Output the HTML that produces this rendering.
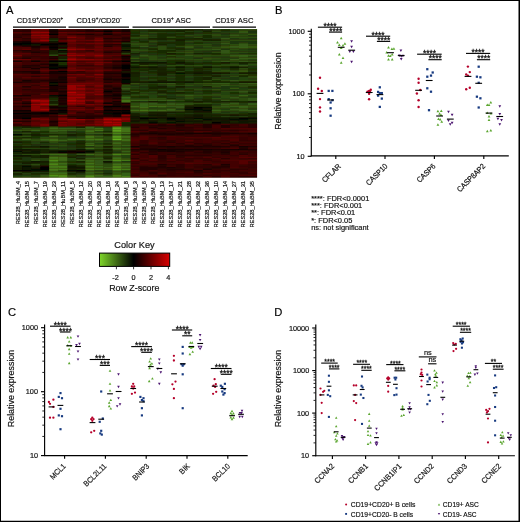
<!DOCTYPE html>
<html lang="en">
<head>
<meta charset="utf-8">
<title>Figure</title>
<style>
html,body{margin:0;padding:0;background:#fff;}
body{width:520px;height:522px;overflow:hidden;}
svg{display:block;font-family:"Liberation Sans",sans-serif;will-change:transform;}
text{stroke:#111;stroke-width:.18px;}
</style>
</head>
<body>
<svg width="520" height="522" viewBox="0 0 520 522">
<rect width="520" height="522" fill="#fff"/>
<defs><filter id="hb" x="0" y="0" width="1" height="1"><feGaussianBlur stdDeviation="0.45"/></filter></defs>
<rect x="13" y="29" width="244" height="148.5" fill="#2a1200"/>
<g filter="url(#hb)">
<path fill="#300000" d="M13 29h9.14v1.6h-9.14zM103.37 29h9.14v1.6h-9.14zM13 33.5h9.14v1.6h-9.14zM67.22 33.5h9.14v1.6h-9.14zM112.41 33.5h9.14v1.6h-9.14zM13 35h9.14v1.6h-9.14zM49.15 35h9.14v1.6h-9.14zM112.41 35h9.14v1.6h-9.14zM40.11 45.5h9.14v1.6h-9.14zM31.07 50h9.14v1.6h-9.14zM40.11 50h9.14v1.6h-9.14zM58.19 54.5h9.14v1.6h-9.14zM31.07 56h9.14v1.6h-9.14zM13 57.5h9.14v1.6h-9.14zM112.41 63.5h9.14v1.6h-9.14zM13 66.5h9.14v1.6h-9.14zM31.07 66.5h9.14v1.6h-9.14zM103.37 68h9.14v1.6h-9.14zM103.37 71h9.14v1.6h-9.14zM112.41 71h9.14v1.6h-9.14zM22.04 72.5h9.14v1.6h-9.14zM103.37 74h9.14v1.6h-9.14zM31.07 78.5h9.14v1.6h-9.14zM31.07 84.5h9.14v1.6h-9.14zM40.11 89h9.14v1.6h-9.14zM58.19 89h9.14v1.6h-9.14zM112.41 92h9.14v1.6h-9.14zM103.37 93.5h9.14v1.6h-9.14zM103.37 98h9.14v1.6h-9.14zM22.04 101h9.14v1.6h-9.14zM13 102.5h9.14v1.6h-9.14zM76.26 105.5h9.14v1.6h-9.14zM94.33 111.5h9.14v1.6h-9.14zM85.3 113h9.14v1.6h-9.14zM13 123.5h9.14v1.6h-9.14zM130.48 123.5h9.14v1.6h-9.14zM184.7 123.5h9.14v1.6h-9.14zM211.81 123.5h9.14v1.6h-9.14zM13 125h9.14v1.6h-9.14zM130.48 125h9.14v1.6h-9.14zM139.52 125h9.14v1.6h-9.14zM193.74 125h9.14v1.6h-9.14zM229.89 125h9.14v1.6h-9.14zM166.63 126.5h9.14v1.6h-9.14zM166.63 128h9.14v1.6h-9.14zM175.67 128h9.14v1.6h-9.14zM184.7 128h9.14v1.6h-9.14zM130.48 129.5h9.14v1.6h-9.14zM220.85 129.5h9.14v1.6h-9.14zM157.59 131h9.14v1.6h-9.14zM211.81 131h9.14v1.6h-9.14zM202.78 134h9.14v1.6h-9.14zM238.93 134h9.14v1.6h-9.14zM130.48 135.5h9.14v1.6h-9.14zM202.78 135.5h9.14v1.6h-9.14zM211.81 135.5h9.14v1.6h-9.14zM157.59 138.5h9.14v1.6h-9.14zM139.52 140h9.14v1.6h-9.14zM166.63 140h9.14v1.6h-9.14zM238.93 140h9.14v1.6h-9.14zM139.52 141.5h9.14v1.6h-9.14zM157.59 141.5h9.14v1.6h-9.14zM229.89 141.5h9.14v1.6h-9.14zM202.78 143h9.14v1.6h-9.14zM229.89 146h9.14v1.6h-9.14zM130.48 150.5h9.14v1.6h-9.14zM211.81 152h9.14v1.6h-9.14zM238.93 152h9.14v1.6h-9.14zM175.67 153.5h9.14v1.6h-9.14zM229.89 155h9.14v1.6h-9.14zM175.67 156.5h9.14v1.6h-9.14zM184.7 158h9.14v1.6h-9.14zM193.74 158h9.14v1.6h-9.14zM139.52 159.5h9.14v1.6h-9.14zM157.59 159.5h9.14v1.6h-9.14zM175.67 159.5h9.14v1.6h-9.14zM202.78 159.5h9.14v1.6h-9.14zM166.63 161h9.14v1.6h-9.14zM130.48 162.5h9.14v1.6h-9.14zM193.74 165.5h9.14v1.6h-9.14zM202.78 165.5h9.14v1.6h-9.14zM193.74 167h9.14v1.6h-9.14zM202.78 167h9.14v1.6h-9.14zM247.96 167h9.14v1.6h-9.14zM157.59 168.5h9.14v1.6h-9.14zM238.93 168.5h9.14v1.6h-9.14zM157.59 170h9.14v1.6h-9.14zM184.7 170h9.14v1.6h-9.14zM211.81 170h9.14v1.6h-9.14zM220.85 170h9.14v1.6h-9.14zM202.78 171.5h9.14v1.6h-9.14zM211.81 171.5h9.14v1.6h-9.14zM229.89 171.5h9.14v1.6h-9.14zM238.93 171.5h9.14v1.6h-9.14zM238.93 173h9.14v1.6h-9.14zM157.59 176h9.14v1.6h-9.14zM184.7 176h9.14v1.6h-9.14zM229.89 176h9.14v1.6h-9.14z"/>
<path fill="#2a0000" d="M22.04 29h9.14v1.6h-9.14zM13 30.5h9.14v1.6h-9.14zM22.04 30.5h9.14v1.6h-9.14zM76.26 30.5h9.14v1.6h-9.14zM121.44 33.5h9.14v1.6h-9.14zM13 36.5h9.14v1.6h-9.14zM49.15 36.5h9.14v1.6h-9.14zM121.44 36.5h9.14v1.6h-9.14zM22.04 38h9.14v1.6h-9.14zM112.41 38h9.14v1.6h-9.14zM103.37 41h9.14v1.6h-9.14zM112.41 41h9.14v1.6h-9.14zM103.37 44h9.14v1.6h-9.14zM112.41 44h9.14v1.6h-9.14zM13 50h9.14v1.6h-9.14zM40.11 51.5h9.14v1.6h-9.14zM112.41 51.5h9.14v1.6h-9.14zM121.44 59h9.14v1.6h-9.14zM40.11 60.5h9.14v1.6h-9.14zM103.37 66.5h9.14v1.6h-9.14zM40.11 72.5h9.14v1.6h-9.14zM49.15 74h9.14v1.6h-9.14zM58.19 74h9.14v1.6h-9.14zM31.07 75.5h9.14v1.6h-9.14zM49.15 75.5h9.14v1.6h-9.14zM103.37 75.5h9.14v1.6h-9.14zM112.41 75.5h9.14v1.6h-9.14zM49.15 77h9.14v1.6h-9.14zM103.37 77h9.14v1.6h-9.14zM31.07 80h9.14v1.6h-9.14zM103.37 80h9.14v1.6h-9.14zM22.04 81.5h9.14v1.6h-9.14zM31.07 81.5h9.14v1.6h-9.14zM58.19 84.5h9.14v1.6h-9.14zM103.37 84.5h9.14v1.6h-9.14zM22.04 89h9.14v1.6h-9.14zM103.37 96.5h9.14v1.6h-9.14zM112.41 96.5h9.14v1.6h-9.14zM13 98h9.14v1.6h-9.14zM13 105.5h9.14v1.6h-9.14zM121.44 108.5h9.14v1.6h-9.14zM76.26 111.5h9.14v1.6h-9.14zM31.07 114.5h9.14v1.6h-9.14zM85.3 114.5h9.14v1.6h-9.14zM94.33 114.5h9.14v1.6h-9.14zM49.15 116h9.14v1.6h-9.14zM76.26 116h9.14v1.6h-9.14zM49.15 123.5h9.14v1.6h-9.14zM157.59 123.5h9.14v1.6h-9.14zM247.96 123.5h9.14v1.6h-9.14zM148.56 125h9.14v1.6h-9.14zM166.63 125h9.14v1.6h-9.14zM247.96 125h9.14v1.6h-9.14zM175.67 126.5h9.14v1.6h-9.14zM184.7 126.5h9.14v1.6h-9.14zM247.96 126.5h9.14v1.6h-9.14zM139.52 129.5h9.14v1.6h-9.14zM184.7 129.5h9.14v1.6h-9.14zM193.74 129.5h9.14v1.6h-9.14zM202.78 129.5h9.14v1.6h-9.14zM229.89 129.5h9.14v1.6h-9.14zM148.56 131h9.14v1.6h-9.14zM166.63 131h9.14v1.6h-9.14zM130.48 132.5h9.14v1.6h-9.14zM139.52 134h9.14v1.6h-9.14zM148.56 134h9.14v1.6h-9.14zM184.7 134h9.14v1.6h-9.14zM220.85 134h9.14v1.6h-9.14zM247.96 134h9.14v1.6h-9.14zM157.59 137h9.14v1.6h-9.14zM166.63 141.5h9.14v1.6h-9.14zM175.67 143h9.14v1.6h-9.14zM193.74 143h9.14v1.6h-9.14zM220.85 143h9.14v1.6h-9.14zM148.56 144.5h9.14v1.6h-9.14zM139.52 146h9.14v1.6h-9.14zM148.56 146h9.14v1.6h-9.14zM166.63 147.5h9.14v1.6h-9.14zM175.67 147.5h9.14v1.6h-9.14zM193.74 147.5h9.14v1.6h-9.14zM184.7 150.5h9.14v1.6h-9.14zM211.81 150.5h9.14v1.6h-9.14zM139.52 152h9.14v1.6h-9.14zM148.56 152h9.14v1.6h-9.14zM175.67 152h9.14v1.6h-9.14zM193.74 152h9.14v1.6h-9.14zM130.48 153.5h9.14v1.6h-9.14zM166.63 153.5h9.14v1.6h-9.14zM220.85 153.5h9.14v1.6h-9.14zM238.93 153.5h9.14v1.6h-9.14zM157.59 155h9.14v1.6h-9.14zM175.67 155h9.14v1.6h-9.14zM184.7 155h9.14v1.6h-9.14zM193.74 155h9.14v1.6h-9.14zM202.78 155h9.14v1.6h-9.14zM157.59 156.5h9.14v1.6h-9.14zM130.48 158h9.14v1.6h-9.14zM157.59 158h9.14v1.6h-9.14zM220.85 158h9.14v1.6h-9.14zM175.67 164h9.14v1.6h-9.14zM202.78 164h9.14v1.6h-9.14zM139.52 165.5h9.14v1.6h-9.14zM175.67 165.5h9.14v1.6h-9.14zM211.81 165.5h9.14v1.6h-9.14zM175.67 167h9.14v1.6h-9.14zM220.85 167h9.14v1.6h-9.14zM184.7 168.5h9.14v1.6h-9.14zM229.89 168.5h9.14v1.6h-9.14zM139.52 170h9.14v1.6h-9.14zM166.63 170h9.14v1.6h-9.14zM148.56 171.5h9.14v1.6h-9.14zM193.74 171.5h9.14v1.6h-9.14zM148.56 173h9.14v1.6h-9.14zM157.59 174.5h9.14v1.6h-9.14zM193.74 176h9.14v1.6h-9.14zM211.81 176h9.14v1.6h-9.14zM238.93 176h9.14v1.6h-9.14zM247.96 176h9.14v1.6h-9.14z"/>
<path fill="#660000" d="M31.07 29h9.14v1.6h-9.14zM40.11 30.5h9.14v1.6h-9.14zM58.19 32h9.14v1.6h-9.14zM31.07 38h9.14v1.6h-9.14zM94.33 38h9.14v1.6h-9.14zM85.3 39.5h9.14v1.6h-9.14zM40.11 41h9.14v1.6h-9.14zM67.22 42.5h9.14v1.6h-9.14zM94.33 47h9.14v1.6h-9.14zM76.26 53h9.14v1.6h-9.14zM94.33 53h9.14v1.6h-9.14zM22.04 59h9.14v1.6h-9.14zM103.37 59h9.14v1.6h-9.14zM103.37 62h9.14v1.6h-9.14zM85.3 69.5h9.14v1.6h-9.14zM85.3 75.5h9.14v1.6h-9.14zM94.33 83h9.14v1.6h-9.14zM85.3 84.5h9.14v1.6h-9.14zM94.33 87.5h9.14v1.6h-9.14zM85.3 89h9.14v1.6h-9.14zM40.11 105.5h9.14v1.6h-9.14zM94.33 107h9.14v1.6h-9.14zM31.07 119h9.14v1.6h-9.14zM76.26 120.5h9.14v1.6h-9.14zM76.26 122h9.14v1.6h-9.14zM67.22 125h9.14v1.6h-9.14z"/>
<path fill="#6c0000" d="M40.11 29h9.14v1.6h-9.14zM31.07 30.5h9.14v1.6h-9.14zM31.07 33.5h9.14v1.6h-9.14zM40.11 38h9.14v1.6h-9.14zM31.07 39.5h9.14v1.6h-9.14zM67.22 41h9.14v1.6h-9.14zM85.3 42.5h9.14v1.6h-9.14zM67.22 47h9.14v1.6h-9.14zM85.3 48.5h9.14v1.6h-9.14zM94.33 48.5h9.14v1.6h-9.14zM85.3 53h9.14v1.6h-9.14zM13 54.5h9.14v1.6h-9.14zM85.3 54.5h9.14v1.6h-9.14zM67.22 56h9.14v1.6h-9.14zM13 59h9.14v1.6h-9.14zM85.3 62h9.14v1.6h-9.14zM67.22 68h9.14v1.6h-9.14zM67.22 74h9.14v1.6h-9.14zM94.33 77h9.14v1.6h-9.14zM85.3 87.5h9.14v1.6h-9.14zM94.33 92h9.14v1.6h-9.14zM31.07 102.5h9.14v1.6h-9.14zM76.26 104h9.14v1.6h-9.14zM94.33 104h9.14v1.6h-9.14zM67.22 108.5h9.14v1.6h-9.14zM76.26 108.5h9.14v1.6h-9.14zM31.07 117.5h9.14v1.6h-9.14zM85.3 119h9.14v1.6h-9.14zM67.22 120.5h9.14v1.6h-9.14zM67.22 122h9.14v1.6h-9.14zM67.22 123.5h9.14v1.6h-9.14zM85.3 123.5h9.14v1.6h-9.14zM76.26 125h9.14v1.6h-9.14zM94.33 125h9.14v1.6h-9.14z"/>
<path fill="#120000" d="M49.15 29h9.14v1.6h-9.14zM121.44 30.5h9.14v1.6h-9.14zM22.04 41h9.14v1.6h-9.14zM121.44 41h9.14v1.6h-9.14zM31.07 42.5h9.14v1.6h-9.14zM58.19 44h9.14v1.6h-9.14zM31.07 45.5h9.14v1.6h-9.14zM112.41 66.5h9.14v1.6h-9.14zM31.07 68h9.14v1.6h-9.14zM49.15 71h9.14v1.6h-9.14zM49.15 72.5h9.14v1.6h-9.14zM58.19 72.5h9.14v1.6h-9.14zM121.44 77h9.14v1.6h-9.14zM58.19 78.5h9.14v1.6h-9.14zM49.15 80h9.14v1.6h-9.14zM49.15 90.5h9.14v1.6h-9.14zM112.41 90.5h9.14v1.6h-9.14zM112.41 93.5h9.14v1.6h-9.14zM22.04 95h9.14v1.6h-9.14zM103.37 95h9.14v1.6h-9.14zM121.44 102.5h9.14v1.6h-9.14zM22.04 105.5h9.14v1.6h-9.14zM103.37 111.5h9.14v1.6h-9.14zM112.41 114.5h9.14v1.6h-9.14zM49.15 120.5h9.14v1.6h-9.14zM184.7 149h9.14v1.6h-9.14zM193.74 149h9.14v1.6h-9.14zM202.78 149h9.14v1.6h-9.14zM229.89 149h9.14v1.6h-9.14z"/>
<path fill="#5a0000" d="M58.19 29h9.14v1.6h-9.14zM67.22 32h9.14v1.6h-9.14zM76.26 38h9.14v1.6h-9.14zM58.19 39.5h9.14v1.6h-9.14zM112.41 42.5h9.14v1.6h-9.14zM94.33 44h9.14v1.6h-9.14zM67.22 51.5h9.14v1.6h-9.14zM85.3 51.5h9.14v1.6h-9.14zM103.37 54.5h9.14v1.6h-9.14zM112.41 54.5h9.14v1.6h-9.14zM76.26 56h9.14v1.6h-9.14zM85.3 56h9.14v1.6h-9.14zM112.41 59h9.14v1.6h-9.14zM76.26 62h9.14v1.6h-9.14zM103.37 69.5h9.14v1.6h-9.14zM94.33 75.5h9.14v1.6h-9.14zM67.22 78.5h9.14v1.6h-9.14zM94.33 78.5h9.14v1.6h-9.14zM85.3 90.5h9.14v1.6h-9.14zM40.11 93.5h9.14v1.6h-9.14zM85.3 93.5h9.14v1.6h-9.14zM94.33 95h9.14v1.6h-9.14zM40.11 98h9.14v1.6h-9.14zM85.3 108.5h9.14v1.6h-9.14zM40.11 120.5h9.14v1.6h-9.14zM13 122h9.14v1.6h-9.14zM40.11 122h9.14v1.6h-9.14zM76.26 123.5h9.14v1.6h-9.14zM85.3 125h9.14v1.6h-9.14z"/>
<path fill="#420000" d="M67.22 29h9.14v1.6h-9.14zM121.44 35h9.14v1.6h-9.14zM22.04 36.5h9.14v1.6h-9.14zM85.3 36.5h9.14v1.6h-9.14zM112.41 36.5h9.14v1.6h-9.14zM13 39.5h9.14v1.6h-9.14zM85.3 41h9.14v1.6h-9.14zM76.26 44h9.14v1.6h-9.14zM85.3 45.5h9.14v1.6h-9.14zM112.41 45.5h9.14v1.6h-9.14zM103.37 50h9.14v1.6h-9.14zM13 51.5h9.14v1.6h-9.14zM103.37 53h9.14v1.6h-9.14zM22.04 54.5h9.14v1.6h-9.14zM31.07 54.5h9.14v1.6h-9.14zM103.37 57.5h9.14v1.6h-9.14zM40.11 59h9.14v1.6h-9.14zM76.26 60.5h9.14v1.6h-9.14zM40.11 62h9.14v1.6h-9.14zM13 68h9.14v1.6h-9.14zM40.11 68h9.14v1.6h-9.14zM13 69.5h9.14v1.6h-9.14zM22.04 69.5h9.14v1.6h-9.14zM31.07 69.5h9.14v1.6h-9.14zM85.3 72.5h9.14v1.6h-9.14zM13 75.5h9.14v1.6h-9.14zM22.04 75.5h9.14v1.6h-9.14zM13 77h9.14v1.6h-9.14zM76.26 78.5h9.14v1.6h-9.14zM85.3 78.5h9.14v1.6h-9.14zM40.11 81.5h9.14v1.6h-9.14zM13 83h9.14v1.6h-9.14zM22.04 83h9.14v1.6h-9.14zM31.07 86h9.14v1.6h-9.14zM13 87.5h9.14v1.6h-9.14zM22.04 87.5h9.14v1.6h-9.14zM31.07 87.5h9.14v1.6h-9.14zM13 89h9.14v1.6h-9.14zM13 90.5h9.14v1.6h-9.14zM22.04 92h9.14v1.6h-9.14zM40.11 92h9.14v1.6h-9.14zM31.07 95h9.14v1.6h-9.14zM40.11 95h9.14v1.6h-9.14zM13 96.5h9.14v1.6h-9.14zM22.04 96.5h9.14v1.6h-9.14zM31.07 96.5h9.14v1.6h-9.14zM40.11 96.5h9.14v1.6h-9.14zM103.37 99.5h9.14v1.6h-9.14zM103.37 101h9.14v1.6h-9.14zM58.19 116h9.14v1.6h-9.14zM94.33 117.5h9.14v1.6h-9.14zM22.04 122h9.14v1.6h-9.14zM148.56 123.5h9.14v1.6h-9.14zM166.63 123.5h9.14v1.6h-9.14zM220.85 123.5h9.14v1.6h-9.14zM238.93 123.5h9.14v1.6h-9.14zM211.81 125h9.14v1.6h-9.14zM238.93 125h9.14v1.6h-9.14zM211.81 126.5h9.14v1.6h-9.14zM139.52 128h9.14v1.6h-9.14zM193.74 128h9.14v1.6h-9.14zM247.96 129.5h9.14v1.6h-9.14zM139.52 131h9.14v1.6h-9.14zM175.67 131h9.14v1.6h-9.14zM220.85 131h9.14v1.6h-9.14zM148.56 135.5h9.14v1.6h-9.14zM175.67 135.5h9.14v1.6h-9.14zM130.48 137h9.14v1.6h-9.14zM166.63 137h9.14v1.6h-9.14zM175.67 137h9.14v1.6h-9.14zM220.85 137h9.14v1.6h-9.14zM229.89 137h9.14v1.6h-9.14zM166.63 138.5h9.14v1.6h-9.14zM148.56 140h9.14v1.6h-9.14zM202.78 140h9.14v1.6h-9.14zM130.48 141.5h9.14v1.6h-9.14zM202.78 141.5h9.14v1.6h-9.14zM220.85 141.5h9.14v1.6h-9.14zM238.93 141.5h9.14v1.6h-9.14zM247.96 141.5h9.14v1.6h-9.14zM166.63 143h9.14v1.6h-9.14zM229.89 143h9.14v1.6h-9.14zM130.48 144.5h9.14v1.6h-9.14zM238.93 144.5h9.14v1.6h-9.14zM220.85 147.5h9.14v1.6h-9.14zM139.52 153.5h9.14v1.6h-9.14zM166.63 155h9.14v1.6h-9.14zM130.48 156.5h9.14v1.6h-9.14zM220.85 156.5h9.14v1.6h-9.14zM229.89 156.5h9.14v1.6h-9.14zM148.56 158h9.14v1.6h-9.14zM229.89 158h9.14v1.6h-9.14zM139.52 161h9.14v1.6h-9.14zM175.67 161h9.14v1.6h-9.14zM202.78 161h9.14v1.6h-9.14zM229.89 161h9.14v1.6h-9.14zM166.63 162.5h9.14v1.6h-9.14zM175.67 162.5h9.14v1.6h-9.14zM211.81 162.5h9.14v1.6h-9.14zM229.89 162.5h9.14v1.6h-9.14zM247.96 162.5h9.14v1.6h-9.14zM130.48 164h9.14v1.6h-9.14zM139.52 164h9.14v1.6h-9.14zM148.56 164h9.14v1.6h-9.14zM229.89 164h9.14v1.6h-9.14zM238.93 164h9.14v1.6h-9.14zM229.89 165.5h9.14v1.6h-9.14zM130.48 167h9.14v1.6h-9.14zM184.7 167h9.14v1.6h-9.14zM130.48 170h9.14v1.6h-9.14zM148.56 170h9.14v1.6h-9.14zM238.93 170h9.14v1.6h-9.14zM175.67 171.5h9.14v1.6h-9.14zM220.85 171.5h9.14v1.6h-9.14zM139.52 173h9.14v1.6h-9.14zM211.81 173h9.14v1.6h-9.14zM220.85 173h9.14v1.6h-9.14zM229.89 173h9.14v1.6h-9.14zM148.56 174.5h9.14v1.6h-9.14zM193.74 174.5h9.14v1.6h-9.14zM148.56 176h9.14v1.6h-9.14zM202.78 176h9.14v1.6h-9.14z"/>
<path fill="#360000" d="M76.26 29h9.14v1.6h-9.14zM112.41 29h9.14v1.6h-9.14zM58.19 30.5h9.14v1.6h-9.14zM67.22 30.5h9.14v1.6h-9.14zM103.37 32h9.14v1.6h-9.14zM94.33 33.5h9.14v1.6h-9.14zM22.04 35h9.14v1.6h-9.14zM94.33 35h9.14v1.6h-9.14zM58.19 38h9.14v1.6h-9.14zM22.04 39.5h9.14v1.6h-9.14zM121.44 39.5h9.14v1.6h-9.14zM13 45.5h9.14v1.6h-9.14zM40.11 47h9.14v1.6h-9.14zM31.07 48.5h9.14v1.6h-9.14zM85.3 50h9.14v1.6h-9.14zM22.04 51.5h9.14v1.6h-9.14zM40.11 53h9.14v1.6h-9.14zM121.44 54.5h9.14v1.6h-9.14zM22.04 56h9.14v1.6h-9.14zM40.11 56h9.14v1.6h-9.14zM40.11 57.5h9.14v1.6h-9.14zM22.04 60.5h9.14v1.6h-9.14zM103.37 60.5h9.14v1.6h-9.14zM121.44 62h9.14v1.6h-9.14zM31.07 63.5h9.14v1.6h-9.14zM76.26 65h9.14v1.6h-9.14zM85.3 65h9.14v1.6h-9.14zM103.37 65h9.14v1.6h-9.14zM76.26 71h9.14v1.6h-9.14zM13 72.5h9.14v1.6h-9.14zM67.22 72.5h9.14v1.6h-9.14zM112.41 74h9.14v1.6h-9.14zM112.41 77h9.14v1.6h-9.14zM13 78.5h9.14v1.6h-9.14zM22.04 78.5h9.14v1.6h-9.14zM40.11 78.5h9.14v1.6h-9.14zM76.26 80h9.14v1.6h-9.14zM112.41 81.5h9.14v1.6h-9.14zM58.19 83h9.14v1.6h-9.14zM112.41 86h9.14v1.6h-9.14zM103.37 87.5h9.14v1.6h-9.14zM31.07 89h9.14v1.6h-9.14zM31.07 90.5h9.14v1.6h-9.14zM40.11 90.5h9.14v1.6h-9.14zM22.04 93.5h9.14v1.6h-9.14zM31.07 93.5h9.14v1.6h-9.14zM22.04 98h9.14v1.6h-9.14zM13 99.5h9.14v1.6h-9.14zM121.44 104h9.14v1.6h-9.14zM13 107h9.14v1.6h-9.14zM22.04 107h9.14v1.6h-9.14zM13 108.5h9.14v1.6h-9.14zM49.15 108.5h9.14v1.6h-9.14zM112.41 108.5h9.14v1.6h-9.14zM76.26 114.5h9.14v1.6h-9.14zM139.52 123.5h9.14v1.6h-9.14zM229.89 123.5h9.14v1.6h-9.14zM22.04 125h9.14v1.6h-9.14zM157.59 126.5h9.14v1.6h-9.14zM193.74 126.5h9.14v1.6h-9.14zM229.89 126.5h9.14v1.6h-9.14zM238.93 126.5h9.14v1.6h-9.14zM148.56 128h9.14v1.6h-9.14zM202.78 128h9.14v1.6h-9.14zM211.81 129.5h9.14v1.6h-9.14zM238.93 129.5h9.14v1.6h-9.14zM184.7 131h9.14v1.6h-9.14zM193.74 134h9.14v1.6h-9.14zM229.89 134h9.14v1.6h-9.14zM184.7 135.5h9.14v1.6h-9.14zM193.74 135.5h9.14v1.6h-9.14zM247.96 135.5h9.14v1.6h-9.14zM148.56 137h9.14v1.6h-9.14zM238.93 137h9.14v1.6h-9.14zM193.74 138.5h9.14v1.6h-9.14zM238.93 138.5h9.14v1.6h-9.14zM220.85 140h9.14v1.6h-9.14zM247.96 140h9.14v1.6h-9.14zM184.7 141.5h9.14v1.6h-9.14zM211.81 141.5h9.14v1.6h-9.14zM139.52 143h9.14v1.6h-9.14zM157.59 143h9.14v1.6h-9.14zM238.93 143h9.14v1.6h-9.14zM247.96 143h9.14v1.6h-9.14zM157.59 144.5h9.14v1.6h-9.14zM175.67 144.5h9.14v1.6h-9.14zM193.74 144.5h9.14v1.6h-9.14zM211.81 144.5h9.14v1.6h-9.14zM157.59 147.5h9.14v1.6h-9.14zM184.7 147.5h9.14v1.6h-9.14zM202.78 147.5h9.14v1.6h-9.14zM211.81 147.5h9.14v1.6h-9.14zM193.74 150.5h9.14v1.6h-9.14zM229.89 150.5h9.14v1.6h-9.14zM247.96 150.5h9.14v1.6h-9.14zM157.59 152h9.14v1.6h-9.14zM166.63 152h9.14v1.6h-9.14zM247.96 152h9.14v1.6h-9.14zM157.59 153.5h9.14v1.6h-9.14zM184.7 153.5h9.14v1.6h-9.14zM193.74 153.5h9.14v1.6h-9.14zM202.78 153.5h9.14v1.6h-9.14zM211.81 153.5h9.14v1.6h-9.14zM211.81 156.5h9.14v1.6h-9.14zM202.78 158h9.14v1.6h-9.14zM247.96 158h9.14v1.6h-9.14zM184.7 159.5h9.14v1.6h-9.14zM130.48 161h9.14v1.6h-9.14zM148.56 161h9.14v1.6h-9.14zM157.59 161h9.14v1.6h-9.14zM184.7 161h9.14v1.6h-9.14zM211.81 161h9.14v1.6h-9.14zM166.63 164h9.14v1.6h-9.14zM193.74 164h9.14v1.6h-9.14zM247.96 164h9.14v1.6h-9.14zM130.48 165.5h9.14v1.6h-9.14zM148.56 165.5h9.14v1.6h-9.14zM238.93 165.5h9.14v1.6h-9.14zM247.96 165.5h9.14v1.6h-9.14zM130.48 168.5h9.14v1.6h-9.14zM211.81 168.5h9.14v1.6h-9.14zM175.67 170h9.14v1.6h-9.14zM229.89 170h9.14v1.6h-9.14zM166.63 171.5h9.14v1.6h-9.14zM166.63 173h9.14v1.6h-9.14zM175.67 173h9.14v1.6h-9.14zM193.74 173h9.14v1.6h-9.14zM130.48 174.5h9.14v1.6h-9.14zM166.63 174.5h9.14v1.6h-9.14zM202.78 174.5h9.14v1.6h-9.14z"/>
<path fill="#240000" d="M85.3 29h9.14v1.6h-9.14zM85.3 30.5h9.14v1.6h-9.14zM112.41 30.5h9.14v1.6h-9.14zM49.15 32h9.14v1.6h-9.14zM22.04 33.5h9.14v1.6h-9.14zM76.26 33.5h9.14v1.6h-9.14zM103.37 38h9.14v1.6h-9.14zM121.44 38h9.14v1.6h-9.14zM40.11 42.5h9.14v1.6h-9.14zM22.04 45.5h9.14v1.6h-9.14zM103.37 45.5h9.14v1.6h-9.14zM22.04 50h9.14v1.6h-9.14zM103.37 51.5h9.14v1.6h-9.14zM49.15 56h9.14v1.6h-9.14zM22.04 57.5h9.14v1.6h-9.14zM40.11 63.5h9.14v1.6h-9.14zM22.04 65h9.14v1.6h-9.14zM31.07 65h9.14v1.6h-9.14zM112.41 65h9.14v1.6h-9.14zM13 71h9.14v1.6h-9.14zM40.11 80h9.14v1.6h-9.14zM112.41 80h9.14v1.6h-9.14zM103.37 81.5h9.14v1.6h-9.14zM22.04 86h9.14v1.6h-9.14zM103.37 86h9.14v1.6h-9.14zM58.19 87.5h9.14v1.6h-9.14zM103.37 89h9.14v1.6h-9.14zM58.19 92h9.14v1.6h-9.14zM58.19 96.5h9.14v1.6h-9.14zM58.19 101h9.14v1.6h-9.14zM112.41 107h9.14v1.6h-9.14zM13 111.5h9.14v1.6h-9.14zM40.11 114.5h9.14v1.6h-9.14zM31.07 116h9.14v1.6h-9.14zM40.11 116h9.14v1.6h-9.14zM67.22 116h9.14v1.6h-9.14zM85.3 116h9.14v1.6h-9.14zM94.33 116h9.14v1.6h-9.14zM103.37 116h9.14v1.6h-9.14zM76.26 117.5h9.14v1.6h-9.14zM85.3 117.5h9.14v1.6h-9.14zM13 120.5h9.14v1.6h-9.14zM22.04 120.5h9.14v1.6h-9.14zM49.15 122h9.14v1.6h-9.14zM175.67 123.5h9.14v1.6h-9.14zM202.78 123.5h9.14v1.6h-9.14zM49.15 125h9.14v1.6h-9.14zM157.59 125h9.14v1.6h-9.14zM202.78 125h9.14v1.6h-9.14zM220.85 125h9.14v1.6h-9.14zM130.48 126.5h9.14v1.6h-9.14zM148.56 126.5h9.14v1.6h-9.14zM202.78 126.5h9.14v1.6h-9.14zM220.85 126.5h9.14v1.6h-9.14zM157.59 128h9.14v1.6h-9.14zM175.67 129.5h9.14v1.6h-9.14zM166.63 132.5h9.14v1.6h-9.14zM238.93 132.5h9.14v1.6h-9.14zM130.48 134h9.14v1.6h-9.14zM175.67 134h9.14v1.6h-9.14zM211.81 134h9.14v1.6h-9.14zM139.52 144.5h9.14v1.6h-9.14zM184.7 144.5h9.14v1.6h-9.14zM202.78 144.5h9.14v1.6h-9.14zM229.89 144.5h9.14v1.6h-9.14zM175.67 146h9.14v1.6h-9.14zM202.78 146h9.14v1.6h-9.14zM220.85 146h9.14v1.6h-9.14zM247.96 146h9.14v1.6h-9.14zM139.52 147.5h9.14v1.6h-9.14zM148.56 147.5h9.14v1.6h-9.14zM238.93 147.5h9.14v1.6h-9.14zM130.48 149h9.14v1.6h-9.14zM247.96 149h9.14v1.6h-9.14zM148.56 150.5h9.14v1.6h-9.14zM202.78 150.5h9.14v1.6h-9.14zM220.85 150.5h9.14v1.6h-9.14zM202.78 152h9.14v1.6h-9.14zM148.56 153.5h9.14v1.6h-9.14zM157.59 165.5h9.14v1.6h-9.14zM220.85 165.5h9.14v1.6h-9.14zM139.52 167h9.14v1.6h-9.14zM148.56 167h9.14v1.6h-9.14zM157.59 167h9.14v1.6h-9.14zM211.81 167h9.14v1.6h-9.14zM139.52 168.5h9.14v1.6h-9.14zM148.56 168.5h9.14v1.6h-9.14zM166.63 168.5h9.14v1.6h-9.14zM175.67 168.5h9.14v1.6h-9.14z"/>
<path fill="#480000" d="M94.33 29h9.14v1.6h-9.14zM22.04 32h9.14v1.6h-9.14zM76.26 35h9.14v1.6h-9.14zM76.26 41h9.14v1.6h-9.14zM85.3 44h9.14v1.6h-9.14zM76.26 45.5h9.14v1.6h-9.14zM13 47h9.14v1.6h-9.14zM85.3 47h9.14v1.6h-9.14zM76.26 50h9.14v1.6h-9.14zM112.41 53h9.14v1.6h-9.14zM40.11 54.5h9.14v1.6h-9.14zM85.3 57.5h9.14v1.6h-9.14zM112.41 57.5h9.14v1.6h-9.14zM31.07 59h9.14v1.6h-9.14zM85.3 60.5h9.14v1.6h-9.14zM31.07 62h9.14v1.6h-9.14zM13 63.5h9.14v1.6h-9.14zM85.3 68h9.14v1.6h-9.14zM49.15 69.5h9.14v1.6h-9.14zM40.11 71h9.14v1.6h-9.14zM67.22 71h9.14v1.6h-9.14zM85.3 80h9.14v1.6h-9.14zM31.07 83h9.14v1.6h-9.14zM22.04 84.5h9.14v1.6h-9.14zM13 86h9.14v1.6h-9.14zM13 92h9.14v1.6h-9.14zM85.3 98h9.14v1.6h-9.14zM13 104h9.14v1.6h-9.14zM67.22 105.5h9.14v1.6h-9.14zM67.22 110h9.14v1.6h-9.14zM85.3 110h9.14v1.6h-9.14zM85.3 111.5h9.14v1.6h-9.14zM67.22 117.5h9.14v1.6h-9.14zM85.3 120.5h9.14v1.6h-9.14zM229.89 128h9.14v1.6h-9.14zM148.56 129.5h9.14v1.6h-9.14zM202.78 131h9.14v1.6h-9.14zM238.93 131h9.14v1.6h-9.14zM166.63 135.5h9.14v1.6h-9.14zM220.85 135.5h9.14v1.6h-9.14zM193.74 137h9.14v1.6h-9.14zM211.81 138.5h9.14v1.6h-9.14zM220.85 138.5h9.14v1.6h-9.14zM148.56 141.5h9.14v1.6h-9.14zM184.7 143h9.14v1.6h-9.14zM130.48 147.5h9.14v1.6h-9.14zM229.89 147.5h9.14v1.6h-9.14zM130.48 152h9.14v1.6h-9.14zM130.48 155h9.14v1.6h-9.14zM166.63 156.5h9.14v1.6h-9.14zM184.7 156.5h9.14v1.6h-9.14zM139.52 158h9.14v1.6h-9.14zM211.81 158h9.14v1.6h-9.14zM166.63 159.5h9.14v1.6h-9.14zM193.74 159.5h9.14v1.6h-9.14zM193.74 161h9.14v1.6h-9.14zM139.52 162.5h9.14v1.6h-9.14zM148.56 162.5h9.14v1.6h-9.14zM202.78 162.5h9.14v1.6h-9.14zM211.81 164h9.14v1.6h-9.14zM229.89 167h9.14v1.6h-9.14zM130.48 171.5h9.14v1.6h-9.14zM184.7 171.5h9.14v1.6h-9.14zM247.96 171.5h9.14v1.6h-9.14zM220.85 174.5h9.14v1.6h-9.14zM238.93 174.5h9.14v1.6h-9.14zM130.48 176h9.14v1.6h-9.14zM220.85 176h9.14v1.6h-9.14z"/>
<path fill="#180000" d="M121.44 29h9.14v1.6h-9.14zM49.15 30.5h9.14v1.6h-9.14zM49.15 48.5h9.14v1.6h-9.14zM13 60.5h9.14v1.6h-9.14zM121.44 63.5h9.14v1.6h-9.14zM58.19 68h9.14v1.6h-9.14zM58.19 77h9.14v1.6h-9.14zM103.37 78.5h9.14v1.6h-9.14zM22.04 80h9.14v1.6h-9.14zM121.44 83h9.14v1.6h-9.14zM112.41 87.5h9.14v1.6h-9.14zM49.15 89h9.14v1.6h-9.14zM58.19 90.5h9.14v1.6h-9.14zM58.19 98h9.14v1.6h-9.14zM112.41 98h9.14v1.6h-9.14zM112.41 101h9.14v1.6h-9.14zM22.04 102.5h9.14v1.6h-9.14zM58.19 102.5h9.14v1.6h-9.14zM49.15 105.5h9.14v1.6h-9.14zM103.37 107h9.14v1.6h-9.14zM121.44 107h9.14v1.6h-9.14zM31.07 111.5h9.14v1.6h-9.14zM49.15 111.5h9.14v1.6h-9.14zM22.04 114.5h9.14v1.6h-9.14zM13 116h9.14v1.6h-9.14zM22.04 116h9.14v1.6h-9.14zM112.41 116h9.14v1.6h-9.14zM13 117.5h9.14v1.6h-9.14zM148.56 132.5h9.14v1.6h-9.14zM184.7 132.5h9.14v1.6h-9.14zM193.74 132.5h9.14v1.6h-9.14zM202.78 132.5h9.14v1.6h-9.14zM247.96 132.5h9.14v1.6h-9.14zM130.48 146h9.14v1.6h-9.14zM166.63 146h9.14v1.6h-9.14zM238.93 146h9.14v1.6h-9.14zM148.56 149h9.14v1.6h-9.14zM166.63 149h9.14v1.6h-9.14zM175.67 149h9.14v1.6h-9.14zM220.85 149h9.14v1.6h-9.14zM238.93 149h9.14v1.6h-9.14zM76.26 150.5h9.14v1.6h-9.14zM166.63 150.5h9.14v1.6h-9.14zM67.22 152h9.14v1.6h-9.14zM40.11 165.5h9.14v1.6h-9.14z"/>
<path fill="#243c0c" d="M130.48 29h9.14v1.6h-9.14zM157.59 29h9.14v1.6h-9.14zM184.7 30.5h9.14v1.6h-9.14zM157.59 32h9.14v1.6h-9.14zM220.85 32h9.14v1.6h-9.14zM139.52 33.5h9.14v1.6h-9.14zM148.56 35h9.14v1.6h-9.14zM211.81 36.5h9.14v1.6h-9.14zM220.85 36.5h9.14v1.6h-9.14zM139.52 38h9.14v1.6h-9.14zM148.56 39.5h9.14v1.6h-9.14zM166.63 39.5h9.14v1.6h-9.14zM193.74 39.5h9.14v1.6h-9.14zM220.85 39.5h9.14v1.6h-9.14zM211.81 42.5h9.14v1.6h-9.14zM148.56 44h9.14v1.6h-9.14zM193.74 45.5h9.14v1.6h-9.14zM211.81 45.5h9.14v1.6h-9.14zM166.63 48.5h9.14v1.6h-9.14zM238.93 48.5h9.14v1.6h-9.14zM148.56 50h9.14v1.6h-9.14zM175.67 50h9.14v1.6h-9.14zM202.78 50h9.14v1.6h-9.14zM229.89 50h9.14v1.6h-9.14zM247.96 50h9.14v1.6h-9.14zM193.74 51.5h9.14v1.6h-9.14zM184.7 53h9.14v1.6h-9.14zM229.89 53h9.14v1.6h-9.14zM211.81 56h9.14v1.6h-9.14zM220.85 56h9.14v1.6h-9.14zM157.59 57.5h9.14v1.6h-9.14zM229.89 57.5h9.14v1.6h-9.14zM58.19 59h9.14v1.6h-9.14zM175.67 59h9.14v1.6h-9.14zM220.85 59h9.14v1.6h-9.14zM157.59 60.5h9.14v1.6h-9.14zM184.7 60.5h9.14v1.6h-9.14zM229.89 69.5h9.14v1.6h-9.14zM139.52 71h9.14v1.6h-9.14zM166.63 74h9.14v1.6h-9.14zM148.56 75.5h9.14v1.6h-9.14zM202.78 75.5h9.14v1.6h-9.14zM211.81 77h9.14v1.6h-9.14zM220.85 77h9.14v1.6h-9.14zM148.56 78.5h9.14v1.6h-9.14zM247.96 78.5h9.14v1.6h-9.14zM139.52 80h9.14v1.6h-9.14zM148.56 80h9.14v1.6h-9.14zM184.7 80h9.14v1.6h-9.14zM139.52 83h9.14v1.6h-9.14zM148.56 83h9.14v1.6h-9.14zM193.74 84.5h9.14v1.6h-9.14zM130.48 87.5h9.14v1.6h-9.14zM193.74 87.5h9.14v1.6h-9.14zM157.59 89h9.14v1.6h-9.14zM238.93 89h9.14v1.6h-9.14zM184.7 90.5h9.14v1.6h-9.14zM247.96 90.5h9.14v1.6h-9.14zM148.56 93.5h9.14v1.6h-9.14zM193.74 93.5h9.14v1.6h-9.14zM229.89 93.5h9.14v1.6h-9.14zM238.93 96.5h9.14v1.6h-9.14zM247.96 96.5h9.14v1.6h-9.14zM130.48 98h9.14v1.6h-9.14zM139.52 98h9.14v1.6h-9.14zM175.67 98h9.14v1.6h-9.14zM193.74 99.5h9.14v1.6h-9.14zM238.93 102.5h9.14v1.6h-9.14zM238.93 104h9.14v1.6h-9.14zM247.96 108.5h9.14v1.6h-9.14zM130.48 111.5h9.14v1.6h-9.14zM139.52 111.5h9.14v1.6h-9.14zM220.85 113h9.14v1.6h-9.14zM229.89 113h9.14v1.6h-9.14zM220.85 116h9.14v1.6h-9.14zM238.93 116h9.14v1.6h-9.14zM58.19 126.5h9.14v1.6h-9.14zM67.22 126.5h9.14v1.6h-9.14zM13 132.5h9.14v1.6h-9.14zM67.22 132.5h9.14v1.6h-9.14zM85.3 134h9.14v1.6h-9.14zM121.44 134h9.14v1.6h-9.14zM76.26 135.5h9.14v1.6h-9.14zM31.07 141.5h9.14v1.6h-9.14zM103.37 141.5h9.14v1.6h-9.14zM49.15 143h9.14v1.6h-9.14zM22.04 144.5h9.14v1.6h-9.14zM40.11 144.5h9.14v1.6h-9.14zM58.19 146h9.14v1.6h-9.14zM40.11 147.5h9.14v1.6h-9.14zM67.22 147.5h9.14v1.6h-9.14zM103.37 147.5h9.14v1.6h-9.14zM58.19 149h9.14v1.6h-9.14zM112.41 150.5h9.14v1.6h-9.14zM103.37 155h9.14v1.6h-9.14zM31.07 158h9.14v1.6h-9.14zM40.11 158h9.14v1.6h-9.14zM13 159.5h9.14v1.6h-9.14zM40.11 159.5h9.14v1.6h-9.14zM103.37 162.5h9.14v1.6h-9.14zM94.33 170h9.14v1.6h-9.14zM13 171.5h9.14v1.6h-9.14zM22.04 173h9.14v1.6h-9.14zM94.33 173h9.14v1.6h-9.14zM31.07 174.5h9.14v1.6h-9.14zM31.07 176h9.14v1.6h-9.14z"/>
<path fill="#24420c" d="M139.52 29h9.14v1.6h-9.14zM211.81 29h9.14v1.6h-9.14zM139.52 32h9.14v1.6h-9.14zM175.67 32h9.14v1.6h-9.14zM229.89 32h9.14v1.6h-9.14zM193.74 33.5h9.14v1.6h-9.14zM202.78 33.5h9.14v1.6h-9.14zM238.93 33.5h9.14v1.6h-9.14zM193.74 35h9.14v1.6h-9.14zM220.85 35h9.14v1.6h-9.14zM148.56 36.5h9.14v1.6h-9.14zM130.48 38h9.14v1.6h-9.14zM238.93 38h9.14v1.6h-9.14zM130.48 41h9.14v1.6h-9.14zM193.74 41h9.14v1.6h-9.14zM202.78 41h9.14v1.6h-9.14zM211.81 41h9.14v1.6h-9.14zM184.7 44h9.14v1.6h-9.14zM220.85 44h9.14v1.6h-9.14zM130.48 45.5h9.14v1.6h-9.14zM148.56 47h9.14v1.6h-9.14zM202.78 47h9.14v1.6h-9.14zM58.19 48.5h9.14v1.6h-9.14zM139.52 48.5h9.14v1.6h-9.14zM193.74 50h9.14v1.6h-9.14zM238.93 50h9.14v1.6h-9.14zM130.48 51.5h9.14v1.6h-9.14zM247.96 51.5h9.14v1.6h-9.14zM121.44 53h9.14v1.6h-9.14zM148.56 54.5h9.14v1.6h-9.14zM175.67 54.5h9.14v1.6h-9.14zM157.59 56h9.14v1.6h-9.14zM175.67 56h9.14v1.6h-9.14zM184.7 56h9.14v1.6h-9.14zM202.78 56h9.14v1.6h-9.14zM247.96 56h9.14v1.6h-9.14zM139.52 57.5h9.14v1.6h-9.14zM184.7 57.5h9.14v1.6h-9.14zM220.85 57.5h9.14v1.6h-9.14zM166.63 59h9.14v1.6h-9.14zM211.81 59h9.14v1.6h-9.14zM247.96 59h9.14v1.6h-9.14zM193.74 60.5h9.14v1.6h-9.14zM130.48 63.5h9.14v1.6h-9.14zM220.85 63.5h9.14v1.6h-9.14zM202.78 65h9.14v1.6h-9.14zM247.96 65h9.14v1.6h-9.14zM211.81 68h9.14v1.6h-9.14zM211.81 69.5h9.14v1.6h-9.14zM175.67 71h9.14v1.6h-9.14zM220.85 74h9.14v1.6h-9.14zM229.89 74h9.14v1.6h-9.14zM139.52 75.5h9.14v1.6h-9.14zM184.7 75.5h9.14v1.6h-9.14zM166.63 77h9.14v1.6h-9.14zM238.93 77h9.14v1.6h-9.14zM238.93 78.5h9.14v1.6h-9.14zM166.63 80h9.14v1.6h-9.14zM184.7 83h9.14v1.6h-9.14zM229.89 83h9.14v1.6h-9.14zM139.52 84.5h9.14v1.6h-9.14zM175.67 84.5h9.14v1.6h-9.14zM121.44 86h9.14v1.6h-9.14zM130.48 86h9.14v1.6h-9.14zM184.7 87.5h9.14v1.6h-9.14zM202.78 89h9.14v1.6h-9.14zM139.52 92h9.14v1.6h-9.14zM148.56 92h9.14v1.6h-9.14zM193.74 92h9.14v1.6h-9.14zM220.85 92h9.14v1.6h-9.14zM130.48 93.5h9.14v1.6h-9.14zM175.67 93.5h9.14v1.6h-9.14zM184.7 93.5h9.14v1.6h-9.14zM202.78 93.5h9.14v1.6h-9.14zM220.85 93.5h9.14v1.6h-9.14zM238.93 93.5h9.14v1.6h-9.14zM139.52 95h9.14v1.6h-9.14zM148.56 95h9.14v1.6h-9.14zM229.89 95h9.14v1.6h-9.14zM247.96 95h9.14v1.6h-9.14zM148.56 96.5h9.14v1.6h-9.14zM193.74 96.5h9.14v1.6h-9.14zM220.85 98h9.14v1.6h-9.14zM229.89 99.5h9.14v1.6h-9.14zM157.59 102.5h9.14v1.6h-9.14zM211.81 102.5h9.14v1.6h-9.14zM148.56 107h9.14v1.6h-9.14zM166.63 107h9.14v1.6h-9.14zM229.89 107h9.14v1.6h-9.14zM229.89 111.5h9.14v1.6h-9.14zM247.96 111.5h9.14v1.6h-9.14zM40.11 126.5h9.14v1.6h-9.14zM94.33 126.5h9.14v1.6h-9.14zM31.07 128h9.14v1.6h-9.14zM103.37 128h9.14v1.6h-9.14zM103.37 129.5h9.14v1.6h-9.14zM94.33 131h9.14v1.6h-9.14zM40.11 132.5h9.14v1.6h-9.14zM103.37 135.5h9.14v1.6h-9.14zM58.19 137h9.14v1.6h-9.14zM76.26 137h9.14v1.6h-9.14zM13 138.5h9.14v1.6h-9.14zM13 140h9.14v1.6h-9.14zM22.04 140h9.14v1.6h-9.14zM31.07 143h9.14v1.6h-9.14zM58.19 143h9.14v1.6h-9.14zM121.44 146h9.14v1.6h-9.14zM22.04 147.5h9.14v1.6h-9.14zM31.07 147.5h9.14v1.6h-9.14zM58.19 147.5h9.14v1.6h-9.14zM85.3 155h9.14v1.6h-9.14zM121.44 155h9.14v1.6h-9.14zM121.44 156.5h9.14v1.6h-9.14zM67.22 158h9.14v1.6h-9.14zM67.22 159.5h9.14v1.6h-9.14zM67.22 162.5h9.14v1.6h-9.14zM76.26 162.5h9.14v1.6h-9.14zM76.26 164h9.14v1.6h-9.14zM13 176h9.14v1.6h-9.14z"/>
<path fill="#1e360c" d="M148.56 29h9.14v1.6h-9.14zM166.63 29h9.14v1.6h-9.14zM175.67 29h9.14v1.6h-9.14zM139.52 30.5h9.14v1.6h-9.14zM220.85 30.5h9.14v1.6h-9.14zM211.81 32h9.14v1.6h-9.14zM247.96 32h9.14v1.6h-9.14zM130.48 33.5h9.14v1.6h-9.14zM148.56 33.5h9.14v1.6h-9.14zM220.85 33.5h9.14v1.6h-9.14zM175.67 35h9.14v1.6h-9.14zM247.96 35h9.14v1.6h-9.14zM184.7 36.5h9.14v1.6h-9.14zM202.78 38h9.14v1.6h-9.14zM211.81 38h9.14v1.6h-9.14zM229.89 38h9.14v1.6h-9.14zM247.96 38h9.14v1.6h-9.14zM49.15 39.5h9.14v1.6h-9.14zM139.52 39.5h9.14v1.6h-9.14zM157.59 39.5h9.14v1.6h-9.14zM184.7 39.5h9.14v1.6h-9.14zM157.59 41h9.14v1.6h-9.14zM166.63 41h9.14v1.6h-9.14zM229.89 41h9.14v1.6h-9.14zM238.93 41h9.14v1.6h-9.14zM247.96 41h9.14v1.6h-9.14zM148.56 42.5h9.14v1.6h-9.14zM184.7 42.5h9.14v1.6h-9.14zM229.89 42.5h9.14v1.6h-9.14zM247.96 42.5h9.14v1.6h-9.14zM166.63 44h9.14v1.6h-9.14zM211.81 44h9.14v1.6h-9.14zM166.63 45.5h9.14v1.6h-9.14zM139.52 47h9.14v1.6h-9.14zM193.74 47h9.14v1.6h-9.14zM184.7 48.5h9.14v1.6h-9.14zM220.85 48.5h9.14v1.6h-9.14zM247.96 48.5h9.14v1.6h-9.14zM211.81 50h9.14v1.6h-9.14zM202.78 51.5h9.14v1.6h-9.14zM58.19 53h9.14v1.6h-9.14zM139.52 53h9.14v1.6h-9.14zM148.56 53h9.14v1.6h-9.14zM130.48 59h9.14v1.6h-9.14zM139.52 60.5h9.14v1.6h-9.14zM148.56 60.5h9.14v1.6h-9.14zM175.67 63.5h9.14v1.6h-9.14zM202.78 63.5h9.14v1.6h-9.14zM238.93 63.5h9.14v1.6h-9.14zM247.96 66.5h9.14v1.6h-9.14zM184.7 68h9.14v1.6h-9.14zM220.85 68h9.14v1.6h-9.14zM148.56 69.5h9.14v1.6h-9.14zM139.52 74h9.14v1.6h-9.14zM148.56 74h9.14v1.6h-9.14zM184.7 74h9.14v1.6h-9.14zM211.81 74h9.14v1.6h-9.14zM157.59 75.5h9.14v1.6h-9.14zM166.63 75.5h9.14v1.6h-9.14zM193.74 75.5h9.14v1.6h-9.14zM220.85 75.5h9.14v1.6h-9.14zM139.52 77h9.14v1.6h-9.14zM229.89 77h9.14v1.6h-9.14zM166.63 78.5h9.14v1.6h-9.14zM184.7 78.5h9.14v1.6h-9.14zM229.89 78.5h9.14v1.6h-9.14zM130.48 84.5h9.14v1.6h-9.14zM157.59 84.5h9.14v1.6h-9.14zM139.52 86h9.14v1.6h-9.14zM184.7 86h9.14v1.6h-9.14zM193.74 86h9.14v1.6h-9.14zM220.85 86h9.14v1.6h-9.14zM175.67 87.5h9.14v1.6h-9.14zM211.81 87.5h9.14v1.6h-9.14zM220.85 87.5h9.14v1.6h-9.14zM139.52 89h9.14v1.6h-9.14zM175.67 89h9.14v1.6h-9.14zM229.89 89h9.14v1.6h-9.14zM148.56 90.5h9.14v1.6h-9.14zM193.74 90.5h9.14v1.6h-9.14zM121.44 92h9.14v1.6h-9.14zM166.63 93.5h9.14v1.6h-9.14zM166.63 96.5h9.14v1.6h-9.14zM175.67 96.5h9.14v1.6h-9.14zM211.81 96.5h9.14v1.6h-9.14zM193.74 98h9.14v1.6h-9.14zM49.15 99.5h9.14v1.6h-9.14zM166.63 101h9.14v1.6h-9.14zM211.81 104h9.14v1.6h-9.14zM175.67 108.5h9.14v1.6h-9.14zM220.85 111.5h9.14v1.6h-9.14zM238.93 111.5h9.14v1.6h-9.14zM184.7 113h9.14v1.6h-9.14zM211.81 113h9.14v1.6h-9.14zM229.89 116h9.14v1.6h-9.14zM103.37 126.5h9.14v1.6h-9.14zM13 128h9.14v1.6h-9.14zM13 131h9.14v1.6h-9.14zM31.07 131h9.14v1.6h-9.14zM94.33 134h9.14v1.6h-9.14zM40.11 135.5h9.14v1.6h-9.14zM76.26 140h9.14v1.6h-9.14zM103.37 140h9.14v1.6h-9.14zM58.19 141.5h9.14v1.6h-9.14zM67.22 141.5h9.14v1.6h-9.14zM13 143h9.14v1.6h-9.14zM40.11 143h9.14v1.6h-9.14zM67.22 144.5h9.14v1.6h-9.14zM49.15 146h9.14v1.6h-9.14zM67.22 146h9.14v1.6h-9.14zM85.3 146h9.14v1.6h-9.14zM76.26 147.5h9.14v1.6h-9.14zM49.15 149h9.14v1.6h-9.14zM94.33 150.5h9.14v1.6h-9.14zM112.41 152h9.14v1.6h-9.14zM13 153.5h9.14v1.6h-9.14zM67.22 153.5h9.14v1.6h-9.14zM22.04 158h9.14v1.6h-9.14zM22.04 159.5h9.14v1.6h-9.14zM121.44 161h9.14v1.6h-9.14zM13 162.5h9.14v1.6h-9.14zM13 164h9.14v1.6h-9.14zM22.04 164h9.14v1.6h-9.14zM103.37 170h9.14v1.6h-9.14zM31.07 171.5h9.14v1.6h-9.14zM40.11 171.5h9.14v1.6h-9.14zM67.22 171.5h9.14v1.6h-9.14zM103.37 171.5h9.14v1.6h-9.14zM13 174.5h9.14v1.6h-9.14z"/>
<path fill="#182406" d="M184.7 29h9.14v1.6h-9.14zM193.74 38h9.14v1.6h-9.14zM211.81 39.5h9.14v1.6h-9.14zM157.59 44h9.14v1.6h-9.14zM193.74 53h9.14v1.6h-9.14zM139.52 63.5h9.14v1.6h-9.14zM157.59 66.5h9.14v1.6h-9.14zM238.93 66.5h9.14v1.6h-9.14zM157.59 68h9.14v1.6h-9.14zM193.74 68h9.14v1.6h-9.14zM166.63 71h9.14v1.6h-9.14zM211.81 75.5h9.14v1.6h-9.14zM184.7 101h9.14v1.6h-9.14zM202.78 101h9.14v1.6h-9.14zM220.85 101h9.14v1.6h-9.14zM49.15 102.5h9.14v1.6h-9.14zM148.56 113h9.14v1.6h-9.14zM139.52 114.5h9.14v1.6h-9.14zM211.81 114.5h9.14v1.6h-9.14zM220.85 114.5h9.14v1.6h-9.14zM238.93 114.5h9.14v1.6h-9.14zM148.56 116h9.14v1.6h-9.14zM166.63 116h9.14v1.6h-9.14zM175.67 116h9.14v1.6h-9.14zM202.78 120.5h9.14v1.6h-9.14zM130.48 122h9.14v1.6h-9.14zM202.78 122h9.14v1.6h-9.14zM76.26 143h9.14v1.6h-9.14zM22.04 146h9.14v1.6h-9.14zM22.04 150.5h9.14v1.6h-9.14zM76.26 158h9.14v1.6h-9.14zM13 168.5h9.14v1.6h-9.14z"/>
<path fill="#122406" d="M193.74 29h9.14v1.6h-9.14zM175.67 30.5h9.14v1.6h-9.14zM202.78 30.5h9.14v1.6h-9.14zM148.56 38h9.14v1.6h-9.14zM157.59 38h9.14v1.6h-9.14zM202.78 39.5h9.14v1.6h-9.14zM49.15 51.5h9.14v1.6h-9.14zM49.15 53h9.14v1.6h-9.14zM130.48 53h9.14v1.6h-9.14zM58.19 56h9.14v1.6h-9.14zM238.93 62h9.14v1.6h-9.14zM184.7 63.5h9.14v1.6h-9.14zM148.56 68h9.14v1.6h-9.14zM157.59 69.5h9.14v1.6h-9.14zM175.67 69.5h9.14v1.6h-9.14zM157.59 71h9.14v1.6h-9.14zM193.74 71h9.14v1.6h-9.14zM202.78 71h9.14v1.6h-9.14zM184.7 72.5h9.14v1.6h-9.14zM130.48 74h9.14v1.6h-9.14zM130.48 75.5h9.14v1.6h-9.14zM202.78 77h9.14v1.6h-9.14zM202.78 78.5h9.14v1.6h-9.14zM157.59 80h9.14v1.6h-9.14zM193.74 81.5h9.14v1.6h-9.14zM202.78 86h9.14v1.6h-9.14zM148.56 87.5h9.14v1.6h-9.14zM121.44 90.5h9.14v1.6h-9.14zM157.59 90.5h9.14v1.6h-9.14zM157.59 92h9.14v1.6h-9.14zM175.67 92h9.14v1.6h-9.14zM229.89 101h9.14v1.6h-9.14zM193.74 105.5h9.14v1.6h-9.14zM202.78 105.5h9.14v1.6h-9.14zM184.7 110h9.14v1.6h-9.14zM175.67 111.5h9.14v1.6h-9.14zM184.7 111.5h9.14v1.6h-9.14zM130.48 113h9.14v1.6h-9.14zM247.96 113h9.14v1.6h-9.14zM175.67 114.5h9.14v1.6h-9.14zM202.78 114.5h9.14v1.6h-9.14zM202.78 116h9.14v1.6h-9.14zM157.59 119h9.14v1.6h-9.14zM139.52 120.5h9.14v1.6h-9.14zM166.63 120.5h9.14v1.6h-9.14zM229.89 120.5h9.14v1.6h-9.14zM184.7 122h9.14v1.6h-9.14zM121.44 123.5h9.14v1.6h-9.14zM121.44 125h9.14v1.6h-9.14zM22.04 126.5h9.14v1.6h-9.14zM76.26 126.5h9.14v1.6h-9.14zM22.04 131h9.14v1.6h-9.14zM103.37 134h9.14v1.6h-9.14zM31.07 146h9.14v1.6h-9.14zM40.11 149h9.14v1.6h-9.14zM40.11 150.5h9.14v1.6h-9.14zM13 152h9.14v1.6h-9.14zM76.26 155h9.14v1.6h-9.14zM31.07 156.5h9.14v1.6h-9.14zM67.22 156.5h9.14v1.6h-9.14zM13 158h9.14v1.6h-9.14zM103.37 158h9.14v1.6h-9.14zM76.26 161h9.14v1.6h-9.14zM13 165.5h9.14v1.6h-9.14zM31.07 165.5h9.14v1.6h-9.14zM76.26 165.5h9.14v1.6h-9.14zM13 167h9.14v1.6h-9.14zM76.26 171.5h9.14v1.6h-9.14zM13 173h9.14v1.6h-9.14z"/>
<path fill="#1e300c" d="M202.78 29h9.14v1.6h-9.14zM247.96 30.5h9.14v1.6h-9.14zM193.74 32h9.14v1.6h-9.14zM184.7 33.5h9.14v1.6h-9.14zM121.44 42.5h9.14v1.6h-9.14zM148.56 45.5h9.14v1.6h-9.14zM175.67 47h9.14v1.6h-9.14zM139.52 51.5h9.14v1.6h-9.14zM238.93 53h9.14v1.6h-9.14zM130.48 54.5h9.14v1.6h-9.14zM193.74 57.5h9.14v1.6h-9.14zM193.74 62h9.14v1.6h-9.14zM157.59 63.5h9.14v1.6h-9.14zM157.59 65h9.14v1.6h-9.14zM202.78 69.5h9.14v1.6h-9.14zM247.96 71h9.14v1.6h-9.14zM139.52 72.5h9.14v1.6h-9.14zM229.89 72.5h9.14v1.6h-9.14zM139.52 78.5h9.14v1.6h-9.14zM202.78 87.5h9.14v1.6h-9.14zM247.96 87.5h9.14v1.6h-9.14zM211.81 92h9.14v1.6h-9.14zM157.59 95h9.14v1.6h-9.14zM211.81 99.5h9.14v1.6h-9.14zM139.52 101h9.14v1.6h-9.14zM139.52 113h9.14v1.6h-9.14zM166.63 113h9.14v1.6h-9.14zM67.22 131h9.14v1.6h-9.14zM67.22 135.5h9.14v1.6h-9.14zM31.07 144.5h9.14v1.6h-9.14zM67.22 149h9.14v1.6h-9.14zM22.04 156.5h9.14v1.6h-9.14zM76.26 156.5h9.14v1.6h-9.14zM76.26 173h9.14v1.6h-9.14z"/>
<path fill="#183006" d="M220.85 29h9.14v1.6h-9.14zM130.48 32h9.14v1.6h-9.14zM175.67 33.5h9.14v1.6h-9.14zM175.67 38h9.14v1.6h-9.14zM130.48 39.5h9.14v1.6h-9.14zM193.74 42.5h9.14v1.6h-9.14zM166.63 47h9.14v1.6h-9.14zM175.67 53h9.14v1.6h-9.14zM166.63 60.5h9.14v1.6h-9.14zM166.63 62h9.14v1.6h-9.14zM211.81 62h9.14v1.6h-9.14zM229.89 62h9.14v1.6h-9.14zM58.19 63.5h9.14v1.6h-9.14zM148.56 63.5h9.14v1.6h-9.14zM193.74 63.5h9.14v1.6h-9.14zM130.48 65h9.14v1.6h-9.14zM184.7 66.5h9.14v1.6h-9.14zM139.52 68h9.14v1.6h-9.14zM247.96 68h9.14v1.6h-9.14zM130.48 69.5h9.14v1.6h-9.14zM166.63 69.5h9.14v1.6h-9.14zM175.67 74h9.14v1.6h-9.14zM148.56 77h9.14v1.6h-9.14zM175.67 80h9.14v1.6h-9.14zM193.74 80h9.14v1.6h-9.14zM211.81 80h9.14v1.6h-9.14zM175.67 83h9.14v1.6h-9.14zM148.56 84.5h9.14v1.6h-9.14zM211.81 90.5h9.14v1.6h-9.14zM184.7 92h9.14v1.6h-9.14zM202.78 92h9.14v1.6h-9.14zM229.89 92h9.14v1.6h-9.14zM139.52 96.5h9.14v1.6h-9.14zM184.7 99.5h9.14v1.6h-9.14zM175.67 101h9.14v1.6h-9.14zM175.67 113h9.14v1.6h-9.14zM139.52 116h9.14v1.6h-9.14zM13 126.5h9.14v1.6h-9.14zM40.11 131h9.14v1.6h-9.14zM31.07 132.5h9.14v1.6h-9.14zM58.19 134h9.14v1.6h-9.14zM31.07 135.5h9.14v1.6h-9.14zM31.07 137h9.14v1.6h-9.14zM67.22 143h9.14v1.6h-9.14zM13 144.5h9.14v1.6h-9.14zM13 156.5h9.14v1.6h-9.14zM67.22 164h9.14v1.6h-9.14z"/>
<path fill="#2a480c" d="M229.89 29h9.14v1.6h-9.14zM238.93 29h9.14v1.6h-9.14zM211.81 30.5h9.14v1.6h-9.14zM148.56 32h9.14v1.6h-9.14zM211.81 33.5h9.14v1.6h-9.14zM229.89 33.5h9.14v1.6h-9.14zM184.7 35h9.14v1.6h-9.14zM238.93 35h9.14v1.6h-9.14zM130.48 36.5h9.14v1.6h-9.14zM139.52 36.5h9.14v1.6h-9.14zM193.74 36.5h9.14v1.6h-9.14zM229.89 39.5h9.14v1.6h-9.14zM238.93 39.5h9.14v1.6h-9.14zM247.96 39.5h9.14v1.6h-9.14zM148.56 41h9.14v1.6h-9.14zM184.7 41h9.14v1.6h-9.14zM220.85 41h9.14v1.6h-9.14zM130.48 42.5h9.14v1.6h-9.14zM139.52 42.5h9.14v1.6h-9.14zM139.52 44h9.14v1.6h-9.14zM193.74 44h9.14v1.6h-9.14zM202.78 44h9.14v1.6h-9.14zM247.96 44h9.14v1.6h-9.14zM157.59 45.5h9.14v1.6h-9.14zM175.67 45.5h9.14v1.6h-9.14zM157.59 47h9.14v1.6h-9.14zM211.81 47h9.14v1.6h-9.14zM130.48 48.5h9.14v1.6h-9.14zM157.59 48.5h9.14v1.6h-9.14zM184.7 50h9.14v1.6h-9.14zM166.63 51.5h9.14v1.6h-9.14zM175.67 51.5h9.14v1.6h-9.14zM211.81 51.5h9.14v1.6h-9.14zM238.93 51.5h9.14v1.6h-9.14zM211.81 54.5h9.14v1.6h-9.14zM220.85 54.5h9.14v1.6h-9.14zM139.52 56h9.14v1.6h-9.14zM148.56 56h9.14v1.6h-9.14zM193.74 56h9.14v1.6h-9.14zM148.56 57.5h9.14v1.6h-9.14zM175.67 57.5h9.14v1.6h-9.14zM211.81 57.5h9.14v1.6h-9.14zM157.59 59h9.14v1.6h-9.14zM184.7 59h9.14v1.6h-9.14zM202.78 59h9.14v1.6h-9.14zM130.48 60.5h9.14v1.6h-9.14zM229.89 60.5h9.14v1.6h-9.14zM247.96 60.5h9.14v1.6h-9.14zM229.89 63.5h9.14v1.6h-9.14zM148.56 65h9.14v1.6h-9.14zM184.7 65h9.14v1.6h-9.14zM220.85 65h9.14v1.6h-9.14zM229.89 65h9.14v1.6h-9.14zM238.93 68h9.14v1.6h-9.14zM211.81 71h9.14v1.6h-9.14zM220.85 71h9.14v1.6h-9.14zM238.93 74h9.14v1.6h-9.14zM229.89 75.5h9.14v1.6h-9.14zM247.96 75.5h9.14v1.6h-9.14zM247.96 77h9.14v1.6h-9.14zM211.81 78.5h9.14v1.6h-9.14zM202.78 80h9.14v1.6h-9.14zM220.85 80h9.14v1.6h-9.14zM247.96 80h9.14v1.6h-9.14zM121.44 84.5h9.14v1.6h-9.14zM166.63 84.5h9.14v1.6h-9.14zM211.81 84.5h9.14v1.6h-9.14zM229.89 84.5h9.14v1.6h-9.14zM238.93 84.5h9.14v1.6h-9.14zM247.96 84.5h9.14v1.6h-9.14zM238.93 86h9.14v1.6h-9.14zM121.44 89h9.14v1.6h-9.14zM193.74 89h9.14v1.6h-9.14zM247.96 89h9.14v1.6h-9.14zM130.48 90.5h9.14v1.6h-9.14zM175.67 90.5h9.14v1.6h-9.14zM220.85 90.5h9.14v1.6h-9.14zM229.89 90.5h9.14v1.6h-9.14zM238.93 92h9.14v1.6h-9.14zM139.52 93.5h9.14v1.6h-9.14zM157.59 93.5h9.14v1.6h-9.14zM247.96 93.5h9.14v1.6h-9.14zM130.48 95h9.14v1.6h-9.14zM175.67 95h9.14v1.6h-9.14zM202.78 95h9.14v1.6h-9.14zM211.81 95h9.14v1.6h-9.14zM220.85 95h9.14v1.6h-9.14zM184.7 96.5h9.14v1.6h-9.14zM220.85 96.5h9.14v1.6h-9.14zM148.56 98h9.14v1.6h-9.14zM157.59 98h9.14v1.6h-9.14zM229.89 98h9.14v1.6h-9.14zM238.93 98h9.14v1.6h-9.14zM175.67 99.5h9.14v1.6h-9.14zM238.93 99.5h9.14v1.6h-9.14zM193.74 102.5h9.14v1.6h-9.14zM220.85 102.5h9.14v1.6h-9.14zM184.7 104h9.14v1.6h-9.14zM247.96 107h9.14v1.6h-9.14zM157.59 108.5h9.14v1.6h-9.14zM211.81 108.5h9.14v1.6h-9.14zM229.89 110h9.14v1.6h-9.14zM211.81 111.5h9.14v1.6h-9.14zM22.04 128h9.14v1.6h-9.14zM40.11 128h9.14v1.6h-9.14zM40.11 129.5h9.14v1.6h-9.14zM76.26 129.5h9.14v1.6h-9.14zM58.19 131h9.14v1.6h-9.14zM22.04 132.5h9.14v1.6h-9.14zM49.15 132.5h9.14v1.6h-9.14zM58.19 132.5h9.14v1.6h-9.14zM13 135.5h9.14v1.6h-9.14zM58.19 135.5h9.14v1.6h-9.14zM49.15 137h9.14v1.6h-9.14zM103.37 137h9.14v1.6h-9.14zM31.07 138.5h9.14v1.6h-9.14zM103.37 138.5h9.14v1.6h-9.14zM49.15 141.5h9.14v1.6h-9.14zM85.3 141.5h9.14v1.6h-9.14zM121.44 141.5h9.14v1.6h-9.14zM49.15 144.5h9.14v1.6h-9.14zM103.37 144.5h9.14v1.6h-9.14zM94.33 146h9.14v1.6h-9.14zM121.44 149h9.14v1.6h-9.14zM94.33 152h9.14v1.6h-9.14zM121.44 152h9.14v1.6h-9.14zM22.04 153.5h9.14v1.6h-9.14zM31.07 153.5h9.14v1.6h-9.14zM49.15 155h9.14v1.6h-9.14zM94.33 156.5h9.14v1.6h-9.14zM31.07 164h9.14v1.6h-9.14zM103.37 164h9.14v1.6h-9.14zM103.37 165.5h9.14v1.6h-9.14zM121.44 170h9.14v1.6h-9.14zM67.22 174.5h9.14v1.6h-9.14zM22.04 176h9.14v1.6h-9.14zM76.26 176h9.14v1.6h-9.14z"/>
<path fill="#304e0c" d="M247.96 29h9.14v1.6h-9.14zM139.52 35h9.14v1.6h-9.14zM220.85 45.5h9.14v1.6h-9.14zM184.7 51.5h9.14v1.6h-9.14zM229.89 56h9.14v1.6h-9.14zM202.78 57.5h9.14v1.6h-9.14zM139.52 65h9.14v1.6h-9.14zM238.93 69.5h9.14v1.6h-9.14zM130.48 83h9.14v1.6h-9.14zM202.78 83h9.14v1.6h-9.14zM211.81 89h9.14v1.6h-9.14zM229.89 104h9.14v1.6h-9.14zM247.96 105.5h9.14v1.6h-9.14zM130.48 107h9.14v1.6h-9.14zM211.81 107h9.14v1.6h-9.14zM175.67 110h9.14v1.6h-9.14zM22.04 129.5h9.14v1.6h-9.14zM58.19 155h9.14v1.6h-9.14zM94.33 155h9.14v1.6h-9.14zM121.44 158h9.14v1.6h-9.14z"/>
<path fill="#1e0000" d="M94.33 30.5h9.14v1.6h-9.14zM85.3 33.5h9.14v1.6h-9.14zM13 41h9.14v1.6h-9.14zM31.07 47h9.14v1.6h-9.14zM58.19 47h9.14v1.6h-9.14zM31.07 51.5h9.14v1.6h-9.14zM49.15 57.5h9.14v1.6h-9.14zM121.44 57.5h9.14v1.6h-9.14zM112.41 60.5h9.14v1.6h-9.14zM22.04 66.5h9.14v1.6h-9.14zM40.11 66.5h9.14v1.6h-9.14zM112.41 68h9.14v1.6h-9.14zM121.44 69.5h9.14v1.6h-9.14zM22.04 71h9.14v1.6h-9.14zM31.07 71h9.14v1.6h-9.14zM31.07 72.5h9.14v1.6h-9.14zM103.37 72.5h9.14v1.6h-9.14zM112.41 72.5h9.14v1.6h-9.14zM58.19 75.5h9.14v1.6h-9.14zM49.15 78.5h9.14v1.6h-9.14zM112.41 78.5h9.14v1.6h-9.14zM58.19 80h9.14v1.6h-9.14zM13 81.5h9.14v1.6h-9.14zM49.15 86h9.14v1.6h-9.14zM58.19 86h9.14v1.6h-9.14zM49.15 87.5h9.14v1.6h-9.14zM112.41 89h9.14v1.6h-9.14zM103.37 92h9.14v1.6h-9.14zM58.19 93.5h9.14v1.6h-9.14zM13 95h9.14v1.6h-9.14zM58.19 99.5h9.14v1.6h-9.14zM112.41 102.5h9.14v1.6h-9.14zM58.19 104h9.14v1.6h-9.14zM112.41 104h9.14v1.6h-9.14zM58.19 108.5h9.14v1.6h-9.14zM103.37 108.5h9.14v1.6h-9.14zM22.04 111.5h9.14v1.6h-9.14zM13 114.5h9.14v1.6h-9.14zM103.37 114.5h9.14v1.6h-9.14zM175.67 125h9.14v1.6h-9.14zM139.52 132.5h9.14v1.6h-9.14zM157.59 132.5h9.14v1.6h-9.14zM175.67 132.5h9.14v1.6h-9.14zM211.81 132.5h9.14v1.6h-9.14zM220.85 132.5h9.14v1.6h-9.14zM229.89 132.5h9.14v1.6h-9.14zM157.59 134h9.14v1.6h-9.14zM166.63 134h9.14v1.6h-9.14zM157.59 146h9.14v1.6h-9.14zM184.7 146h9.14v1.6h-9.14zM193.74 146h9.14v1.6h-9.14zM211.81 146h9.14v1.6h-9.14zM139.52 149h9.14v1.6h-9.14zM211.81 149h9.14v1.6h-9.14zM157.59 150.5h9.14v1.6h-9.14zM175.67 150.5h9.14v1.6h-9.14zM220.85 152h9.14v1.6h-9.14zM157.59 164h9.14v1.6h-9.14zM220.85 164h9.14v1.6h-9.14zM166.63 167h9.14v1.6h-9.14zM202.78 168.5h9.14v1.6h-9.14zM193.74 170h9.14v1.6h-9.14z"/>
<path fill="#060000" d="M103.37 30.5h9.14v1.6h-9.14zM13 44h9.14v1.6h-9.14zM121.44 65h9.14v1.6h-9.14zM121.44 66.5h9.14v1.6h-9.14zM121.44 68h9.14v1.6h-9.14zM58.19 71h9.14v1.6h-9.14zM121.44 74h9.14v1.6h-9.14zM121.44 75.5h9.14v1.6h-9.14zM103.37 90.5h9.14v1.6h-9.14zM103.37 105.5h9.14v1.6h-9.14zM112.41 105.5h9.14v1.6h-9.14zM193.74 107h9.14v1.6h-9.14zM103.37 110h9.14v1.6h-9.14zM112.41 110h9.14v1.6h-9.14zM121.44 111.5h9.14v1.6h-9.14zM22.04 113h9.14v1.6h-9.14zM49.15 113h9.14v1.6h-9.14zM121.44 113h9.14v1.6h-9.14zM76.26 152h9.14v1.6h-9.14z"/>
<path fill="#1e3006" d="M130.48 30.5h9.14v1.6h-9.14zM202.78 32h9.14v1.6h-9.14zM175.67 36.5h9.14v1.6h-9.14zM148.56 51.5h9.14v1.6h-9.14zM157.59 53h9.14v1.6h-9.14zM247.96 53h9.14v1.6h-9.14zM166.63 56h9.14v1.6h-9.14zM58.19 62h9.14v1.6h-9.14zM211.81 63.5h9.14v1.6h-9.14zM202.78 68h9.14v1.6h-9.14zM247.96 69.5h9.14v1.6h-9.14zM130.48 71h9.14v1.6h-9.14zM148.56 72.5h9.14v1.6h-9.14zM247.96 74h9.14v1.6h-9.14zM157.59 77h9.14v1.6h-9.14zM157.59 78.5h9.14v1.6h-9.14zM247.96 86h9.14v1.6h-9.14zM130.48 89h9.14v1.6h-9.14zM148.56 89h9.14v1.6h-9.14zM166.63 89h9.14v1.6h-9.14zM184.7 89h9.14v1.6h-9.14zM139.52 90.5h9.14v1.6h-9.14zM130.48 96.5h9.14v1.6h-9.14zM157.59 96.5h9.14v1.6h-9.14zM202.78 96.5h9.14v1.6h-9.14zM202.78 98h9.14v1.6h-9.14zM130.48 101h9.14v1.6h-9.14zM238.93 113h9.14v1.6h-9.14zM76.26 132.5h9.14v1.6h-9.14zM13 137h9.14v1.6h-9.14zM22.04 143h9.14v1.6h-9.14zM76.26 144.5h9.14v1.6h-9.14zM94.33 149h9.14v1.6h-9.14zM67.22 155h9.14v1.6h-9.14zM67.22 161h9.14v1.6h-9.14z"/>
<path fill="#182a06" d="M148.56 30.5h9.14v1.6h-9.14zM157.59 30.5h9.14v1.6h-9.14zM166.63 30.5h9.14v1.6h-9.14zM184.7 32h9.14v1.6h-9.14zM157.59 33.5h9.14v1.6h-9.14zM166.63 33.5h9.14v1.6h-9.14zM130.48 35h9.14v1.6h-9.14zM157.59 35h9.14v1.6h-9.14zM166.63 35h9.14v1.6h-9.14zM202.78 35h9.14v1.6h-9.14zM157.59 36.5h9.14v1.6h-9.14zM202.78 36.5h9.14v1.6h-9.14zM166.63 38h9.14v1.6h-9.14zM184.7 38h9.14v1.6h-9.14zM139.52 41h9.14v1.6h-9.14zM175.67 41h9.14v1.6h-9.14zM157.59 42.5h9.14v1.6h-9.14zM166.63 42.5h9.14v1.6h-9.14zM175.67 42.5h9.14v1.6h-9.14zM175.67 44h9.14v1.6h-9.14zM130.48 47h9.14v1.6h-9.14zM121.44 48.5h9.14v1.6h-9.14zM148.56 48.5h9.14v1.6h-9.14zM175.67 48.5h9.14v1.6h-9.14zM157.59 50h9.14v1.6h-9.14zM166.63 50h9.14v1.6h-9.14zM157.59 51.5h9.14v1.6h-9.14zM202.78 53h9.14v1.6h-9.14zM211.81 53h9.14v1.6h-9.14zM175.67 60.5h9.14v1.6h-9.14zM184.7 62h9.14v1.6h-9.14zM202.78 62h9.14v1.6h-9.14zM247.96 62h9.14v1.6h-9.14zM166.63 63.5h9.14v1.6h-9.14zM166.63 66.5h9.14v1.6h-9.14zM193.74 66.5h9.14v1.6h-9.14zM211.81 66.5h9.14v1.6h-9.14zM220.85 66.5h9.14v1.6h-9.14zM130.48 68h9.14v1.6h-9.14zM175.67 68h9.14v1.6h-9.14zM229.89 68h9.14v1.6h-9.14zM139.52 69.5h9.14v1.6h-9.14zM193.74 69.5h9.14v1.6h-9.14zM148.56 71h9.14v1.6h-9.14zM184.7 71h9.14v1.6h-9.14zM166.63 72.5h9.14v1.6h-9.14zM193.74 74h9.14v1.6h-9.14zM202.78 74h9.14v1.6h-9.14zM175.67 75.5h9.14v1.6h-9.14zM238.93 75.5h9.14v1.6h-9.14zM130.48 77h9.14v1.6h-9.14zM175.67 77h9.14v1.6h-9.14zM193.74 77h9.14v1.6h-9.14zM130.48 78.5h9.14v1.6h-9.14zM175.67 78.5h9.14v1.6h-9.14zM193.74 78.5h9.14v1.6h-9.14zM130.48 80h9.14v1.6h-9.14zM202.78 81.5h9.14v1.6h-9.14zM211.81 81.5h9.14v1.6h-9.14zM220.85 81.5h9.14v1.6h-9.14zM229.89 81.5h9.14v1.6h-9.14zM148.56 86h9.14v1.6h-9.14zM157.59 87.5h9.14v1.6h-9.14zM166.63 87.5h9.14v1.6h-9.14zM202.78 90.5h9.14v1.6h-9.14zM130.48 92h9.14v1.6h-9.14zM166.63 92h9.14v1.6h-9.14zM247.96 92h9.14v1.6h-9.14zM121.44 93.5h9.14v1.6h-9.14zM49.15 98h9.14v1.6h-9.14zM166.63 98h9.14v1.6h-9.14zM202.78 99.5h9.14v1.6h-9.14zM157.59 101h9.14v1.6h-9.14zM211.81 101h9.14v1.6h-9.14zM238.93 101h9.14v1.6h-9.14zM193.74 104h9.14v1.6h-9.14zM202.78 104h9.14v1.6h-9.14zM193.74 113h9.14v1.6h-9.14zM202.78 113h9.14v1.6h-9.14zM166.63 114.5h9.14v1.6h-9.14zM247.96 114.5h9.14v1.6h-9.14zM211.81 116h9.14v1.6h-9.14zM247.96 116h9.14v1.6h-9.14zM148.56 119h9.14v1.6h-9.14zM193.74 119h9.14v1.6h-9.14zM157.59 120.5h9.14v1.6h-9.14zM121.44 122h9.14v1.6h-9.14zM139.52 122h9.14v1.6h-9.14zM31.07 126.5h9.14v1.6h-9.14zM103.37 131h9.14v1.6h-9.14zM22.04 134h9.14v1.6h-9.14zM40.11 134h9.14v1.6h-9.14zM49.15 134h9.14v1.6h-9.14zM76.26 134h9.14v1.6h-9.14zM22.04 137h9.14v1.6h-9.14zM22.04 141.5h9.14v1.6h-9.14zM40.11 141.5h9.14v1.6h-9.14zM76.26 141.5h9.14v1.6h-9.14zM103.37 143h9.14v1.6h-9.14zM76.26 146h9.14v1.6h-9.14zM13 147.5h9.14v1.6h-9.14zM103.37 150.5h9.14v1.6h-9.14zM31.07 155h9.14v1.6h-9.14zM103.37 156.5h9.14v1.6h-9.14zM13 161h9.14v1.6h-9.14zM22.04 161h9.14v1.6h-9.14zM31.07 162.5h9.14v1.6h-9.14zM40.11 162.5h9.14v1.6h-9.14zM40.11 164h9.14v1.6h-9.14zM76.26 168.5h9.14v1.6h-9.14zM22.04 171.5h9.14v1.6h-9.14zM31.07 173h9.14v1.6h-9.14zM40.11 173h9.14v1.6h-9.14zM67.22 173h9.14v1.6h-9.14zM103.37 173h9.14v1.6h-9.14z"/>
<path fill="#1e3c0c" d="M193.74 30.5h9.14v1.6h-9.14zM229.89 30.5h9.14v1.6h-9.14zM166.63 32h9.14v1.6h-9.14zM202.78 42.5h9.14v1.6h-9.14zM157.59 54.5h9.14v1.6h-9.14zM130.48 56h9.14v1.6h-9.14zM139.52 59h9.14v1.6h-9.14zM202.78 60.5h9.14v1.6h-9.14zM166.63 68h9.14v1.6h-9.14zM184.7 69.5h9.14v1.6h-9.14zM184.7 77h9.14v1.6h-9.14zM220.85 78.5h9.14v1.6h-9.14zM166.63 86h9.14v1.6h-9.14zM229.89 86h9.14v1.6h-9.14zM139.52 87.5h9.14v1.6h-9.14zM238.93 87.5h9.14v1.6h-9.14zM220.85 89h9.14v1.6h-9.14zM166.63 90.5h9.14v1.6h-9.14zM121.44 95h9.14v1.6h-9.14zM166.63 95h9.14v1.6h-9.14zM220.85 108.5h9.14v1.6h-9.14zM76.26 131h9.14v1.6h-9.14zM67.22 137h9.14v1.6h-9.14zM94.33 143h9.14v1.6h-9.14zM85.3 149h9.14v1.6h-9.14zM22.04 174.5h9.14v1.6h-9.14z"/>
<path fill="#30540c" d="M238.93 30.5h9.14v1.6h-9.14zM247.96 33.5h9.14v1.6h-9.14zM184.7 45.5h9.14v1.6h-9.14zM247.96 45.5h9.14v1.6h-9.14zM220.85 47h9.14v1.6h-9.14zM247.96 47h9.14v1.6h-9.14zM130.48 57.5h9.14v1.6h-9.14zM238.93 71h9.14v1.6h-9.14zM229.89 87.5h9.14v1.6h-9.14zM139.52 108.5h9.14v1.6h-9.14zM49.15 126.5h9.14v1.6h-9.14zM13 129.5h9.14v1.6h-9.14zM103.37 132.5h9.14v1.6h-9.14zM94.33 144.5h9.14v1.6h-9.14zM103.37 168.5h9.14v1.6h-9.14zM94.33 171.5h9.14v1.6h-9.14zM112.41 173h9.14v1.6h-9.14zM40.11 176h9.14v1.6h-9.14zM67.22 176h9.14v1.6h-9.14z"/>
<path fill="#540000" d="M13 32h9.14v1.6h-9.14zM94.33 32h9.14v1.6h-9.14zM112.41 32h9.14v1.6h-9.14zM58.19 35h9.14v1.6h-9.14zM67.22 35h9.14v1.6h-9.14zM94.33 36.5h9.14v1.6h-9.14zM67.22 38h9.14v1.6h-9.14zM58.19 41h9.14v1.6h-9.14zM94.33 41h9.14v1.6h-9.14zM67.22 44h9.14v1.6h-9.14zM67.22 45.5h9.14v1.6h-9.14zM112.41 47h9.14v1.6h-9.14zM103.37 48.5h9.14v1.6h-9.14zM112.41 48.5h9.14v1.6h-9.14zM94.33 51.5h9.14v1.6h-9.14zM13 53h9.14v1.6h-9.14zM22.04 53h9.14v1.6h-9.14zM94.33 57.5h9.14v1.6h-9.14zM94.33 60.5h9.14v1.6h-9.14zM13 62h9.14v1.6h-9.14zM76.26 63.5h9.14v1.6h-9.14zM67.22 65h9.14v1.6h-9.14zM76.26 66.5h9.14v1.6h-9.14zM85.3 66.5h9.14v1.6h-9.14zM94.33 66.5h9.14v1.6h-9.14zM94.33 68h9.14v1.6h-9.14zM85.3 71h9.14v1.6h-9.14zM13 74h9.14v1.6h-9.14zM40.11 74h9.14v1.6h-9.14zM85.3 74h9.14v1.6h-9.14zM67.22 75.5h9.14v1.6h-9.14zM76.26 75.5h9.14v1.6h-9.14zM22.04 77h9.14v1.6h-9.14zM40.11 77h9.14v1.6h-9.14zM85.3 77h9.14v1.6h-9.14zM67.22 80h9.14v1.6h-9.14zM94.33 80h9.14v1.6h-9.14zM67.22 81.5h9.14v1.6h-9.14zM76.26 81.5h9.14v1.6h-9.14zM40.11 84.5h9.14v1.6h-9.14zM40.11 87.5h9.14v1.6h-9.14zM13 93.5h9.14v1.6h-9.14zM85.3 95h9.14v1.6h-9.14zM94.33 96.5h9.14v1.6h-9.14zM94.33 98h9.14v1.6h-9.14zM22.04 99.5h9.14v1.6h-9.14zM94.33 102.5h9.14v1.6h-9.14zM76.26 110h9.14v1.6h-9.14zM67.22 111.5h9.14v1.6h-9.14zM121.44 116h9.14v1.6h-9.14zM58.19 120.5h9.14v1.6h-9.14zM85.3 122h9.14v1.6h-9.14zM31.07 125h9.14v1.6h-9.14zM211.81 137h9.14v1.6h-9.14zM184.7 140h9.14v1.6h-9.14zM238.93 156.5h9.14v1.6h-9.14zM247.96 156.5h9.14v1.6h-9.14zM130.48 159.5h9.14v1.6h-9.14zM238.93 159.5h9.14v1.6h-9.14zM247.96 159.5h9.14v1.6h-9.14zM238.93 161h9.14v1.6h-9.14zM184.7 162.5h9.14v1.6h-9.14zM238.93 162.5h9.14v1.6h-9.14z"/>
<path fill="#900000" d="M31.07 32h9.14v1.6h-9.14zM40.11 35h9.14v1.6h-9.14zM76.26 54.5h9.14v1.6h-9.14zM94.33 54.5h9.14v1.6h-9.14zM76.26 84.5h9.14v1.6h-9.14zM76.26 87.5h9.14v1.6h-9.14zM76.26 101h9.14v1.6h-9.14zM40.11 102.5h9.14v1.6h-9.14zM67.22 119h9.14v1.6h-9.14zM76.26 119h9.14v1.6h-9.14zM103.37 120.5h9.14v1.6h-9.14z"/>
<path fill="#960000" d="M40.11 32h9.14v1.6h-9.14zM40.11 39.5h9.14v1.6h-9.14zM67.22 48.5h9.14v1.6h-9.14zM67.22 54.5h9.14v1.6h-9.14zM67.22 84.5h9.14v1.6h-9.14zM67.22 86h9.14v1.6h-9.14zM67.22 87.5h9.14v1.6h-9.14zM67.22 89h9.14v1.6h-9.14zM67.22 93.5h9.14v1.6h-9.14zM67.22 98h9.14v1.6h-9.14zM76.26 99.5h9.14v1.6h-9.14zM31.07 101h9.14v1.6h-9.14zM67.22 102.5h9.14v1.6h-9.14zM103.37 123.5h9.14v1.6h-9.14z"/>
<path fill="#600000" d="M76.26 32h9.14v1.6h-9.14zM76.26 36.5h9.14v1.6h-9.14zM76.26 39.5h9.14v1.6h-9.14zM31.07 41h9.14v1.6h-9.14zM76.26 42.5h9.14v1.6h-9.14zM94.33 45.5h9.14v1.6h-9.14zM22.04 48.5h9.14v1.6h-9.14zM40.11 48.5h9.14v1.6h-9.14zM67.22 50h9.14v1.6h-9.14zM94.33 50h9.14v1.6h-9.14zM76.26 57.5h9.14v1.6h-9.14zM67.22 63.5h9.14v1.6h-9.14zM67.22 66.5h9.14v1.6h-9.14zM40.11 69.5h9.14v1.6h-9.14zM94.33 71h9.14v1.6h-9.14zM85.3 81.5h9.14v1.6h-9.14zM94.33 81.5h9.14v1.6h-9.14zM67.22 107h9.14v1.6h-9.14zM76.26 107h9.14v1.6h-9.14zM67.22 113h9.14v1.6h-9.14zM40.11 117.5h9.14v1.6h-9.14zM31.07 122h9.14v1.6h-9.14zM31.07 123.5h9.14v1.6h-9.14z"/>
<path fill="#4e0000" d="M85.3 32h9.14v1.6h-9.14zM58.19 33.5h9.14v1.6h-9.14zM58.19 36.5h9.14v1.6h-9.14zM112.41 39.5h9.14v1.6h-9.14zM103.37 42.5h9.14v1.6h-9.14zM22.04 47h9.14v1.6h-9.14zM76.26 47h9.14v1.6h-9.14zM103.37 47h9.14v1.6h-9.14zM13 48.5h9.14v1.6h-9.14zM76.26 51.5h9.14v1.6h-9.14zM13 56h9.14v1.6h-9.14zM103.37 56h9.14v1.6h-9.14zM67.22 60.5h9.14v1.6h-9.14zM85.3 63.5h9.14v1.6h-9.14zM94.33 65h9.14v1.6h-9.14zM76.26 68h9.14v1.6h-9.14zM112.41 69.5h9.14v1.6h-9.14zM94.33 72.5h9.14v1.6h-9.14zM22.04 74h9.14v1.6h-9.14zM31.07 74h9.14v1.6h-9.14zM31.07 77h9.14v1.6h-9.14zM76.26 77h9.14v1.6h-9.14zM40.11 83h9.14v1.6h-9.14zM103.37 83h9.14v1.6h-9.14zM112.41 83h9.14v1.6h-9.14zM13 84.5h9.14v1.6h-9.14zM85.3 86h9.14v1.6h-9.14zM85.3 96.5h9.14v1.6h-9.14zM31.07 98h9.14v1.6h-9.14zM13 101h9.14v1.6h-9.14zM85.3 101h9.14v1.6h-9.14zM103.37 104h9.14v1.6h-9.14zM85.3 105.5h9.14v1.6h-9.14zM94.33 105.5h9.14v1.6h-9.14zM94.33 113h9.14v1.6h-9.14zM13 119h9.14v1.6h-9.14zM31.07 120.5h9.14v1.6h-9.14zM22.04 123.5h9.14v1.6h-9.14zM220.85 128h9.14v1.6h-9.14zM238.93 128h9.14v1.6h-9.14zM247.96 128h9.14v1.6h-9.14zM130.48 131h9.14v1.6h-9.14zM193.74 131h9.14v1.6h-9.14zM247.96 131h9.14v1.6h-9.14zM139.52 135.5h9.14v1.6h-9.14zM229.89 135.5h9.14v1.6h-9.14zM139.52 137h9.14v1.6h-9.14zM184.7 137h9.14v1.6h-9.14zM202.78 137h9.14v1.6h-9.14zM130.48 138.5h9.14v1.6h-9.14zM139.52 138.5h9.14v1.6h-9.14zM229.89 138.5h9.14v1.6h-9.14zM130.48 140h9.14v1.6h-9.14zM229.89 140h9.14v1.6h-9.14zM148.56 143h9.14v1.6h-9.14zM148.56 155h9.14v1.6h-9.14zM238.93 155h9.14v1.6h-9.14zM148.56 156.5h9.14v1.6h-9.14zM202.78 156.5h9.14v1.6h-9.14zM148.56 159.5h9.14v1.6h-9.14zM220.85 159.5h9.14v1.6h-9.14zM229.89 159.5h9.14v1.6h-9.14zM193.74 162.5h9.14v1.6h-9.14zM157.59 173h9.14v1.6h-9.14zM202.78 173h9.14v1.6h-9.14zM139.52 174.5h9.14v1.6h-9.14zM247.96 174.5h9.14v1.6h-9.14z"/>
<path fill="#3c0000" d="M121.44 32h9.14v1.6h-9.14zM85.3 35h9.14v1.6h-9.14zM103.37 35h9.14v1.6h-9.14zM103.37 36.5h9.14v1.6h-9.14zM13 38h9.14v1.6h-9.14zM85.3 38h9.14v1.6h-9.14zM103.37 39.5h9.14v1.6h-9.14zM112.41 50h9.14v1.6h-9.14zM31.07 53h9.14v1.6h-9.14zM112.41 56h9.14v1.6h-9.14zM31.07 57.5h9.14v1.6h-9.14zM49.15 59h9.14v1.6h-9.14zM22.04 62h9.14v1.6h-9.14zM112.41 62h9.14v1.6h-9.14zM22.04 63.5h9.14v1.6h-9.14zM103.37 63.5h9.14v1.6h-9.14zM13 65h9.14v1.6h-9.14zM40.11 65h9.14v1.6h-9.14zM22.04 68h9.14v1.6h-9.14zM58.19 69.5h9.14v1.6h-9.14zM76.26 72.5h9.14v1.6h-9.14zM40.11 75.5h9.14v1.6h-9.14zM13 80h9.14v1.6h-9.14zM112.41 84.5h9.14v1.6h-9.14zM40.11 86h9.14v1.6h-9.14zM22.04 90.5h9.14v1.6h-9.14zM31.07 92h9.14v1.6h-9.14zM49.15 92h9.14v1.6h-9.14zM49.15 93.5h9.14v1.6h-9.14zM112.41 99.5h9.14v1.6h-9.14zM85.3 102.5h9.14v1.6h-9.14zM22.04 104h9.14v1.6h-9.14zM85.3 107h9.14v1.6h-9.14zM22.04 108.5h9.14v1.6h-9.14zM94.33 110h9.14v1.6h-9.14zM76.26 113h9.14v1.6h-9.14zM49.15 114.5h9.14v1.6h-9.14zM67.22 114.5h9.14v1.6h-9.14zM49.15 117.5h9.14v1.6h-9.14zM22.04 119h9.14v1.6h-9.14zM49.15 119h9.14v1.6h-9.14zM193.74 123.5h9.14v1.6h-9.14zM184.7 125h9.14v1.6h-9.14zM139.52 126.5h9.14v1.6h-9.14zM130.48 128h9.14v1.6h-9.14zM211.81 128h9.14v1.6h-9.14zM157.59 129.5h9.14v1.6h-9.14zM166.63 129.5h9.14v1.6h-9.14zM229.89 131h9.14v1.6h-9.14zM157.59 135.5h9.14v1.6h-9.14zM238.93 135.5h9.14v1.6h-9.14zM247.96 137h9.14v1.6h-9.14zM148.56 138.5h9.14v1.6h-9.14zM175.67 138.5h9.14v1.6h-9.14zM184.7 138.5h9.14v1.6h-9.14zM202.78 138.5h9.14v1.6h-9.14zM247.96 138.5h9.14v1.6h-9.14zM157.59 140h9.14v1.6h-9.14zM175.67 140h9.14v1.6h-9.14zM193.74 140h9.14v1.6h-9.14zM211.81 140h9.14v1.6h-9.14zM175.67 141.5h9.14v1.6h-9.14zM193.74 141.5h9.14v1.6h-9.14zM130.48 143h9.14v1.6h-9.14zM211.81 143h9.14v1.6h-9.14zM166.63 144.5h9.14v1.6h-9.14zM220.85 144.5h9.14v1.6h-9.14zM247.96 144.5h9.14v1.6h-9.14zM247.96 147.5h9.14v1.6h-9.14zM139.52 150.5h9.14v1.6h-9.14zM238.93 150.5h9.14v1.6h-9.14zM184.7 152h9.14v1.6h-9.14zM229.89 152h9.14v1.6h-9.14zM229.89 153.5h9.14v1.6h-9.14zM247.96 153.5h9.14v1.6h-9.14zM139.52 155h9.14v1.6h-9.14zM211.81 155h9.14v1.6h-9.14zM220.85 155h9.14v1.6h-9.14zM247.96 155h9.14v1.6h-9.14zM139.52 156.5h9.14v1.6h-9.14zM193.74 156.5h9.14v1.6h-9.14zM166.63 158h9.14v1.6h-9.14zM175.67 158h9.14v1.6h-9.14zM238.93 158h9.14v1.6h-9.14zM211.81 159.5h9.14v1.6h-9.14zM220.85 161h9.14v1.6h-9.14zM247.96 161h9.14v1.6h-9.14zM157.59 162.5h9.14v1.6h-9.14zM220.85 162.5h9.14v1.6h-9.14zM184.7 164h9.14v1.6h-9.14zM166.63 165.5h9.14v1.6h-9.14zM184.7 165.5h9.14v1.6h-9.14zM238.93 167h9.14v1.6h-9.14zM193.74 168.5h9.14v1.6h-9.14zM220.85 168.5h9.14v1.6h-9.14zM247.96 168.5h9.14v1.6h-9.14zM202.78 170h9.14v1.6h-9.14zM247.96 170h9.14v1.6h-9.14zM139.52 171.5h9.14v1.6h-9.14zM157.59 171.5h9.14v1.6h-9.14zM130.48 173h9.14v1.6h-9.14zM184.7 173h9.14v1.6h-9.14zM247.96 173h9.14v1.6h-9.14zM175.67 174.5h9.14v1.6h-9.14zM184.7 174.5h9.14v1.6h-9.14zM211.81 174.5h9.14v1.6h-9.14zM229.89 174.5h9.14v1.6h-9.14zM139.52 176h9.14v1.6h-9.14zM166.63 176h9.14v1.6h-9.14zM175.67 176h9.14v1.6h-9.14z"/>
<path fill="#305412" d="M238.93 32h9.14v1.6h-9.14zM229.89 35h9.14v1.6h-9.14zM220.85 38h9.14v1.6h-9.14zM220.85 42.5h9.14v1.6h-9.14zM139.52 45.5h9.14v1.6h-9.14zM184.7 47h9.14v1.6h-9.14zM229.89 47h9.14v1.6h-9.14zM211.81 48.5h9.14v1.6h-9.14zM220.85 50h9.14v1.6h-9.14zM220.85 51.5h9.14v1.6h-9.14zM139.52 54.5h9.14v1.6h-9.14zM184.7 54.5h9.14v1.6h-9.14zM247.96 54.5h9.14v1.6h-9.14zM220.85 60.5h9.14v1.6h-9.14zM238.93 60.5h9.14v1.6h-9.14zM238.93 65h9.14v1.6h-9.14zM229.89 80h9.14v1.6h-9.14zM166.63 83h9.14v1.6h-9.14zM238.93 83h9.14v1.6h-9.14zM220.85 84.5h9.14v1.6h-9.14zM121.44 87.5h9.14v1.6h-9.14zM238.93 90.5h9.14v1.6h-9.14zM229.89 96.5h9.14v1.6h-9.14zM121.44 98h9.14v1.6h-9.14zM247.96 98h9.14v1.6h-9.14zM220.85 99.5h9.14v1.6h-9.14zM247.96 99.5h9.14v1.6h-9.14zM166.63 102.5h9.14v1.6h-9.14zM247.96 102.5h9.14v1.6h-9.14zM148.56 104h9.14v1.6h-9.14zM157.59 104h9.14v1.6h-9.14zM166.63 105.5h9.14v1.6h-9.14zM175.67 105.5h9.14v1.6h-9.14zM220.85 105.5h9.14v1.6h-9.14zM175.67 107h9.14v1.6h-9.14zM229.89 108.5h9.14v1.6h-9.14zM238.93 108.5h9.14v1.6h-9.14zM76.26 128h9.14v1.6h-9.14zM67.22 129.5h9.14v1.6h-9.14zM49.15 131h9.14v1.6h-9.14zM40.11 140h9.14v1.6h-9.14zM94.33 140h9.14v1.6h-9.14zM112.41 149h9.14v1.6h-9.14zM76.26 153.5h9.14v1.6h-9.14zM112.41 155h9.14v1.6h-9.14zM31.07 159.5h9.14v1.6h-9.14zM76.26 159.5h9.14v1.6h-9.14zM94.33 159.5h9.14v1.6h-9.14zM103.37 159.5h9.14v1.6h-9.14zM94.33 161h9.14v1.6h-9.14zM94.33 162.5h9.14v1.6h-9.14zM85.3 170h9.14v1.6h-9.14zM112.41 171.5h9.14v1.6h-9.14zM40.11 174.5h9.14v1.6h-9.14z"/>
<path fill="#720000" d="M40.11 33.5h9.14v1.6h-9.14zM94.33 42.5h9.14v1.6h-9.14zM94.33 56h9.14v1.6h-9.14zM94.33 63.5h9.14v1.6h-9.14zM94.33 69.5h9.14v1.6h-9.14zM76.26 74h9.14v1.6h-9.14zM67.22 77h9.14v1.6h-9.14zM67.22 83h9.14v1.6h-9.14zM76.26 83h9.14v1.6h-9.14zM85.3 83h9.14v1.6h-9.14zM94.33 86h9.14v1.6h-9.14zM94.33 90.5h9.14v1.6h-9.14zM58.19 114.5h9.14v1.6h-9.14zM40.11 119h9.14v1.6h-9.14zM94.33 120.5h9.14v1.6h-9.14zM121.44 120.5h9.14v1.6h-9.14zM94.33 122h9.14v1.6h-9.14zM58.19 123.5h9.14v1.6h-9.14zM58.19 125h9.14v1.6h-9.14z"/>
<path fill="#000000" d="M49.15 33.5h9.14v1.6h-9.14zM13 42.5h9.14v1.6h-9.14zM49.15 44h9.14v1.6h-9.14zM49.15 47h9.14v1.6h-9.14zM49.15 60.5h9.14v1.6h-9.14zM49.15 63.5h9.14v1.6h-9.14zM49.15 65h9.14v1.6h-9.14zM58.19 66.5h9.14v1.6h-9.14zM49.15 68h9.14v1.6h-9.14zM58.19 95h9.14v1.6h-9.14zM40.11 113h9.14v1.6h-9.14zM112.41 113h9.14v1.6h-9.14zM22.04 117.5h9.14v1.6h-9.14zM166.63 117.5h9.14v1.6h-9.14zM40.11 167h9.14v1.6h-9.14zM40.11 168.5h9.14v1.6h-9.14z"/>
<path fill="#0c0000" d="M103.37 33.5h9.14v1.6h-9.14zM49.15 42.5h9.14v1.6h-9.14zM49.15 45.5h9.14v1.6h-9.14zM121.44 56h9.14v1.6h-9.14zM31.07 60.5h9.14v1.6h-9.14zM121.44 72.5h9.14v1.6h-9.14zM58.19 81.5h9.14v1.6h-9.14zM112.41 95h9.14v1.6h-9.14zM103.37 102.5h9.14v1.6h-9.14zM121.44 105.5h9.14v1.6h-9.14zM49.15 107h9.14v1.6h-9.14zM58.19 107h9.14v1.6h-9.14zM13 110h9.14v1.6h-9.14zM22.04 110h9.14v1.6h-9.14zM49.15 110h9.14v1.6h-9.14zM40.11 111.5h9.14v1.6h-9.14zM58.19 111.5h9.14v1.6h-9.14zM112.41 111.5h9.14v1.6h-9.14zM31.07 113h9.14v1.6h-9.14zM157.59 149h9.14v1.6h-9.14zM67.22 150.5h9.14v1.6h-9.14zM58.19 152h9.14v1.6h-9.14z"/>
<path fill="#8a0000" d="M31.07 35h9.14v1.6h-9.14zM40.11 36.5h9.14v1.6h-9.14zM76.26 89h9.14v1.6h-9.14zM67.22 95h9.14v1.6h-9.14zM76.26 95h9.14v1.6h-9.14zM76.26 102.5h9.14v1.6h-9.14zM31.07 105.5h9.14v1.6h-9.14zM31.07 107h9.14v1.6h-9.14zM31.07 108.5h9.14v1.6h-9.14zM121.44 114.5h9.14v1.6h-9.14zM103.37 117.5h9.14v1.6h-9.14zM112.41 117.5h9.14v1.6h-9.14zM121.44 119h9.14v1.6h-9.14zM103.37 125h9.14v1.6h-9.14zM112.41 125h9.14v1.6h-9.14z"/>
<path fill="#2a4e0c" d="M211.81 35h9.14v1.6h-9.14zM166.63 36.5h9.14v1.6h-9.14zM229.89 36.5h9.14v1.6h-9.14zM238.93 36.5h9.14v1.6h-9.14zM247.96 36.5h9.14v1.6h-9.14zM238.93 42.5h9.14v1.6h-9.14zM130.48 44h9.14v1.6h-9.14zM229.89 44h9.14v1.6h-9.14zM202.78 45.5h9.14v1.6h-9.14zM193.74 48.5h9.14v1.6h-9.14zM202.78 48.5h9.14v1.6h-9.14zM229.89 48.5h9.14v1.6h-9.14zM130.48 50h9.14v1.6h-9.14zM139.52 50h9.14v1.6h-9.14zM229.89 51.5h9.14v1.6h-9.14zM220.85 53h9.14v1.6h-9.14zM49.15 54.5h9.14v1.6h-9.14zM166.63 54.5h9.14v1.6h-9.14zM193.74 54.5h9.14v1.6h-9.14zM202.78 54.5h9.14v1.6h-9.14zM166.63 57.5h9.14v1.6h-9.14zM148.56 59h9.14v1.6h-9.14zM193.74 59h9.14v1.6h-9.14zM238.93 59h9.14v1.6h-9.14zM211.81 60.5h9.14v1.6h-9.14zM247.96 63.5h9.14v1.6h-9.14zM166.63 65h9.14v1.6h-9.14zM175.67 65h9.14v1.6h-9.14zM193.74 65h9.14v1.6h-9.14zM211.81 65h9.14v1.6h-9.14zM220.85 69.5h9.14v1.6h-9.14zM229.89 71h9.14v1.6h-9.14zM238.93 80h9.14v1.6h-9.14zM157.59 83h9.14v1.6h-9.14zM193.74 83h9.14v1.6h-9.14zM184.7 84.5h9.14v1.6h-9.14zM202.78 84.5h9.14v1.6h-9.14zM211.81 86h9.14v1.6h-9.14zM211.81 93.5h9.14v1.6h-9.14zM193.74 95h9.14v1.6h-9.14zM184.7 98h9.14v1.6h-9.14zM211.81 98h9.14v1.6h-9.14zM130.48 102.5h9.14v1.6h-9.14zM175.67 102.5h9.14v1.6h-9.14zM184.7 102.5h9.14v1.6h-9.14zM202.78 102.5h9.14v1.6h-9.14zM130.48 104h9.14v1.6h-9.14zM211.81 105.5h9.14v1.6h-9.14zM157.59 107h9.14v1.6h-9.14zM220.85 107h9.14v1.6h-9.14zM130.48 108.5h9.14v1.6h-9.14zM148.56 108.5h9.14v1.6h-9.14zM220.85 110h9.14v1.6h-9.14zM22.04 135.5h9.14v1.6h-9.14zM40.11 137h9.14v1.6h-9.14zM94.33 137h9.14v1.6h-9.14zM58.19 138.5h9.14v1.6h-9.14zM31.07 140h9.14v1.6h-9.14zM67.22 140h9.14v1.6h-9.14zM94.33 141.5h9.14v1.6h-9.14zM121.44 143h9.14v1.6h-9.14zM58.19 144.5h9.14v1.6h-9.14zM112.41 146h9.14v1.6h-9.14zM49.15 147.5h9.14v1.6h-9.14zM94.33 147.5h9.14v1.6h-9.14zM103.37 153.5h9.14v1.6h-9.14zM58.19 161h9.14v1.6h-9.14zM58.19 170h9.14v1.6h-9.14zM121.44 171.5h9.14v1.6h-9.14zM76.26 174.5h9.14v1.6h-9.14zM103.37 174.5h9.14v1.6h-9.14z"/>
<path fill="#780000" d="M31.07 36.5h9.14v1.6h-9.14zM67.22 39.5h9.14v1.6h-9.14zM94.33 59h9.14v1.6h-9.14zM94.33 62h9.14v1.6h-9.14zM67.22 69.5h9.14v1.6h-9.14zM76.26 69.5h9.14v1.6h-9.14zM94.33 84.5h9.14v1.6h-9.14zM76.26 86h9.14v1.6h-9.14zM94.33 89h9.14v1.6h-9.14zM76.26 90.5h9.14v1.6h-9.14zM85.3 92h9.14v1.6h-9.14zM85.3 99.5h9.14v1.6h-9.14zM85.3 104h9.14v1.6h-9.14zM40.11 107h9.14v1.6h-9.14zM94.33 108.5h9.14v1.6h-9.14zM58.19 117.5h9.14v1.6h-9.14zM94.33 119h9.14v1.6h-9.14zM40.11 123.5h9.14v1.6h-9.14zM40.11 125h9.14v1.6h-9.14z"/>
<path fill="#840000" d="M67.22 36.5h9.14v1.6h-9.14zM76.26 48.5h9.14v1.6h-9.14zM67.22 53h9.14v1.6h-9.14zM67.22 57.5h9.14v1.6h-9.14zM76.26 59h9.14v1.6h-9.14zM85.3 59h9.14v1.6h-9.14zM94.33 74h9.14v1.6h-9.14zM67.22 90.5h9.14v1.6h-9.14zM76.26 92h9.14v1.6h-9.14zM94.33 93.5h9.14v1.6h-9.14zM121.44 117.5h9.14v1.6h-9.14z"/>
<path fill="#121e06" d="M49.15 38h9.14v1.6h-9.14zM175.67 39.5h9.14v1.6h-9.14zM121.44 47h9.14v1.6h-9.14zM49.15 50h9.14v1.6h-9.14zM121.44 51.5h9.14v1.6h-9.14zM166.63 53h9.14v1.6h-9.14zM58.19 57.5h9.14v1.6h-9.14zM49.15 62h9.14v1.6h-9.14zM220.85 62h9.14v1.6h-9.14zM139.52 66.5h9.14v1.6h-9.14zM130.48 72.5h9.14v1.6h-9.14zM157.59 72.5h9.14v1.6h-9.14zM202.78 72.5h9.14v1.6h-9.14zM220.85 72.5h9.14v1.6h-9.14zM238.93 72.5h9.14v1.6h-9.14zM247.96 72.5h9.14v1.6h-9.14zM157.59 74h9.14v1.6h-9.14zM130.48 81.5h9.14v1.6h-9.14zM139.52 81.5h9.14v1.6h-9.14zM175.67 81.5h9.14v1.6h-9.14zM238.93 81.5h9.14v1.6h-9.14zM247.96 81.5h9.14v1.6h-9.14zM157.59 86h9.14v1.6h-9.14zM175.67 86h9.14v1.6h-9.14zM49.15 96.5h9.14v1.6h-9.14zM49.15 101h9.14v1.6h-9.14zM148.56 101h9.14v1.6h-9.14zM193.74 101h9.14v1.6h-9.14zM247.96 101h9.14v1.6h-9.14zM184.7 105.5h9.14v1.6h-9.14zM148.56 111.5h9.14v1.6h-9.14zM157.59 111.5h9.14v1.6h-9.14zM166.63 111.5h9.14v1.6h-9.14zM193.74 111.5h9.14v1.6h-9.14zM202.78 111.5h9.14v1.6h-9.14zM157.59 113h9.14v1.6h-9.14zM130.48 114.5h9.14v1.6h-9.14zM184.7 114.5h9.14v1.6h-9.14zM157.59 116h9.14v1.6h-9.14zM184.7 116h9.14v1.6h-9.14zM130.48 119h9.14v1.6h-9.14zM184.7 119h9.14v1.6h-9.14zM247.96 119h9.14v1.6h-9.14zM157.59 122h9.14v1.6h-9.14zM175.67 122h9.14v1.6h-9.14zM193.74 122h9.14v1.6h-9.14zM229.89 122h9.14v1.6h-9.14zM247.96 122h9.14v1.6h-9.14zM31.07 134h9.14v1.6h-9.14zM67.22 134h9.14v1.6h-9.14zM13 141.5h9.14v1.6h-9.14zM13 146h9.14v1.6h-9.14zM103.37 146h9.14v1.6h-9.14zM31.07 149h9.14v1.6h-9.14zM103.37 149h9.14v1.6h-9.14zM40.11 152h9.14v1.6h-9.14zM103.37 152h9.14v1.6h-9.14zM40.11 155h9.14v1.6h-9.14zM40.11 156.5h9.14v1.6h-9.14zM40.11 161h9.14v1.6h-9.14zM22.04 162.5h9.14v1.6h-9.14zM31.07 167h9.14v1.6h-9.14zM67.22 168.5h9.14v1.6h-9.14z"/>
<path fill="#7e0000" d="M94.33 39.5h9.14v1.6h-9.14zM67.22 62h9.14v1.6h-9.14zM76.26 98h9.14v1.6h-9.14zM94.33 99.5h9.14v1.6h-9.14zM94.33 101h9.14v1.6h-9.14zM67.22 104h9.14v1.6h-9.14zM31.07 110h9.14v1.6h-9.14zM40.11 110h9.14v1.6h-9.14zM58.19 119h9.14v1.6h-9.14zM112.41 120.5h9.14v1.6h-9.14zM58.19 122h9.14v1.6h-9.14zM94.33 123.5h9.14v1.6h-9.14z"/>
<path fill="#0c1200" d="M49.15 41h9.14v1.6h-9.14zM220.85 117.5h9.14v1.6h-9.14zM130.48 120.5h9.14v1.6h-9.14zM76.26 167h9.14v1.6h-9.14z"/>
<path fill="#000600" d="M22.04 42.5h9.14v1.6h-9.14zM58.19 60.5h9.14v1.6h-9.14zM121.44 60.5h9.14v1.6h-9.14zM58.19 110h9.14v1.6h-9.14zM121.44 110h9.14v1.6h-9.14zM139.52 117.5h9.14v1.6h-9.14zM238.93 117.5h9.14v1.6h-9.14zM13 170h9.14v1.6h-9.14zM76.26 170h9.14v1.6h-9.14z"/>
<path fill="#060600" d="M58.19 42.5h9.14v1.6h-9.14zM40.11 44h9.14v1.6h-9.14zM121.44 50h9.14v1.6h-9.14zM121.44 78.5h9.14v1.6h-9.14zM49.15 81.5h9.14v1.6h-9.14zM49.15 84.5h9.14v1.6h-9.14zM13 113h9.14v1.6h-9.14zM211.81 122h9.14v1.6h-9.14zM22.04 170h9.14v1.6h-9.14z"/>
<path fill="#060c00" d="M22.04 44h9.14v1.6h-9.14zM58.19 50h9.14v1.6h-9.14zM49.15 66.5h9.14v1.6h-9.14zM121.44 80h9.14v1.6h-9.14zM121.44 81.5h9.14v1.6h-9.14zM49.15 95h9.14v1.6h-9.14zM202.78 107h9.14v1.6h-9.14zM184.7 108.5h9.14v1.6h-9.14zM193.74 108.5h9.14v1.6h-9.14zM202.78 110h9.14v1.6h-9.14zM103.37 113h9.14v1.6h-9.14zM148.56 117.5h9.14v1.6h-9.14zM193.74 117.5h9.14v1.6h-9.14zM247.96 117.5h9.14v1.6h-9.14zM166.63 119h9.14v1.6h-9.14zM202.78 119h9.14v1.6h-9.14zM229.89 119h9.14v1.6h-9.14zM238.93 119h9.14v1.6h-9.14zM175.67 120.5h9.14v1.6h-9.14zM148.56 122h9.14v1.6h-9.14zM13 134h9.14v1.6h-9.14zM13 150.5h9.14v1.6h-9.14zM58.19 150.5h9.14v1.6h-9.14zM85.3 150.5h9.14v1.6h-9.14zM22.04 165.5h9.14v1.6h-9.14zM31.07 168.5h9.14v1.6h-9.14zM31.07 170h9.14v1.6h-9.14zM67.22 170h9.14v1.6h-9.14z"/>
<path fill="#0c1806" d="M31.07 44h9.14v1.6h-9.14zM130.48 62h9.14v1.6h-9.14zM139.52 62h9.14v1.6h-9.14zM148.56 62h9.14v1.6h-9.14zM157.59 62h9.14v1.6h-9.14zM130.48 66.5h9.14v1.6h-9.14zM148.56 66.5h9.14v1.6h-9.14zM175.67 66.5h9.14v1.6h-9.14zM229.89 66.5h9.14v1.6h-9.14zM193.74 72.5h9.14v1.6h-9.14zM148.56 81.5h9.14v1.6h-9.14zM157.59 81.5h9.14v1.6h-9.14zM184.7 81.5h9.14v1.6h-9.14zM157.59 114.5h9.14v1.6h-9.14zM130.48 116h9.14v1.6h-9.14zM193.74 116h9.14v1.6h-9.14zM202.78 117.5h9.14v1.6h-9.14zM211.81 117.5h9.14v1.6h-9.14zM229.89 117.5h9.14v1.6h-9.14zM211.81 119h9.14v1.6h-9.14zM184.7 120.5h9.14v1.6h-9.14zM220.85 120.5h9.14v1.6h-9.14zM238.93 120.5h9.14v1.6h-9.14zM247.96 120.5h9.14v1.6h-9.14zM238.93 122h9.14v1.6h-9.14zM76.26 149h9.14v1.6h-9.14zM31.07 150.5h9.14v1.6h-9.14zM49.15 150.5h9.14v1.6h-9.14zM22.04 155h9.14v1.6h-9.14zM31.07 161h9.14v1.6h-9.14zM67.22 165.5h9.14v1.6h-9.14zM67.22 167h9.14v1.6h-9.14z"/>
<path fill="#0c1206" d="M121.44 44h9.14v1.6h-9.14zM58.19 45.5h9.14v1.6h-9.14zM58.19 51.5h9.14v1.6h-9.14zM175.67 62h9.14v1.6h-9.14zM58.19 65h9.14v1.6h-9.14zM202.78 66.5h9.14v1.6h-9.14zM166.63 81.5h9.14v1.6h-9.14zM49.15 83h9.14v1.6h-9.14zM58.19 105.5h9.14v1.6h-9.14zM184.7 107h9.14v1.6h-9.14zM202.78 108.5h9.14v1.6h-9.14zM193.74 110h9.14v1.6h-9.14zM58.19 113h9.14v1.6h-9.14zM148.56 114.5h9.14v1.6h-9.14zM193.74 114.5h9.14v1.6h-9.14zM130.48 117.5h9.14v1.6h-9.14zM157.59 117.5h9.14v1.6h-9.14zM175.67 117.5h9.14v1.6h-9.14zM184.7 117.5h9.14v1.6h-9.14zM139.52 119h9.14v1.6h-9.14zM175.67 119h9.14v1.6h-9.14zM220.85 119h9.14v1.6h-9.14zM148.56 120.5h9.14v1.6h-9.14zM193.74 120.5h9.14v1.6h-9.14zM220.85 122h9.14v1.6h-9.14zM40.11 146h9.14v1.6h-9.14zM13 149h9.14v1.6h-9.14zM22.04 149h9.14v1.6h-9.14zM22.04 152h9.14v1.6h-9.14zM31.07 152h9.14v1.6h-9.14zM49.15 152h9.14v1.6h-9.14zM85.3 152h9.14v1.6h-9.14zM13 155h9.14v1.6h-9.14zM103.37 161h9.14v1.6h-9.14zM22.04 167h9.14v1.6h-9.14zM22.04 168.5h9.14v1.6h-9.14z"/>
<path fill="#365a12" d="M238.93 44h9.14v1.6h-9.14zM229.89 45.5h9.14v1.6h-9.14zM238.93 45.5h9.14v1.6h-9.14zM238.93 57.5h9.14v1.6h-9.14zM247.96 57.5h9.14v1.6h-9.14zM229.89 59h9.14v1.6h-9.14zM247.96 83h9.14v1.6h-9.14zM184.7 95h9.14v1.6h-9.14zM148.56 99.5h9.14v1.6h-9.14zM139.52 102.5h9.14v1.6h-9.14zM166.63 104h9.14v1.6h-9.14zM229.89 105.5h9.14v1.6h-9.14zM238.93 107h9.14v1.6h-9.14zM166.63 110h9.14v1.6h-9.14zM238.93 110h9.14v1.6h-9.14zM58.19 128h9.14v1.6h-9.14zM67.22 128h9.14v1.6h-9.14zM85.3 128h9.14v1.6h-9.14zM85.3 132.5h9.14v1.6h-9.14zM94.33 132.5h9.14v1.6h-9.14zM94.33 135.5h9.14v1.6h-9.14zM22.04 138.5h9.14v1.6h-9.14zM112.41 140h9.14v1.6h-9.14zM112.41 144.5h9.14v1.6h-9.14zM94.33 153.5h9.14v1.6h-9.14zM121.44 162.5h9.14v1.6h-9.14zM94.33 164h9.14v1.6h-9.14zM103.37 167h9.14v1.6h-9.14zM121.44 167h9.14v1.6h-9.14z"/>
<path fill="#061200" d="M121.44 45.5h9.14v1.6h-9.14zM175.67 72.5h9.14v1.6h-9.14zM166.63 122h9.14v1.6h-9.14zM40.11 170h9.14v1.6h-9.14z"/>
<path fill="#366012" d="M238.93 47h9.14v1.6h-9.14zM238.93 54.5h9.14v1.6h-9.14zM238.93 95h9.14v1.6h-9.14zM130.48 99.5h9.14v1.6h-9.14zM139.52 99.5h9.14v1.6h-9.14zM166.63 99.5h9.14v1.6h-9.14zM139.52 104h9.14v1.6h-9.14zM139.52 105.5h9.14v1.6h-9.14zM238.93 105.5h9.14v1.6h-9.14zM166.63 108.5h9.14v1.6h-9.14zM211.81 110h9.14v1.6h-9.14zM85.3 126.5h9.14v1.6h-9.14zM121.44 126.5h9.14v1.6h-9.14zM31.07 129.5h9.14v1.6h-9.14zM49.15 129.5h9.14v1.6h-9.14zM58.19 129.5h9.14v1.6h-9.14zM112.41 134h9.14v1.6h-9.14zM40.11 138.5h9.14v1.6h-9.14zM76.26 138.5h9.14v1.6h-9.14zM58.19 140h9.14v1.6h-9.14zM112.41 141.5h9.14v1.6h-9.14zM85.3 143h9.14v1.6h-9.14zM121.44 144.5h9.14v1.6h-9.14zM121.44 147.5h9.14v1.6h-9.14zM121.44 150.5h9.14v1.6h-9.14zM112.41 156.5h9.14v1.6h-9.14zM85.3 161h9.14v1.6h-9.14zM112.41 162.5h9.14v1.6h-9.14zM58.19 164h9.14v1.6h-9.14zM85.3 164h9.14v1.6h-9.14zM112.41 170h9.14v1.6h-9.14zM49.15 171.5h9.14v1.6h-9.14zM58.19 171.5h9.14v1.6h-9.14zM85.3 171.5h9.14v1.6h-9.14zM121.44 173h9.14v1.6h-9.14zM121.44 174.5h9.14v1.6h-9.14zM94.33 176h9.14v1.6h-9.14zM103.37 176h9.14v1.6h-9.14z"/>
<path fill="#305a12" d="M229.89 54.5h9.14v1.6h-9.14zM238.93 56h9.14v1.6h-9.14zM211.81 83h9.14v1.6h-9.14zM220.85 83h9.14v1.6h-9.14zM157.59 99.5h9.14v1.6h-9.14zM148.56 102.5h9.14v1.6h-9.14zM229.89 102.5h9.14v1.6h-9.14zM175.67 104h9.14v1.6h-9.14zM220.85 104h9.14v1.6h-9.14zM247.96 104h9.14v1.6h-9.14zM247.96 110h9.14v1.6h-9.14zM85.3 140h9.14v1.6h-9.14zM40.11 153.5h9.14v1.6h-9.14zM85.3 158h9.14v1.6h-9.14zM94.33 158h9.14v1.6h-9.14zM112.41 161h9.14v1.6h-9.14zM94.33 167h9.14v1.6h-9.14zM85.3 173h9.14v1.6h-9.14z"/>
<path fill="#a20000" d="M67.22 59h9.14v1.6h-9.14zM40.11 108.5h9.14v1.6h-9.14zM112.41 122h9.14v1.6h-9.14z"/>
<path fill="#121806" d="M121.44 71h9.14v1.6h-9.14zM211.81 72.5h9.14v1.6h-9.14zM229.89 114.5h9.14v1.6h-9.14zM211.81 120.5h9.14v1.6h-9.14z"/>
<path fill="#b40000" d="M67.22 92h9.14v1.6h-9.14zM67.22 99.5h9.14v1.6h-9.14z"/>
<path fill="#9c0000" d="M76.26 93.5h9.14v1.6h-9.14zM67.22 96.5h9.14v1.6h-9.14zM76.26 96.5h9.14v1.6h-9.14zM40.11 99.5h9.14v1.6h-9.14zM40.11 101h9.14v1.6h-9.14zM67.22 101h9.14v1.6h-9.14zM31.07 104h9.14v1.6h-9.14z"/>
<path fill="#366612" d="M121.44 96.5h9.14v1.6h-9.14zM148.56 110h9.14v1.6h-9.14zM67.22 138.5h9.14v1.6h-9.14zM94.33 165.5h9.14v1.6h-9.14z"/>
<path fill="#ae0000" d="M31.07 99.5h9.14v1.6h-9.14zM40.11 104h9.14v1.6h-9.14zM103.37 119h9.14v1.6h-9.14zM103.37 122h9.14v1.6h-9.14z"/>
<path fill="#427212" d="M121.44 99.5h9.14v1.6h-9.14zM121.44 101h9.14v1.6h-9.14zM139.52 110h9.14v1.6h-9.14zM121.44 128h9.14v1.6h-9.14zM94.33 129.5h9.14v1.6h-9.14zM121.44 129.5h9.14v1.6h-9.14zM121.44 131h9.14v1.6h-9.14zM85.3 135.5h9.14v1.6h-9.14zM121.44 153.5h9.14v1.6h-9.14zM49.15 156.5h9.14v1.6h-9.14zM85.3 162.5h9.14v1.6h-9.14zM58.19 167h9.14v1.6h-9.14z"/>
<path fill="#2a420c" d="M49.15 104h9.14v1.6h-9.14zM85.3 156.5h9.14v1.6h-9.14z"/>
<path fill="#3c6612" d="M130.48 105.5h9.14v1.6h-9.14zM157.59 105.5h9.14v1.6h-9.14zM139.52 107h9.14v1.6h-9.14zM130.48 110h9.14v1.6h-9.14zM157.59 110h9.14v1.6h-9.14zM49.15 128h9.14v1.6h-9.14zM85.3 129.5h9.14v1.6h-9.14zM49.15 135.5h9.14v1.6h-9.14zM121.44 137h9.14v1.6h-9.14zM49.15 138.5h9.14v1.6h-9.14zM112.41 143h9.14v1.6h-9.14zM85.3 147.5h9.14v1.6h-9.14zM58.19 156.5h9.14v1.6h-9.14zM58.19 158h9.14v1.6h-9.14zM58.19 159.5h9.14v1.6h-9.14zM85.3 159.5h9.14v1.6h-9.14zM121.44 165.5h9.14v1.6h-9.14zM85.3 167h9.14v1.6h-9.14zM94.33 174.5h9.14v1.6h-9.14z"/>
<path fill="#3c6c12" d="M148.56 105.5h9.14v1.6h-9.14zM94.33 128h9.14v1.6h-9.14zM85.3 131h9.14v1.6h-9.14zM121.44 132.5h9.14v1.6h-9.14zM121.44 135.5h9.14v1.6h-9.14zM85.3 137h9.14v1.6h-9.14zM121.44 138.5h9.14v1.6h-9.14zM49.15 140h9.14v1.6h-9.14zM121.44 140h9.14v1.6h-9.14zM85.3 144.5h9.14v1.6h-9.14zM112.41 147.5h9.14v1.6h-9.14zM49.15 153.5h9.14v1.6h-9.14zM58.19 153.5h9.14v1.6h-9.14zM85.3 153.5h9.14v1.6h-9.14zM49.15 158h9.14v1.6h-9.14zM112.41 158h9.14v1.6h-9.14zM49.15 161h9.14v1.6h-9.14zM58.19 162.5h9.14v1.6h-9.14zM121.44 164h9.14v1.6h-9.14zM94.33 168.5h9.14v1.6h-9.14zM49.15 170h9.14v1.6h-9.14zM49.15 173h9.14v1.6h-9.14zM58.19 173h9.14v1.6h-9.14z"/>
<path fill="#ba0000" d="M112.41 119h9.14v1.6h-9.14z"/>
<path fill="#a80000" d="M112.41 123.5h9.14v1.6h-9.14z"/>
<path fill="#4e8a18" d="M112.41 126.5h9.14v1.6h-9.14zM112.41 131h9.14v1.6h-9.14zM49.15 159.5h9.14v1.6h-9.14zM112.41 159.5h9.14v1.6h-9.14zM112.41 168.5h9.14v1.6h-9.14zM58.19 176h9.14v1.6h-9.14zM85.3 176h9.14v1.6h-9.14z"/>
<path fill="#5aa21e" d="M112.41 128h9.14v1.6h-9.14z"/>
<path fill="#5a9c1e" d="M112.41 129.5h9.14v1.6h-9.14z"/>
<path fill="#488418" d="M112.41 132.5h9.14v1.6h-9.14zM112.41 153.5h9.14v1.6h-9.14z"/>
<path fill="#54961e" d="M112.41 135.5h9.14v1.6h-9.14z"/>
<path fill="#4e9018" d="M112.41 137h9.14v1.6h-9.14zM49.15 174.5h9.14v1.6h-9.14z"/>
<path fill="#427218" d="M85.3 138.5h9.14v1.6h-9.14zM112.41 164h9.14v1.6h-9.14zM49.15 167h9.14v1.6h-9.14z"/>
<path fill="#427818" d="M94.33 138.5h9.14v1.6h-9.14zM121.44 159.5h9.14v1.6h-9.14zM49.15 162.5h9.14v1.6h-9.14zM49.15 165.5h9.14v1.6h-9.14zM58.19 165.5h9.14v1.6h-9.14zM85.3 165.5h9.14v1.6h-9.14zM58.19 168.5h9.14v1.6h-9.14zM121.44 168.5h9.14v1.6h-9.14zM85.3 174.5h9.14v1.6h-9.14zM49.15 176h9.14v1.6h-9.14z"/>
<path fill="#60ae1e" d="M112.41 138.5h9.14v1.6h-9.14z"/>
<path fill="#4e8418" d="M49.15 164h9.14v1.6h-9.14zM58.19 174.5h9.14v1.6h-9.14z"/>
<path fill="#487e18" d="M112.41 165.5h9.14v1.6h-9.14zM112.41 167h9.14v1.6h-9.14zM112.41 174.5h9.14v1.6h-9.14zM121.44 176h9.14v1.6h-9.14z"/>
<path fill="#487818" d="M49.15 168.5h9.14v1.6h-9.14zM85.3 168.5h9.14v1.6h-9.14zM112.41 176h9.14v1.6h-9.14z"/>
</g>
<g stroke="#000" stroke-width="1.2">
<line x1="13" y1="27.1" x2="66" y2="27.1"/>
<line x1="68.5" y1="27.1" x2="129" y2="27.1"/>
<line x1="132.5" y1="27.1" x2="210" y2="27.1"/>
<line x1="212.5" y1="27.1" x2="256" y2="27.1"/>
</g>
<g font-size="7.6" fill="#111" text-anchor="middle">
<text x="40" y="22.6">CD19<tspan dy="-3" font-size="4.6">+</tspan><tspan dy="3">/CD20</tspan><tspan dy="-3" font-size="4.6">+</tspan></text>
<text x="99" y="22.6">CD19<tspan dy="-3" font-size="4.6">+</tspan><tspan dy="3">/CD20</tspan><tspan dy="-3" font-size="4.6">-</tspan></text>
<text x="171.3" y="22.6">CD19<tspan dy="-3" font-size="4.6">+</tspan><tspan dy="3"> ASC</tspan></text>
<text x="234.3" y="22.6">CD19<tspan dy="-3" font-size="4.6">-</tspan><tspan dy="3"> ASC</tspan></text>
</g>
<g font-size="5.7" fill="#111" text-anchor="end">
<text transform="translate(17.52 181) rotate(-90)" x="0" y="2">RES28_HuBM_4</text>
<text transform="translate(26.56 181) rotate(-90)" x="0" y="2">RES28_HuBM_15</text>
<text transform="translate(35.59 181) rotate(-90)" x="0" y="2">RES28_HuBM_7</text>
<text transform="translate(44.63 181) rotate(-90)" x="0" y="2">RES28_HuBM_19</text>
<text transform="translate(53.67 181) rotate(-90)" x="0" y="2">RES28_HuBM_23</text>
<text transform="translate(62.7 181) rotate(-90)" x="0" y="2">RES28_HuBM_11</text>
<text transform="translate(71.74 181) rotate(-90)" x="0" y="2">RES28_HuBM_5</text>
<text transform="translate(80.78 181) rotate(-90)" x="0" y="2">RES28_HuBM_12</text>
<text transform="translate(89.81 181) rotate(-90)" x="0" y="2">RES28_HuBM_20</text>
<text transform="translate(98.85 181) rotate(-90)" x="0" y="2">RES28_HuBM_33</text>
<text transform="translate(107.89 181) rotate(-90)" x="0" y="2">RES28_HuBM_16</text>
<text transform="translate(116.93 181) rotate(-90)" x="0" y="2">RES28_HuBM_24</text>
<text transform="translate(125.96 181) rotate(-90)" x="0" y="2">RES28_HuBM_8</text>
<text transform="translate(135 181) rotate(-90)" x="0" y="2">RES28_HuBM_3</text>
<text transform="translate(144.04 181) rotate(-90)" x="0" y="2">RES28_HuBM_6</text>
<text transform="translate(153.07 181) rotate(-90)" x="0" y="2">RES28_HuBM_9</text>
<text transform="translate(162.11 181) rotate(-90)" x="0" y="2">RES28_HuBM_13</text>
<text transform="translate(171.15 181) rotate(-90)" x="0" y="2">RES28_HuBM_17</text>
<text transform="translate(180.19 181) rotate(-90)" x="0" y="2">RES28_HuBM_21</text>
<text transform="translate(189.22 181) rotate(-90)" x="0" y="2">RES28_HuBM_28</text>
<text transform="translate(198.26 181) rotate(-90)" x="0" y="2">RES28_HuBM_32</text>
<text transform="translate(207.3 181) rotate(-90)" x="0" y="2">RES28_HuBM_36</text>
<text transform="translate(216.33 181) rotate(-90)" x="0" y="2">RES28_HuBM_10</text>
<text transform="translate(225.37 181) rotate(-90)" x="0" y="2">RES28_HuBM_14</text>
<text transform="translate(234.41 181) rotate(-90)" x="0" y="2">RES28_HuBM_27</text>
<text transform="translate(243.44 181) rotate(-90)" x="0" y="2">RES28_HuBM_31</text>
<text transform="translate(252.48 181) rotate(-90)" x="0" y="2">RES28_HuBM_35</text>
</g>
<defs><linearGradient id="ck" x1="0" x2="1" y1="0" y2="0"><stop offset="0" stop-color="#7ed62a"/><stop offset="0.486" stop-color="#000"/><stop offset="1" stop-color="#d80000"/></linearGradient></defs>
<text x="134.5" y="247.6" font-size="9.2" text-anchor="middle" fill="#111">Color Key</text>
<rect x="99.5" y="253.1" width="70.2" height="13.3" fill="url(#ck)" stroke="#000" stroke-width="1"/>
<g stroke="#000" stroke-width="0.8">
<line x1="116.4" y1="267" x2="116.4" y2="269.3"/>
<line x1="133.6" y1="267" x2="133.6" y2="269.3"/>
<line x1="151" y1="267" x2="151" y2="269.3"/>
<line x1="168.4" y1="267" x2="168.4" y2="269.3"/>
</g>
<g font-size="7.3" text-anchor="middle" fill="#111">
<text x="115.6" y="280.2">-2</text>
<text x="133.6" y="280.2">0</text>
<text x="151" y="280.2">2</text>
<text x="168.4" y="280.2">4</text>
</g>
<text x="134.3" y="290.8" font-size="8.9" text-anchor="middle" fill="#111">Row Z-score</text>
<g font-size="11.2" fill="#000">
<text x="6" y="14">A</text>
<text x="275" y="14">B</text>
<text x="8" y="316.3">C</text>
<text x="274.3" y="316.3">D</text>
</g>
<g stroke="#000" stroke-width="1.15" fill="none">
<line x1="311.3" y1="28.7" x2="311.3" y2="156.3"/>
<line x1="310.8" y1="155.8" x2="508.8" y2="155.8"/>
<line x1="307.7" y1="31.3" x2="311.3" y2="31.3"/>
<line x1="307.7" y1="93.8" x2="311.3" y2="93.8"/>
<line x1="307.7" y1="156.3" x2="311.3" y2="156.3"/>
<line x1="335.8" y1="155.8" x2="335.8" y2="159"/>
<line x1="385" y1="155.8" x2="385" y2="159"/>
<line x1="434.4" y1="155.8" x2="434.4" y2="159"/>
<line x1="483.8" y1="155.8" x2="483.8" y2="159"/>
</g>
<g stroke="#111" stroke-width="0.9">
<line x1="309" y1="74.99" x2="311.3" y2="74.99"/>
<line x1="309" y1="63.98" x2="311.3" y2="63.98"/>
<line x1="309" y1="56.17" x2="311.3" y2="56.17"/>
<line x1="309" y1="50.11" x2="311.3" y2="50.11"/>
<line x1="309" y1="45.17" x2="311.3" y2="45.17"/>
<line x1="309" y1="40.98" x2="311.3" y2="40.98"/>
<line x1="309" y1="37.36" x2="311.3" y2="37.36"/>
<line x1="309" y1="34.16" x2="311.3" y2="34.16"/>
<line x1="309" y1="137.49" x2="311.3" y2="137.49"/>
<line x1="309" y1="126.48" x2="311.3" y2="126.48"/>
<line x1="309" y1="118.67" x2="311.3" y2="118.67"/>
<line x1="309" y1="112.61" x2="311.3" y2="112.61"/>
<line x1="309" y1="107.67" x2="311.3" y2="107.67"/>
<line x1="309" y1="103.48" x2="311.3" y2="103.48"/>
<line x1="309" y1="99.86" x2="311.3" y2="99.86"/>
<line x1="309" y1="96.66" x2="311.3" y2="96.66"/>
</g>
<g font-size="7.3" text-anchor="end" fill="#111">
<text x="304.7" y="33.95">1000</text>
<text x="304.7" y="96.45">100</text>
<text x="304.7" y="158.95">10</text>
</g>
<g font-size="7.65" fill="#111">
<text transform="translate(341.3 166.8) rotate(-45)" x="-23.07" textLength="23.07" lengthAdjust="spacingAndGlyphs">CFLAR</text>
<text transform="translate(388.1 166.8) rotate(-45)" x="-26.99" textLength="26.99" lengthAdjust="spacingAndGlyphs">CASP10</text>
<text transform="translate(436.1 166.8) rotate(-45)" x="-23.08" textLength="23.08" lengthAdjust="spacingAndGlyphs">CASP6</text>
<text transform="translate(485.8 166.8) rotate(-45)" x="-36.38" textLength="36.38" lengthAdjust="spacingAndGlyphs">CASP8AP2</text>
</g>
<text transform="translate(280.6 91) rotate(-90)" font-size="8.9" text-anchor="middle" fill="#111">Relative expression</text>
<line x1="317.9" y1="27.2" x2="342.1" y2="27.2" stroke="#000" stroke-width="1.1"/>
<text x="330" y="28.7" font-size="8.4" text-anchor="middle" fill="#111" style="stroke-width:.26px">****</text>
<line x1="329" y1="32.1" x2="342.1" y2="32.1" stroke="#000" stroke-width="1.1"/>
<text x="335.8" y="33.6" font-size="8.4" text-anchor="middle" fill="#111" style="stroke-width:.26px">****</text>
<circle cx="320" cy="77.7" r="1.2" fill="#b5002a"/>
<circle cx="318.1" cy="88.8" r="1.2" fill="#b5002a"/>
<circle cx="321.8" cy="91" r="1.2" fill="#b5002a"/>
<circle cx="320" cy="99.1" r="1.2" fill="#b5002a"/>
<circle cx="320" cy="107.4" r="1.2" fill="#b5002a"/>
<circle cx="320" cy="111.5" r="1.2" fill="#b5002a"/>
<line x1="316.6" y1="93.4" x2="323.4" y2="93.4" stroke="#000" stroke-width="1.1"/>
<rect x="327.57" y="89.77" width="2.26" height="2.26" fill="#173a80"/>
<rect x="331.27" y="89.77" width="2.26" height="2.26" fill="#173a80"/>
<rect x="327.57" y="98.07" width="2.26" height="2.26" fill="#173a80"/>
<rect x="331.27" y="99.07" width="2.26" height="2.26" fill="#173a80"/>
<rect x="329.47" y="101.37" width="2.26" height="2.26" fill="#173a80"/>
<rect x="329.47" y="107.17" width="2.26" height="2.26" fill="#173a80"/>
<rect x="329.47" y="114.57" width="2.26" height="2.26" fill="#173a80"/>
<line x1="327.2" y1="100" x2="334" y2="100" stroke="#000" stroke-width="1.1"/>
<path d="M339.81 39.21L342.59 39.21L341.2 36.71Z" fill="#5aa52e"/>
<path d="M336.11 43.61L338.89 43.61L337.5 41.11Z" fill="#5aa52e"/>
<path d="M343.51 44.81L346.29 44.81L344.9 42.31Z" fill="#5aa52e"/>
<path d="M337.91 45.91L340.69 45.91L339.3 43.41Z" fill="#5aa52e"/>
<path d="M341.61 46.51L344.39 46.51L343 44.01Z" fill="#5aa52e"/>
<path d="M339.81 49.11L342.59 49.11L341.2 46.61Z" fill="#5aa52e"/>
<path d="M337.91 55.51L340.69 55.51L339.3 53.01Z" fill="#5aa52e"/>
<path d="M341.61 58.91L344.39 58.91L343 56.41Z" fill="#5aa52e"/>
<path d="M339.81 63.81L342.59 63.81L341.2 61.31Z" fill="#5aa52e"/>
<line x1="337.8" y1="47.3" x2="344.6" y2="47.3" stroke="#000" stroke-width="1.1"/>
<path d="M350.21 40.19L352.99 40.19L351.6 42.69Z" fill="#4b1570"/>
<path d="M350.21 45.69L352.99 45.69L351.6 48.19Z" fill="#4b1570"/>
<path d="M348.41 50.39L351.19 50.39L349.8 52.89Z" fill="#4b1570"/>
<path d="M352.01 50.39L354.79 50.39L353.4 52.89Z" fill="#4b1570"/>
<path d="M350.21 60.69L352.99 60.69L351.6 63.19Z" fill="#4b1570"/>
<line x1="348.3" y1="50.2" x2="355.1" y2="50.2" stroke="#000" stroke-width="1.1"/>
<line x1="366" y1="36.2" x2="390.2" y2="36.2" stroke="#000" stroke-width="1.1"/>
<text x="378.1" y="37.7" font-size="8.4" text-anchor="middle" fill="#111" style="stroke-width:.26px">****</text>
<line x1="376.9" y1="41.4" x2="390.2" y2="41.4" stroke="#000" stroke-width="1.1"/>
<text x="383.8" y="42.9" font-size="8.4" text-anchor="middle" fill="#111" style="stroke-width:.26px">****</text>
<circle cx="370.8" cy="89.8" r="1.2" fill="#b5002a"/>
<circle cx="369.1" cy="91" r="1.2" fill="#b5002a"/>
<circle cx="367.5" cy="91.7" r="1.2" fill="#b5002a"/>
<circle cx="370" cy="91.9" r="1.2" fill="#b5002a"/>
<circle cx="369.1" cy="93.7" r="1.2" fill="#b5002a"/>
<circle cx="369.1" cy="99.2" r="1.2" fill="#b5002a"/>
<line x1="365.8" y1="92.5" x2="372.6" y2="92.5" stroke="#000" stroke-width="1.1"/>
<rect x="378.67" y="86.17" width="2.26" height="2.26" fill="#173a80"/>
<rect x="376.97" y="90.77" width="2.26" height="2.26" fill="#173a80"/>
<rect x="378.67" y="91.97" width="2.26" height="2.26" fill="#173a80"/>
<rect x="380.67" y="91.97" width="2.26" height="2.26" fill="#173a80"/>
<rect x="376.97" y="94.47" width="2.26" height="2.26" fill="#173a80"/>
<rect x="380.67" y="97.47" width="2.26" height="2.26" fill="#173a80"/>
<rect x="378.67" y="105.77" width="2.26" height="2.26" fill="#173a80"/>
<line x1="376.5" y1="94.6" x2="383.3" y2="94.6" stroke="#000" stroke-width="1.1"/>
<path d="M387.11 48.41L389.89 48.41L388.5 45.91Z" fill="#5aa52e"/>
<path d="M390.51 50.11L393.29 50.11L391.9 47.61Z" fill="#5aa52e"/>
<path d="M392.51 49.81L395.29 49.81L393.9 47.31Z" fill="#5aa52e"/>
<path d="M385.31 53.41L388.09 53.41L386.7 50.91Z" fill="#5aa52e"/>
<path d="M387.11 56.71L389.89 56.71L388.5 54.21Z" fill="#5aa52e"/>
<path d="M388.81 57.01L391.59 57.01L390.2 54.51Z" fill="#5aa52e"/>
<path d="M390.81 55.51L393.59 55.51L392.2 53.01Z" fill="#5aa52e"/>
<path d="M387.11 60.51L389.89 60.51L388.5 58.01Z" fill="#5aa52e"/>
<path d="M390.81 60.41L393.59 60.41L392.2 57.91Z" fill="#5aa52e"/>
<line x1="387.1" y1="52.7" x2="393.9" y2="52.7" stroke="#000" stroke-width="1.1"/>
<path d="M399.51 49.49L402.29 49.49L400.9 51.99Z" fill="#4b1570"/>
<path d="M398.01 54.49L400.79 54.49L399.4 56.99Z" fill="#4b1570"/>
<path d="M401.51 54.79L404.29 54.79L402.9 57.29Z" fill="#4b1570"/>
<path d="M399.81 57.89L402.59 57.89L401.2 60.39Z" fill="#4b1570"/>
<path d="M399.81 55.29L402.59 55.29L401.2 57.79Z" fill="#4b1570"/>
<line x1="397.8" y1="55.6" x2="404.6" y2="55.6" stroke="#000" stroke-width="1.1"/>
<line x1="417.1" y1="54.2" x2="441.7" y2="54.2" stroke="#000" stroke-width="1.1"/>
<text x="429.5" y="55.7" font-size="8.4" text-anchor="middle" fill="#111" style="stroke-width:.26px">****</text>
<line x1="428.4" y1="59.7" x2="441.7" y2="59.7" stroke="#000" stroke-width="1.1"/>
<text x="435.2" y="61.2" font-size="8.4" text-anchor="middle" fill="#111" style="stroke-width:.26px">****</text>
<circle cx="418.6" cy="78.7" r="1.2" fill="#b5002a"/>
<circle cx="418.6" cy="82.7" r="1.2" fill="#b5002a"/>
<circle cx="420.3" cy="90" r="1.2" fill="#b5002a"/>
<circle cx="416.9" cy="93.5" r="1.2" fill="#b5002a"/>
<circle cx="418.6" cy="100.3" r="1.2" fill="#b5002a"/>
<circle cx="418.6" cy="107" r="1.2" fill="#b5002a"/>
<line x1="415.2" y1="90.3" x2="422" y2="90.3" stroke="#000" stroke-width="1.1"/>
<rect x="426.17" y="68.07" width="2.26" height="2.26" fill="#173a80"/>
<rect x="431.57" y="71.37" width="2.26" height="2.26" fill="#173a80"/>
<rect x="429.87" y="74.47" width="2.26" height="2.26" fill="#173a80"/>
<rect x="426.17" y="75.57" width="2.26" height="2.26" fill="#173a80"/>
<rect x="426.17" y="87.17" width="2.26" height="2.26" fill="#173a80"/>
<rect x="429.87" y="90.57" width="2.26" height="2.26" fill="#173a80"/>
<rect x="427.87" y="109.07" width="2.26" height="2.26" fill="#173a80"/>
<line x1="425.8" y1="80.5" x2="432.6" y2="80.5" stroke="#000" stroke-width="1.1"/>
<path d="M436.51 112.21L439.29 112.21L437.9 109.71Z" fill="#5aa52e"/>
<path d="M439.91 111.91L442.69 111.91L441.3 109.41Z" fill="#5aa52e"/>
<path d="M438.21 114.81L440.99 114.81L439.6 112.31Z" fill="#5aa52e"/>
<path d="M437.11 119.91L439.89 119.91L438.5 117.41Z" fill="#5aa52e"/>
<path d="M438.81 120.51L441.59 120.51L440.2 118.01Z" fill="#5aa52e"/>
<path d="M440.31 122.81L443.09 122.81L441.7 120.31Z" fill="#5aa52e"/>
<path d="M436.51 125.71L439.29 125.71L437.9 123.21Z" fill="#5aa52e"/>
<path d="M439.61 116.11L442.39 116.11L441 113.61Z" fill="#5aa52e"/>
<line x1="436.2" y1="116" x2="443" y2="116" stroke="#000" stroke-width="1.1"/>
<path d="M447.11 110.79L449.89 110.79L448.5 113.29Z" fill="#4b1570"/>
<path d="M450.71 113.69L453.49 113.69L452.1 116.19Z" fill="#4b1570"/>
<path d="M447.11 119.49L449.89 119.49L448.5 121.99Z" fill="#4b1570"/>
<path d="M450.71 121.79L453.49 121.79L452.1 124.29Z" fill="#4b1570"/>
<path d="M448.81 123.29L451.59 123.29L450.2 125.79Z" fill="#4b1570"/>
<line x1="446.9" y1="119.1" x2="453.7" y2="119.1" stroke="#000" stroke-width="1.1"/>
<line x1="466" y1="53.4" x2="490.2" y2="53.4" stroke="#000" stroke-width="1.1"/>
<text x="478.1" y="54.9" font-size="8.4" text-anchor="middle" fill="#111" style="stroke-width:.26px">****</text>
<line x1="476.9" y1="59.7" x2="490.2" y2="59.7" stroke="#000" stroke-width="1.1"/>
<text x="483.8" y="61.2" font-size="8.4" text-anchor="middle" fill="#111" style="stroke-width:.26px">****</text>
<circle cx="467.9" cy="66.6" r="1.2" fill="#b5002a"/>
<circle cx="469.8" cy="72.1" r="1.2" fill="#b5002a"/>
<circle cx="466.2" cy="74.4" r="1.2" fill="#b5002a"/>
<circle cx="467.9" cy="75.6" r="1.2" fill="#b5002a"/>
<circle cx="469.8" cy="87.7" r="1.2" fill="#b5002a"/>
<circle cx="466.2" cy="89.2" r="1.2" fill="#b5002a"/>
<line x1="464.6" y1="76.4" x2="471.4" y2="76.4" stroke="#000" stroke-width="1.1"/>
<rect x="477.57" y="65.57" width="2.26" height="2.26" fill="#173a80"/>
<rect x="475.77" y="75.57" width="2.26" height="2.26" fill="#173a80"/>
<rect x="479.27" y="76.17" width="2.26" height="2.26" fill="#173a80"/>
<rect x="477.57" y="81.67" width="2.26" height="2.26" fill="#173a80"/>
<rect x="475.77" y="95.57" width="2.26" height="2.26" fill="#173a80"/>
<rect x="479.27" y="97.17" width="2.26" height="2.26" fill="#173a80"/>
<rect x="477.57" y="106.37" width="2.26" height="2.26" fill="#173a80"/>
<line x1="475.3" y1="83.3" x2="482.1" y2="83.3" stroke="#000" stroke-width="1.1"/>
<path d="M489.41 103.61L492.19 103.61L490.8 101.11Z" fill="#5aa52e"/>
<path d="M485.91 105.91L488.69 105.91L487.3 103.41Z" fill="#5aa52e"/>
<path d="M487.61 106.11L490.39 106.11L489 103.61Z" fill="#5aa52e"/>
<path d="M485.91 113.91L488.69 113.91L487.3 111.41Z" fill="#5aa52e"/>
<path d="M489.61 114.51L492.39 114.51L491 112.01Z" fill="#5aa52e"/>
<path d="M487.61 117.41L490.39 117.41L489 114.91Z" fill="#5aa52e"/>
<path d="M487.61 121.11L490.39 121.11L489 118.61Z" fill="#5aa52e"/>
<path d="M485.91 132.31L488.69 132.31L487.3 129.81Z" fill="#5aa52e"/>
<path d="M489.41 131.51L492.19 131.51L490.8 129.01Z" fill="#5aa52e"/>
<line x1="485.6" y1="113.1" x2="492.4" y2="113.1" stroke="#000" stroke-width="1.1"/>
<path d="M498.41 105.29L501.19 105.29L499.8 107.79Z" fill="#4b1570"/>
<path d="M498.41 113.09L501.19 113.09L499.8 115.59Z" fill="#4b1570"/>
<path d="M496.51 117.69L499.29 117.69L497.9 120.19Z" fill="#4b1570"/>
<path d="M500.11 118.89L502.89 118.89L501.5 121.39Z" fill="#4b1570"/>
<path d="M498.41 123.29L501.19 123.29L499.8 125.79Z" fill="#4b1570"/>
<line x1="496.3" y1="116.5" x2="503.1" y2="116.5" stroke="#000" stroke-width="1.1"/>
<g font-size="7.45" fill="#111">
<text x="311.2" y="200.9">****: FDR&lt;0.0001</text>
<text x="311.2" y="208.15">***: FDR&lt;0.001</text>
<text x="311.2" y="215.4">**: FDR&lt;0.01</text>
<text x="311.2" y="222.65">*: FDR&lt;0.05</text>
<text x="311.2" y="229.9">ns: not significant</text>
</g>
<g stroke="#000" stroke-width="1.15" fill="none">
<line x1="44.6" y1="324.5" x2="44.6" y2="456.1"/>
<line x1="44.1" y1="455.6" x2="247.7" y2="455.6"/>
<line x1="41" y1="327.7" x2="44.6" y2="327.7"/>
<line x1="41" y1="391.7" x2="44.6" y2="391.7"/>
<line x1="41" y1="455.6" x2="44.6" y2="455.6"/>
<line x1="64.6" y1="455.6" x2="64.6" y2="458.8"/>
<line x1="105.4" y1="455.6" x2="105.4" y2="458.8"/>
<line x1="146.2" y1="455.6" x2="146.2" y2="458.8"/>
<line x1="187" y1="455.6" x2="187" y2="458.8"/>
<line x1="227.8" y1="455.6" x2="227.8" y2="458.8"/>
</g>
<g stroke="#111" stroke-width="0.9">
<line x1="42.3" y1="372.43" x2="44.6" y2="372.43"/>
<line x1="42.3" y1="361.16" x2="44.6" y2="361.16"/>
<line x1="42.3" y1="353.17" x2="44.6" y2="353.17"/>
<line x1="42.3" y1="346.97" x2="44.6" y2="346.97"/>
<line x1="42.3" y1="341.9" x2="44.6" y2="341.9"/>
<line x1="42.3" y1="337.61" x2="44.6" y2="337.61"/>
<line x1="42.3" y1="333.9" x2="44.6" y2="333.9"/>
<line x1="42.3" y1="330.63" x2="44.6" y2="330.63"/>
<line x1="42.3" y1="436.43" x2="44.6" y2="436.43"/>
<line x1="42.3" y1="425.16" x2="44.6" y2="425.16"/>
<line x1="42.3" y1="417.17" x2="44.6" y2="417.17"/>
<line x1="42.3" y1="410.97" x2="44.6" y2="410.97"/>
<line x1="42.3" y1="405.9" x2="44.6" y2="405.9"/>
<line x1="42.3" y1="401.61" x2="44.6" y2="401.61"/>
<line x1="42.3" y1="397.9" x2="44.6" y2="397.9"/>
<line x1="42.3" y1="394.63" x2="44.6" y2="394.63"/>
</g>
<g font-size="7.3" text-anchor="end" fill="#111">
<text x="38" y="330.35">1000</text>
<text x="38" y="394.35">100</text>
<text x="38" y="458.25">10</text>
</g>
<g font-size="7.7" fill="#111">
<text transform="translate(66.3 466.6) rotate(-45)" x="-18.9" textLength="18.9" lengthAdjust="spacingAndGlyphs">MCL1</text>
<text transform="translate(107.1 466.6) rotate(-45)" x="-29.01" textLength="29.01" lengthAdjust="spacingAndGlyphs">BCL2L11</text>
<text transform="translate(149.9 466.6) rotate(-45)" x="-20.47" textLength="20.47" lengthAdjust="spacingAndGlyphs">BNIP3</text>
<text transform="translate(190.4 466.6) rotate(-45)" x="-11.42" textLength="11.42" lengthAdjust="spacingAndGlyphs">BIK</text>
<text transform="translate(230.5 466.6) rotate(-45)" x="-21.66" textLength="21.66" lengthAdjust="spacingAndGlyphs">BCL10</text>
</g>
<text transform="translate(14.2 388.5) rotate(-90)" font-size="8.9" text-anchor="middle" fill="#111">Relative expression</text>
<line x1="50" y1="326.2" x2="70.5" y2="326.2" stroke="#000" stroke-width="1.1"/>
<text x="60.3" y="327.7" font-size="8.4" text-anchor="middle" fill="#111" style="stroke-width:.26px">****</text>
<line x1="60" y1="332" x2="70.5" y2="332" stroke="#000" stroke-width="1.1"/>
<text x="65.4" y="333.5" font-size="8.4" text-anchor="middle" fill="#111" style="stroke-width:.26px">****</text>
<circle cx="48.9" cy="402" r="1.15" fill="#b5002a"/>
<circle cx="53.4" cy="399.7" r="1.15" fill="#b5002a"/>
<circle cx="50" cy="403.8" r="1.15" fill="#b5002a"/>
<circle cx="53.4" cy="406.9" r="1.15" fill="#b5002a"/>
<circle cx="50" cy="417.7" r="1.15" fill="#b5002a"/>
<circle cx="53.4" cy="417.7" r="1.15" fill="#b5002a"/>
<line x1="48.6" y1="406.9" x2="54.4" y2="406.9" stroke="#000" stroke-width="1.1"/>
<rect x="59.42" y="392.02" width="2.16" height="2.16" fill="#173a80"/>
<rect x="57.72" y="395.82" width="2.16" height="2.16" fill="#173a80"/>
<rect x="60.92" y="397.12" width="2.16" height="2.16" fill="#173a80"/>
<rect x="59.42" y="407.72" width="2.16" height="2.16" fill="#173a80"/>
<rect x="57.72" y="414.32" width="2.16" height="2.16" fill="#173a80"/>
<rect x="60.92" y="415.12" width="2.16" height="2.16" fill="#173a80"/>
<rect x="59.42" y="428.12" width="2.16" height="2.16" fill="#173a80"/>
<line x1="57.5" y1="405.4" x2="63.3" y2="405.4" stroke="#000" stroke-width="1.1"/>
<path d="M66.37 338.47L69.03 338.47L67.7 336.07Z" fill="#5aa52e"/>
<path d="M69.47 338.47L72.13 338.47L70.8 336.07Z" fill="#5aa52e"/>
<path d="M67.87 342.57L70.53 342.57L69.2 340.17Z" fill="#5aa52e"/>
<path d="M66.37 346.47L69.03 346.47L67.7 344.07Z" fill="#5aa52e"/>
<path d="M69.47 346.87L72.13 346.87L70.8 344.47Z" fill="#5aa52e"/>
<path d="M67.87 350.27L70.53 350.27L69.2 347.87Z" fill="#5aa52e"/>
<path d="M67.87 354.87L70.53 354.87L69.2 352.47Z" fill="#5aa52e"/>
<path d="M67.87 364.17L70.53 364.17L69.2 361.77Z" fill="#5aa52e"/>
<line x1="66.4" y1="345.7" x2="72.2" y2="345.7" stroke="#000" stroke-width="1.1"/>
<path d="M76.67 335.43L79.33 335.43L78 337.83Z" fill="#4b1570"/>
<path d="M78.17 342.73L80.83 342.73L79.5 345.13Z" fill="#4b1570"/>
<path d="M75.17 344.03L77.83 344.03L76.5 346.43Z" fill="#4b1570"/>
<path d="M76.67 350.43L79.33 350.43L78 352.83Z" fill="#4b1570"/>
<path d="M76.67 358.43L79.33 358.43L78 360.83Z" fill="#4b1570"/>
<line x1="75.1" y1="346.5" x2="80.9" y2="346.5" stroke="#000" stroke-width="1.1"/>
<line x1="89.7" y1="359.5" x2="110" y2="359.5" stroke="#000" stroke-width="1.1"/>
<text x="100" y="361" font-size="8.4" text-anchor="middle" fill="#111" style="stroke-width:.26px">***</text>
<line x1="99.7" y1="365.4" x2="110" y2="365.4" stroke="#000" stroke-width="1.1"/>
<text x="104.9" y="366.9" font-size="8.4" text-anchor="middle" fill="#111" style="stroke-width:.26px">***</text>
<circle cx="92.3" cy="417.7" r="1.15" fill="#b5002a"/>
<circle cx="91.2" cy="419.2" r="1.15" fill="#b5002a"/>
<circle cx="93.5" cy="419.2" r="1.15" fill="#b5002a"/>
<circle cx="92.3" cy="420.8" r="1.15" fill="#b5002a"/>
<circle cx="91.2" cy="432.3" r="1.15" fill="#b5002a"/>
<circle cx="94.2" cy="430.8" r="1.15" fill="#b5002a"/>
<line x1="89.6" y1="422.6" x2="95.4" y2="422.6" stroke="#000" stroke-width="1.1"/>
<rect x="100.12" y="390.42" width="2.16" height="2.16" fill="#173a80"/>
<rect x="101.72" y="417.42" width="2.16" height="2.16" fill="#173a80"/>
<rect x="98.62" y="420.72" width="2.16" height="2.16" fill="#173a80"/>
<rect x="100.12" y="429.72" width="2.16" height="2.16" fill="#173a80"/>
<rect x="99.22" y="432.32" width="2.16" height="2.16" fill="#173a80"/>
<rect x="100.72" y="433.52" width="2.16" height="2.16" fill="#173a80"/>
<line x1="98.3" y1="419.2" x2="104.1" y2="419.2" stroke="#000" stroke-width="1.1"/>
<path d="M108.67 371.87L111.33 371.87L110 369.47Z" fill="#5aa52e"/>
<path d="M108.67 384.87L111.33 384.87L110 382.47Z" fill="#5aa52e"/>
<path d="M108.67 391.57L111.33 391.57L110 389.17Z" fill="#5aa52e"/>
<path d="M109.47 401.07L112.13 401.07L110.8 398.67Z" fill="#5aa52e"/>
<path d="M107.87 403.67L110.53 403.67L109.2 401.27Z" fill="#5aa52e"/>
<path d="M107.87 407.27L110.53 407.27L109.2 404.87Z" fill="#5aa52e"/>
<path d="M109.47 409.57L112.13 409.57L110.8 407.17Z" fill="#5aa52e"/>
<line x1="107.1" y1="393.8" x2="112.9" y2="393.8" stroke="#000" stroke-width="1.1"/>
<path d="M117.17 373.23L119.83 373.23L118.5 375.63Z" fill="#4b1570"/>
<path d="M117.17 385.83L119.83 385.83L118.5 388.23Z" fill="#4b1570"/>
<path d="M117.17 397.13L119.83 397.13L118.5 399.53Z" fill="#4b1570"/>
<path d="M118.67 403.23L121.33 403.23L120 405.63Z" fill="#4b1570"/>
<path d="M115.87 405.13L118.53 405.13L117.2 407.53Z" fill="#4b1570"/>
<line x1="115.7" y1="391.5" x2="121.5" y2="391.5" stroke="#000" stroke-width="1.1"/>
<line x1="131.2" y1="346.6" x2="151.9" y2="346.6" stroke="#000" stroke-width="1.1"/>
<text x="141.6" y="348.1" font-size="8.4" text-anchor="middle" fill="#111" style="stroke-width:.26px">****</text>
<line x1="141.2" y1="352.3" x2="151.9" y2="352.3" stroke="#000" stroke-width="1.1"/>
<text x="146.5" y="353.8" font-size="8.4" text-anchor="middle" fill="#111" style="stroke-width:.26px">****</text>
<circle cx="133.2" cy="383.8" r="1.15" fill="#b5002a"/>
<circle cx="131.9" cy="386.5" r="1.15" fill="#b5002a"/>
<circle cx="134.2" cy="386.5" r="1.15" fill="#b5002a"/>
<circle cx="133.2" cy="388.5" r="1.15" fill="#b5002a"/>
<circle cx="135" cy="392.6" r="1.15" fill="#b5002a"/>
<circle cx="131.9" cy="393.8" r="1.15" fill="#b5002a"/>
<line x1="130.3" y1="388.5" x2="136.1" y2="388.5" stroke="#000" stroke-width="1.1"/>
<rect x="139.32" y="395.82" width="2.16" height="2.16" fill="#173a80"/>
<rect x="142.42" y="397.12" width="2.16" height="2.16" fill="#173a80"/>
<rect x="140.82" y="398.92" width="2.16" height="2.16" fill="#173a80"/>
<rect x="142.42" y="400.12" width="2.16" height="2.16" fill="#173a80"/>
<rect x="140.82" y="407.12" width="2.16" height="2.16" fill="#173a80"/>
<rect x="140.82" y="414.32" width="2.16" height="2.16" fill="#173a80"/>
<line x1="139.1" y1="402" x2="144.9" y2="402" stroke="#000" stroke-width="1.1"/>
<path d="M149.37 359.57L152.03 359.57L150.7 357.17Z" fill="#5aa52e"/>
<path d="M148.27 362.57L150.93 362.57L149.6 360.17Z" fill="#5aa52e"/>
<path d="M150.57 364.57L153.23 364.57L151.9 362.17Z" fill="#5aa52e"/>
<path d="M149.07 365.67L151.73 365.67L150.4 363.27Z" fill="#5aa52e"/>
<path d="M148.27 369.27L150.93 369.27L149.6 366.87Z" fill="#5aa52e"/>
<path d="M151.07 379.57L153.73 379.57L152.4 377.17Z" fill="#5aa52e"/>
<path d="M147.87 382.27L150.53 382.27L149.2 379.87Z" fill="#5aa52e"/>
<line x1="147.9" y1="366.6" x2="153.7" y2="366.6" stroke="#000" stroke-width="1.1"/>
<path d="M157.97 358.43L160.63 358.43L159.3 360.83Z" fill="#4b1570"/>
<path d="M157.97 362.43L160.63 362.43L159.3 364.83Z" fill="#4b1570"/>
<path d="M156.47 367.73L159.13 367.73L157.8 370.13Z" fill="#4b1570"/>
<path d="M159.47 371.23L162.13 371.23L160.8 373.63Z" fill="#4b1570"/>
<path d="M157.97 382.73L160.63 382.73L159.3 385.13Z" fill="#4b1570"/>
<line x1="156.5" y1="368.5" x2="162.3" y2="368.5" stroke="#000" stroke-width="1.1"/>
<line x1="171.9" y1="330" x2="192.2" y2="330" stroke="#000" stroke-width="1.1"/>
<text x="182.2" y="331.5" font-size="8.4" text-anchor="middle" fill="#111" style="stroke-width:.26px">****</text>
<line x1="182.2" y1="335.8" x2="192.2" y2="335.8" stroke="#000" stroke-width="1.1"/>
<text x="187.3" y="337.3" font-size="8.4" text-anchor="middle" fill="#111" style="stroke-width:.26px">**</text>
<circle cx="173.9" cy="355.8" r="1.15" fill="#b5002a"/>
<circle cx="173.9" cy="360.5" r="1.15" fill="#b5002a"/>
<circle cx="175.5" cy="381.6" r="1.15" fill="#b5002a"/>
<circle cx="172.4" cy="384.3" r="1.15" fill="#b5002a"/>
<circle cx="173.9" cy="388.9" r="1.15" fill="#b5002a"/>
<circle cx="173.9" cy="398.2" r="1.15" fill="#b5002a"/>
<line x1="171.1" y1="373.8" x2="176.9" y2="373.8" stroke="#000" stroke-width="1.1"/>
<rect x="181.62" y="345.82" width="2.16" height="2.16" fill="#173a80"/>
<rect x="181.62" y="352.42" width="2.16" height="2.16" fill="#173a80"/>
<rect x="180.52" y="363.12" width="2.16" height="2.16" fill="#173a80"/>
<rect x="182.72" y="363.12" width="2.16" height="2.16" fill="#173a80"/>
<rect x="181.62" y="364.62" width="2.16" height="2.16" fill="#173a80"/>
<rect x="181.62" y="373.22" width="2.16" height="2.16" fill="#173a80"/>
<rect x="181.62" y="407.12" width="2.16" height="2.16" fill="#173a80"/>
<line x1="179.9" y1="363.8" x2="185.7" y2="363.8" stroke="#000" stroke-width="1.1"/>
<path d="M189.07 343.67L191.73 343.67L190.4 341.27Z" fill="#5aa52e"/>
<path d="M190.87 343.67L193.53 343.67L192.2 341.27Z" fill="#5aa52e"/>
<path d="M188.27 347.97L190.93 347.97L189.6 345.57Z" fill="#5aa52e"/>
<path d="M189.87 348.77L192.53 348.77L191.2 346.37Z" fill="#5aa52e"/>
<path d="M191.67 347.97L194.33 347.97L193 345.57Z" fill="#5aa52e"/>
<path d="M191.37 352.87L194.03 352.87L192.7 350.47Z" fill="#5aa52e"/>
<path d="M188.57 355.27L191.23 355.27L189.9 352.87Z" fill="#5aa52e"/>
<line x1="188.4" y1="346.5" x2="194.2" y2="346.5" stroke="#000" stroke-width="1.1"/>
<path d="M198.77 334.03L201.43 334.03L200.1 336.43Z" fill="#4b1570"/>
<path d="M198.77 338.93L201.43 338.93L200.1 341.33Z" fill="#4b1570"/>
<path d="M197.47 345.83L200.13 345.83L198.8 348.23Z" fill="#4b1570"/>
<path d="M199.87 345.83L202.53 345.83L201.2 348.23Z" fill="#4b1570"/>
<path d="M198.77 347.73L201.43 347.73L200.1 350.13Z" fill="#4b1570"/>
<line x1="197.3" y1="343.5" x2="203.1" y2="343.5" stroke="#000" stroke-width="1.1"/>
<line x1="210.8" y1="368.5" x2="231.5" y2="368.5" stroke="#000" stroke-width="1.1"/>
<text x="221.2" y="370" font-size="8.4" text-anchor="middle" fill="#111" style="stroke-width:.26px">****</text>
<line x1="220.8" y1="374.3" x2="231.5" y2="374.3" stroke="#000" stroke-width="1.1"/>
<text x="226.2" y="375.8" font-size="8.4" text-anchor="middle" fill="#111" style="stroke-width:.26px">****</text>
<circle cx="214.6" cy="379.2" r="1.15" fill="#b5002a"/>
<circle cx="215.8" cy="384.2" r="1.15" fill="#b5002a"/>
<circle cx="213.5" cy="385.7" r="1.15" fill="#b5002a"/>
<circle cx="215.1" cy="386.9" r="1.15" fill="#b5002a"/>
<circle cx="216.2" cy="391.8" r="1.15" fill="#b5002a"/>
<circle cx="213.1" cy="393.8" r="1.15" fill="#b5002a"/>
<line x1="211.8" y1="386.2" x2="217.6" y2="386.2" stroke="#000" stroke-width="1.1"/>
<rect x="223.82" y="382.72" width="2.16" height="2.16" fill="#173a80"/>
<rect x="219.72" y="384.62" width="2.16" height="2.16" fill="#173a80"/>
<rect x="221.22" y="385.82" width="2.16" height="2.16" fill="#173a80"/>
<rect x="223.52" y="388.12" width="2.16" height="2.16" fill="#173a80"/>
<rect x="221.22" y="390.42" width="2.16" height="2.16" fill="#173a80"/>
<rect x="223.52" y="392.02" width="2.16" height="2.16" fill="#173a80"/>
<rect x="222.32" y="393.52" width="2.16" height="2.16" fill="#173a80"/>
<line x1="220.4" y1="388.5" x2="226.2" y2="388.5" stroke="#000" stroke-width="1.1"/>
<path d="M230.67 412.27L233.33 412.27L232 409.87Z" fill="#5aa52e"/>
<path d="M229.47 414.17L232.13 414.17L230.8 411.77Z" fill="#5aa52e"/>
<path d="M232.17 414.47L234.83 414.47L233.5 412.07Z" fill="#5aa52e"/>
<path d="M230.67 415.67L233.33 415.67L232 413.27Z" fill="#5aa52e"/>
<path d="M229.47 418.47L232.13 418.47L230.8 416.07Z" fill="#5aa52e"/>
<path d="M232.17 418.77L234.83 418.77L233.5 416.37Z" fill="#5aa52e"/>
<path d="M230.67 420.27L233.33 420.27L232 417.87Z" fill="#5aa52e"/>
<line x1="229.2" y1="415.7" x2="235" y2="415.7" stroke="#000" stroke-width="1.1"/>
<path d="M240.67 409.73L243.33 409.73L242 412.13Z" fill="#4b1570"/>
<path d="M238.67 412.03L241.33 412.03L240 414.43Z" fill="#4b1570"/>
<path d="M240.17 412.03L242.83 412.03L241.5 414.43Z" fill="#4b1570"/>
<path d="M238.37 415.83L241.03 415.83L239.7 418.23Z" fill="#4b1570"/>
<path d="M240.97 415.83L243.63 415.83L242.3 418.23Z" fill="#4b1570"/>
<line x1="238.1" y1="414.3" x2="243.9" y2="414.3" stroke="#000" stroke-width="1.1"/>
<g stroke="#000" stroke-width="1.15" fill="none">
<line x1="315.8" y1="324.6" x2="315.8" y2="456.2"/>
<line x1="315.3" y1="455.7" x2="514.9" y2="455.7"/>
<line x1="312.2" y1="328" x2="315.8" y2="328"/>
<line x1="312.2" y1="370.6" x2="315.8" y2="370.6"/>
<line x1="312.2" y1="413.1" x2="315.8" y2="413.1"/>
<line x1="312.2" y1="455.7" x2="315.8" y2="455.7"/>
<line x1="332.4" y1="455.7" x2="332.4" y2="458.9"/>
<line x1="365.6" y1="455.7" x2="365.6" y2="458.9"/>
<line x1="398.9" y1="455.7" x2="398.9" y2="458.9"/>
<line x1="432.2" y1="455.7" x2="432.2" y2="458.9"/>
<line x1="465.4" y1="455.7" x2="465.4" y2="458.9"/>
<line x1="498.7" y1="455.7" x2="498.7" y2="458.9"/>
</g>
<g stroke="#111" stroke-width="0.9">
<line x1="313.5" y1="357.78" x2="315.8" y2="357.78"/>
<line x1="313.5" y1="350.27" x2="315.8" y2="350.27"/>
<line x1="313.5" y1="344.95" x2="315.8" y2="344.95"/>
<line x1="313.5" y1="340.82" x2="315.8" y2="340.82"/>
<line x1="313.5" y1="337.45" x2="315.8" y2="337.45"/>
<line x1="313.5" y1="334.6" x2="315.8" y2="334.6"/>
<line x1="313.5" y1="332.13" x2="315.8" y2="332.13"/>
<line x1="313.5" y1="329.95" x2="315.8" y2="329.95"/>
<line x1="313.5" y1="400.38" x2="315.8" y2="400.38"/>
<line x1="313.5" y1="392.87" x2="315.8" y2="392.87"/>
<line x1="313.5" y1="387.55" x2="315.8" y2="387.55"/>
<line x1="313.5" y1="383.42" x2="315.8" y2="383.42"/>
<line x1="313.5" y1="380.05" x2="315.8" y2="380.05"/>
<line x1="313.5" y1="377.2" x2="315.8" y2="377.2"/>
<line x1="313.5" y1="374.73" x2="315.8" y2="374.73"/>
<line x1="313.5" y1="372.55" x2="315.8" y2="372.55"/>
<line x1="313.5" y1="442.88" x2="315.8" y2="442.88"/>
<line x1="313.5" y1="435.37" x2="315.8" y2="435.37"/>
<line x1="313.5" y1="430.05" x2="315.8" y2="430.05"/>
<line x1="313.5" y1="425.92" x2="315.8" y2="425.92"/>
<line x1="313.5" y1="422.55" x2="315.8" y2="422.55"/>
<line x1="313.5" y1="419.7" x2="315.8" y2="419.7"/>
<line x1="313.5" y1="417.23" x2="315.8" y2="417.23"/>
<line x1="313.5" y1="415.05" x2="315.8" y2="415.05"/>
</g>
<g font-size="7.3" text-anchor="end" fill="#111">
<text x="309.2" y="330.65">10000</text>
<text x="309.2" y="373.25">1000</text>
<text x="309.2" y="415.75">100</text>
<text x="309.2" y="458.35">10</text>
</g>
<g font-size="7.8" fill="#111">
<text transform="translate(334.7 466.7) rotate(-45)" x="-24.32" textLength="24.32" lengthAdjust="spacingAndGlyphs">CCNA2</text>
<text transform="translate(368.5 466.7) rotate(-45)" x="-24.32" textLength="24.32" lengthAdjust="spacingAndGlyphs">CCNB1</text>
<text transform="translate(402.1 466.7) rotate(-45)" x="-35.1" textLength="35.1" lengthAdjust="spacingAndGlyphs">CCNB1IP1</text>
<text transform="translate(434.4 466.7) rotate(-45)" x="-24.72" textLength="24.72" lengthAdjust="spacingAndGlyphs">CCND2</text>
<text transform="translate(467.6 466.7) rotate(-45)" x="-24.72" textLength="24.72" lengthAdjust="spacingAndGlyphs">CCND3</text>
<text transform="translate(501.6 466.7) rotate(-45)" x="-24.32" textLength="24.32" lengthAdjust="spacingAndGlyphs">CCNE2</text>
</g>
<text transform="translate(281.2 388.5) rotate(-90)" font-size="8.9" text-anchor="middle" fill="#111">Relative expression</text>
<line x1="321.2" y1="363.1" x2="337.7" y2="363.1" stroke="#000" stroke-width="1.1"/>
<text x="329.7" y="364" font-size="6.9" text-anchor="middle" fill="#111" style="stroke-width:.26px">****</text>
<line x1="329" y1="368.9" x2="339.4" y2="368.9" stroke="#000" stroke-width="1.1"/>
<text x="334.2" y="369.8" font-size="6.9" text-anchor="middle" fill="#111" style="stroke-width:.26px">****</text>
<circle cx="320.5" cy="388.5" r="1.1" fill="#b5002a"/>
<circle cx="324.3" cy="390.8" r="1.1" fill="#b5002a"/>
<circle cx="323.1" cy="391.8" r="1.1" fill="#b5002a"/>
<circle cx="320.5" cy="394.9" r="1.1" fill="#b5002a"/>
<circle cx="321.7" cy="402.8" r="1.1" fill="#b5002a"/>
<circle cx="321.7" cy="413.1" r="1.1" fill="#b5002a"/>
<line x1="319.6" y1="394.9" x2="324.4" y2="394.9" stroke="#000" stroke-width="1.1"/>
<rect x="327.87" y="374.67" width="2.07" height="2.07" fill="#173a80"/>
<rect x="327.87" y="380.77" width="2.07" height="2.07" fill="#173a80"/>
<rect x="327.87" y="389.27" width="2.07" height="2.07" fill="#173a80"/>
<rect x="326.77" y="393.87" width="2.07" height="2.07" fill="#173a80"/>
<rect x="329.17" y="395.17" width="2.07" height="2.07" fill="#173a80"/>
<rect x="327.87" y="415.87" width="2.07" height="2.07" fill="#173a80"/>
<line x1="326.6" y1="386.2" x2="331.4" y2="386.2" stroke="#000" stroke-width="1.1"/>
<path d="M334.92 418.72L337.48 418.72L336.2 416.42Z" fill="#5aa52e"/>
<path d="M334.92 427.22L337.48 427.22L336.2 424.92Z" fill="#5aa52e"/>
<path d="M333.02 433.32L335.58 433.32L334.3 431.02Z" fill="#5aa52e"/>
<path d="M336.12 434.52L338.68 434.52L337.4 432.22Z" fill="#5aa52e"/>
<path d="M334.92 436.72L337.48 436.72L336.2 434.42Z" fill="#5aa52e"/>
<path d="M334.12 440.22L336.68 440.22L335.4 437.92Z" fill="#5aa52e"/>
<path d="M335.82 441.52L338.38 441.52L337.1 439.22Z" fill="#5aa52e"/>
<path d="M334.92 442.52L337.48 442.52L336.2 440.22Z" fill="#5aa52e"/>
<line x1="333.8" y1="431.8" x2="338.6" y2="431.8" stroke="#000" stroke-width="1.1"/>
<path d="M340.72 435.08L343.28 435.08L342 437.38Z" fill="#4b1570"/>
<path d="M342.92 435.98L345.48 435.98L344.2 438.28Z" fill="#4b1570"/>
<path d="M341.82 438.58L344.38 438.58L343.1 440.88Z" fill="#4b1570"/>
<path d="M341.82 436.58L344.38 436.58L343.1 438.88Z" fill="#4b1570"/>
<path d="M340.92 437.28L343.48 437.28L342.2 439.58Z" fill="#4b1570"/>
<line x1="340.7" y1="437.3" x2="345.5" y2="437.3" stroke="#000" stroke-width="1.1"/>
<line x1="353.1" y1="364.3" x2="370" y2="364.3" stroke="#000" stroke-width="1.1"/>
<text x="361.8" y="365.2" font-size="6.9" text-anchor="middle" fill="#111" style="stroke-width:.26px">****</text>
<line x1="361.3" y1="370.3" x2="371.7" y2="370.3" stroke="#000" stroke-width="1.1"/>
<text x="366.4" y="371.2" font-size="6.9" text-anchor="middle" fill="#111" style="stroke-width:.26px">****</text>
<circle cx="353.8" cy="385.4" r="1.1" fill="#b5002a"/>
<circle cx="356.2" cy="385.4" r="1.1" fill="#b5002a"/>
<circle cx="355.1" cy="394.9" r="1.1" fill="#b5002a"/>
<circle cx="353.8" cy="401.1" r="1.1" fill="#b5002a"/>
<circle cx="356.2" cy="403.1" r="1.1" fill="#b5002a"/>
<circle cx="355.1" cy="420.1" r="1.1" fill="#b5002a"/>
<line x1="352.7" y1="394.9" x2="357.5" y2="394.9" stroke="#000" stroke-width="1.1"/>
<rect x="360.97" y="375.47" width="2.07" height="2.07" fill="#173a80"/>
<rect x="360.47" y="384.77" width="2.07" height="2.07" fill="#173a80"/>
<rect x="361.57" y="386.37" width="2.07" height="2.07" fill="#173a80"/>
<rect x="359.77" y="393.57" width="2.07" height="2.07" fill="#173a80"/>
<rect x="362.37" y="396.97" width="2.07" height="2.07" fill="#173a80"/>
<rect x="360.97" y="422.87" width="2.07" height="2.07" fill="#173a80"/>
<line x1="359.8" y1="389.5" x2="364.6" y2="389.5" stroke="#000" stroke-width="1.1"/>
<path d="M367.92 414.92L370.48 414.92L369.2 412.62Z" fill="#5aa52e"/>
<path d="M367.92 421.82L370.48 421.82L369.2 419.52Z" fill="#5aa52e"/>
<path d="M367.92 426.82L370.48 426.82L369.2 424.52Z" fill="#5aa52e"/>
<path d="M366.72 432.22L369.28 432.22L368 429.92Z" fill="#5aa52e"/>
<path d="M366.72 436.02L369.28 436.02L368 433.72Z" fill="#5aa52e"/>
<path d="M369.22 436.52L371.78 436.52L370.5 434.22Z" fill="#5aa52e"/>
<path d="M366.72 444.92L369.28 444.92L368 442.62Z" fill="#5aa52e"/>
<path d="M369.22 443.42L371.78 443.42L370.5 441.12Z" fill="#5aa52e"/>
<line x1="366.9" y1="428.1" x2="371.7" y2="428.1" stroke="#000" stroke-width="1.1"/>
<path d="M375.22 427.78L377.78 427.78L376.5 430.08Z" fill="#4b1570"/>
<path d="M375.22 432.18L377.78 432.18L376.5 434.48Z" fill="#4b1570"/>
<path d="M375.22 441.18L377.78 441.18L376.5 443.48Z" fill="#4b1570"/>
<path d="M374.42 442.18L376.98 442.18L375.7 444.48Z" fill="#4b1570"/>
<path d="M375.92 442.18L378.48 442.18L377.2 444.48Z" fill="#4b1570"/>
<path d="M375.22 443.98L377.78 443.98L376.5 446.28Z" fill="#4b1570"/>
<line x1="374.1" y1="437.6" x2="378.9" y2="437.6" stroke="#000" stroke-width="1.1"/>
<line x1="386.2" y1="364.6" x2="403.5" y2="364.6" stroke="#000" stroke-width="1.1"/>
<text x="395.4" y="365.5" font-size="6.9" text-anchor="middle" fill="#111" style="stroke-width:.26px">****</text>
<line x1="394.4" y1="370.8" x2="405.4" y2="370.8" stroke="#000" stroke-width="1.1"/>
<text x="399.8" y="371.7" font-size="6.9" text-anchor="middle" fill="#111" style="stroke-width:.26px">****</text>
<circle cx="388.2" cy="377.4" r="1.1" fill="#b5002a"/>
<circle cx="387.2" cy="378.4" r="1.1" fill="#b5002a"/>
<circle cx="389.2" cy="378.4" r="1.1" fill="#b5002a"/>
<circle cx="388.2" cy="379.6" r="1.1" fill="#b5002a"/>
<circle cx="388.2" cy="385.9" r="1.1" fill="#b5002a"/>
<circle cx="388.2" cy="391.7" r="1.1" fill="#b5002a"/>
<line x1="385.9" y1="382.3" x2="390.7" y2="382.3" stroke="#000" stroke-width="1.1"/>
<rect x="393.57" y="376.67" width="2.07" height="2.07" fill="#173a80"/>
<rect x="395.17" y="376.67" width="2.07" height="2.07" fill="#173a80"/>
<rect x="394.37" y="378.47" width="2.07" height="2.07" fill="#173a80"/>
<rect x="395.47" y="387.17" width="2.07" height="2.07" fill="#173a80"/>
<rect x="393.27" y="394.07" width="2.07" height="2.07" fill="#173a80"/>
<rect x="395.47" y="393.57" width="2.07" height="2.07" fill="#173a80"/>
<line x1="393" y1="384.3" x2="397.8" y2="384.3" stroke="#000" stroke-width="1.1"/>
<path d="M401.32 407.22L403.88 407.22L402.6 404.92Z" fill="#5aa52e"/>
<path d="M401.32 409.12L403.88 409.12L402.6 406.82Z" fill="#5aa52e"/>
<path d="M400.22 416.82L402.78 416.82L401.5 414.52Z" fill="#5aa52e"/>
<path d="M402.52 416.02L405.08 416.02L403.8 413.72Z" fill="#5aa52e"/>
<path d="M401.32 410.62L403.88 410.62L402.6 408.32Z" fill="#5aa52e"/>
<line x1="400.2" y1="409.3" x2="405" y2="409.3" stroke="#000" stroke-width="1.1"/>
<path d="M408.32 402.18L410.88 402.18L409.6 404.48Z" fill="#4b1570"/>
<path d="M408.32 406.28L410.88 406.28L409.6 408.58Z" fill="#4b1570"/>
<path d="M407.52 408.28L410.08 408.28L408.8 410.58Z" fill="#4b1570"/>
<path d="M409.12 408.28L411.68 408.28L410.4 410.58Z" fill="#4b1570"/>
<path d="M408.32 411.38L410.88 411.38L409.6 413.68Z" fill="#4b1570"/>
<line x1="407.3" y1="408.8" x2="412.1" y2="408.8" stroke="#000" stroke-width="1.1"/>
<line x1="418.8" y1="356.9" x2="436.5" y2="356.9" stroke="#000" stroke-width="1.1"/>
<text x="427.8" y="355" font-size="7.4" text-anchor="middle" fill="#111">ns</text>
<line x1="428.1" y1="363.8" x2="436.5" y2="363.8" stroke="#000" stroke-width="1.1"/>
<text x="432.4" y="361.9" font-size="7.4" text-anchor="middle" fill="#111">ns</text>
<circle cx="421.5" cy="369.5" r="1.1" fill="#b5002a"/>
<circle cx="421.5" cy="372.6" r="1.1" fill="#b5002a"/>
<circle cx="420.8" cy="374.2" r="1.1" fill="#b5002a"/>
<circle cx="422.2" cy="374.9" r="1.1" fill="#b5002a"/>
<circle cx="421.5" cy="380.5" r="1.1" fill="#b5002a"/>
<circle cx="421.5" cy="386.5" r="1.1" fill="#b5002a"/>
<line x1="419.1" y1="376.5" x2="423.9" y2="376.5" stroke="#000" stroke-width="1.1"/>
<rect x="426.27" y="373.57" width="2.07" height="2.07" fill="#173a80"/>
<rect x="428.57" y="376.67" width="2.07" height="2.07" fill="#173a80"/>
<rect x="428.57" y="378.17" width="2.07" height="2.07" fill="#173a80"/>
<rect x="426.57" y="380.47" width="2.07" height="2.07" fill="#173a80"/>
<rect x="427.47" y="393.87" width="2.07" height="2.07" fill="#173a80"/>
<rect x="428.77" y="399.77" width="2.07" height="2.07" fill="#173a80"/>
<rect x="426.27" y="403.17" width="2.07" height="2.07" fill="#173a80"/>
<line x1="426.2" y1="384.6" x2="431" y2="384.6" stroke="#000" stroke-width="1.1"/>
<path d="M433.22 371.52L435.78 371.52L434.5 369.22Z" fill="#5aa52e"/>
<path d="M435.22 373.82L437.78 373.82L436.5 371.52Z" fill="#5aa52e"/>
<path d="M434.02 375.22L436.58 375.22L435.3 372.92Z" fill="#5aa52e"/>
<path d="M434.52 376.72L437.08 376.72L435.8 374.42Z" fill="#5aa52e"/>
<path d="M433.22 382.12L435.78 382.12L434.5 379.82Z" fill="#5aa52e"/>
<path d="M435.52 383.32L438.08 383.32L436.8 381.02Z" fill="#5aa52e"/>
<path d="M435.52 386.42L438.08 386.42L436.8 384.12Z" fill="#5aa52e"/>
<path d="M433.22 388.42L435.78 388.42L434.5 386.12Z" fill="#5aa52e"/>
<line x1="433.4" y1="377.4" x2="438.2" y2="377.4" stroke="#000" stroke-width="1.1"/>
<path d="M441.42 381.58L443.98 381.58L442.7 383.88Z" fill="#4b1570"/>
<path d="M441.42 390.48L443.98 390.48L442.7 392.78Z" fill="#4b1570"/>
<path d="M441.42 398.58L443.98 398.58L442.7 400.88Z" fill="#4b1570"/>
<path d="M441.42 413.18L443.98 413.18L442.7 415.48Z" fill="#4b1570"/>
<path d="M441.42 420.88L443.98 420.88L442.7 423.18Z" fill="#4b1570"/>
<line x1="440.4" y1="397.3" x2="445.2" y2="397.3" stroke="#000" stroke-width="1.1"/>
<line x1="452.7" y1="326.2" x2="469.9" y2="326.2" stroke="#000" stroke-width="1.1"/>
<text x="461.2" y="327.1" font-size="6.9" text-anchor="middle" fill="#111" style="stroke-width:.26px">****</text>
<line x1="459.9" y1="332.3" x2="471.2" y2="332.3" stroke="#000" stroke-width="1.1"/>
<text x="465.5" y="333.2" font-size="6.9" text-anchor="middle" fill="#111" style="stroke-width:.26px">****</text>
<circle cx="453.2" cy="343.1" r="1.1" fill="#b5002a"/>
<circle cx="455.8" cy="343.8" r="1.1" fill="#b5002a"/>
<circle cx="454.2" cy="344.6" r="1.1" fill="#b5002a"/>
<circle cx="456.1" cy="348.8" r="1.1" fill="#b5002a"/>
<circle cx="453.5" cy="351.1" r="1.1" fill="#b5002a"/>
<line x1="452.1" y1="345.1" x2="456.9" y2="345.1" stroke="#000" stroke-width="1.1"/>
<rect x="459.37" y="338.17" width="2.07" height="2.07" fill="#173a80"/>
<rect x="461.67" y="337.47" width="2.07" height="2.07" fill="#173a80"/>
<rect x="460.47" y="339.27" width="2.07" height="2.07" fill="#173a80"/>
<rect x="459.67" y="340.77" width="2.07" height="2.07" fill="#173a80"/>
<rect x="461.97" y="341.27" width="2.07" height="2.07" fill="#173a80"/>
<rect x="460.87" y="342.47" width="2.07" height="2.07" fill="#173a80"/>
<rect x="460.87" y="346.67" width="2.07" height="2.07" fill="#173a80"/>
<line x1="459.4" y1="341.2" x2="464.2" y2="341.2" stroke="#000" stroke-width="1.1"/>
<path d="M467.22 374.12L469.78 374.12L468.5 371.82Z" fill="#5aa52e"/>
<path d="M469.12 373.82L471.68 373.82L470.4 371.52Z" fill="#5aa52e"/>
<path d="M466.02 376.72L468.58 376.72L467.3 374.42Z" fill="#5aa52e"/>
<path d="M468.32 377.22L470.88 377.22L469.6 374.92Z" fill="#5aa52e"/>
<path d="M467.52 379.22L470.08 379.22L468.8 376.92Z" fill="#5aa52e"/>
<path d="M468.82 383.32L471.38 383.32L470.1 381.02Z" fill="#5aa52e"/>
<path d="M466.52 386.82L469.08 386.82L467.8 384.52Z" fill="#5aa52e"/>
<line x1="466.4" y1="376.9" x2="471.2" y2="376.9" stroke="#000" stroke-width="1.1"/>
<path d="M474.52 365.18L477.08 365.18L475.8 367.48Z" fill="#4b1570"/>
<path d="M474.52 366.68L477.08 366.68L475.8 368.98Z" fill="#4b1570"/>
<path d="M476.12 372.48L478.68 372.48L477.4 374.78Z" fill="#4b1570"/>
<path d="M473.62 373.58L476.18 373.58L474.9 375.88Z" fill="#4b1570"/>
<line x1="473.5" y1="369.7" x2="478.3" y2="369.7" stroke="#000" stroke-width="1.1"/>
<line x1="484.9" y1="363.4" x2="502" y2="363.4" stroke="#000" stroke-width="1.1"/>
<text x="493.5" y="364.3" font-size="6.9" text-anchor="middle" fill="#111" style="stroke-width:.26px">**</text>
<line x1="492.8" y1="369.2" x2="503.6" y2="369.2" stroke="#000" stroke-width="1.1"/>
<text x="498.1" y="370.1" font-size="6.9" text-anchor="middle" fill="#111" style="stroke-width:.26px">****</text>
<circle cx="489.5" cy="408.8" r="1.1" fill="#b5002a"/>
<circle cx="486.2" cy="409.9" r="1.1" fill="#b5002a"/>
<circle cx="488" cy="411.2" r="1.1" fill="#b5002a"/>
<circle cx="486.9" cy="412.4" r="1.1" fill="#b5002a"/>
<circle cx="488" cy="418.5" r="1.1" fill="#b5002a"/>
<circle cx="488" cy="442.4" r="1.1" fill="#b5002a"/>
<line x1="485.6" y1="414.2" x2="490.4" y2="414.2" stroke="#000" stroke-width="1.1"/>
<rect x="494.07" y="374.37" width="2.07" height="2.07" fill="#173a80"/>
<rect x="495.17" y="386.17" width="2.07" height="2.07" fill="#173a80"/>
<rect x="492.97" y="386.97" width="2.07" height="2.07" fill="#173a80"/>
<rect x="494.07" y="394.47" width="2.07" height="2.07" fill="#173a80"/>
<rect x="494.07" y="405.97" width="2.07" height="2.07" fill="#173a80"/>
<rect x="494.07" y="419.67" width="2.07" height="2.07" fill="#173a80"/>
<rect x="494.07" y="434.27" width="2.07" height="2.07" fill="#173a80"/>
<line x1="492.8" y1="392.7" x2="497.6" y2="392.7" stroke="#000" stroke-width="1.1"/>
<path d="M501.02 433.22L503.58 433.22L502.3 430.92Z" fill="#5aa52e"/>
<path d="M499.52 436.02L502.08 436.02L500.8 433.72Z" fill="#5aa52e"/>
<path d="M501.82 436.82L504.38 436.82L503.1 434.52Z" fill="#5aa52e"/>
<path d="M500.22 438.32L502.78 438.32L501.5 436.02Z" fill="#5aa52e"/>
<path d="M499.52 442.92L502.08 442.92L500.8 440.62Z" fill="#5aa52e"/>
<path d="M502.12 442.62L504.68 442.62L503.4 440.32Z" fill="#5aa52e"/>
<path d="M500.72 444.52L503.28 444.52L502 442.22Z" fill="#5aa52e"/>
<line x1="499.8" y1="438.1" x2="504.6" y2="438.1" stroke="#000" stroke-width="1.1"/>
<path d="M506.92 432.18L509.48 432.18L508.2 434.48Z" fill="#4b1570"/>
<path d="M509.52 434.28L512.08 434.28L510.8 436.58Z" fill="#4b1570"/>
<path d="M507.52 437.08L510.08 437.08L508.8 439.38Z" fill="#4b1570"/>
<path d="M508.42 438.58L510.98 438.58L509.7 440.88Z" fill="#4b1570"/>
<line x1="507" y1="437.3" x2="511.8" y2="437.3" stroke="#000" stroke-width="1.1"/>
<circle cx="346.1" cy="504.6" r="1" fill="#b5002a"/>
<rect x="345.16" y="512.96" width="1.88" height="1.88" fill="#173a80"/>
<path d="M437.84 505.53L440.16 505.53L439 503.44Z" fill="#5aa52e"/>
<path d="M437.84 512.97L440.16 512.97L439 515.06Z" fill="#4b1570"/>
<g font-size="7.5" fill="#111">
<text x="350.8" y="507.3" textLength="64.5" lengthAdjust="spacingAndGlyphs">CD19+CD20+ B cells</text>
<text x="350.8" y="516.6" textLength="62.3" lengthAdjust="spacingAndGlyphs">CD19+CD20- B cells</text>
<text x="442.8" y="507.3" textLength="36" lengthAdjust="spacingAndGlyphs">CD19+ ASC</text>
<text x="442.8" y="516.6" textLength="33.8" lengthAdjust="spacingAndGlyphs">CD19- ASC</text>
</g>
<path d="M0 0H520V522H0Z M1 1V520.85H518.5V1Z" fill="#000" fill-rule="evenodd"/>
</svg>
</body>
</html>
